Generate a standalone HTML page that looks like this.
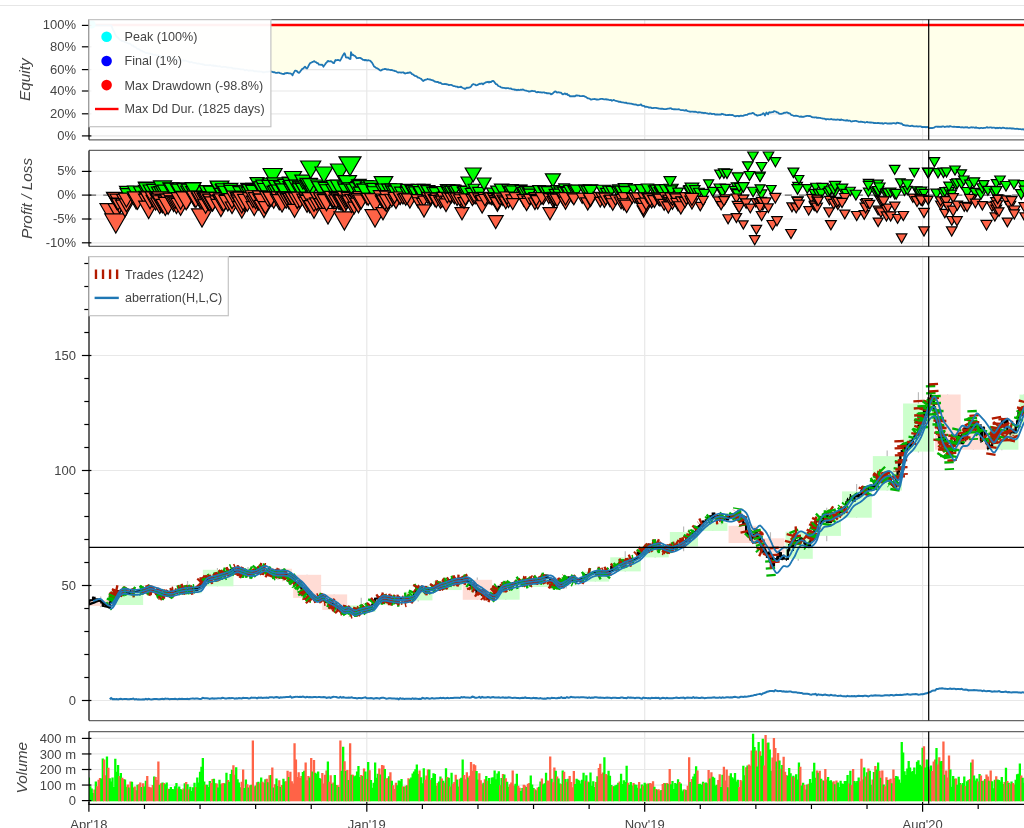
<!DOCTYPE html><html><head><meta charset="utf-8"><title>Backtest</title><style>html,body{margin:0;padding:0;background:#fff;width:1024px;height:828px;overflow:hidden;position:relative}</style></head><body><svg width="1024" height="828" viewBox="0 0 1024 828" style="position:absolute;left:0;top:0"><defs><clipPath id="cEq"><rect x="89.0" y="19.6" width="941.0" height="120.20000000000002"/></clipPath><clipPath id="cPl"><rect x="89.0" y="150.4" width="941.0" height="96.0"/></clipPath><clipPath id="cMn"><rect x="89.0" y="256.6" width="941.0" height="464.0"/></clipPath><clipPath id="cVo"><rect x="89.0" y="731.6" width="941.0" height="72.19999999999993"/></clipPath></defs><rect x="0" y="0" width="1024" height="828" fill="#fff"/><rect x="0" y="5" width="1024" height="1" fill="#e6e6e6"/><g clip-path="url(#cEq)"><line x1="366.8" y1="19.6" x2="366.8" y2="139.8" stroke="#e8e8e8" stroke-width="1.2"/><line x1="644.7" y1="19.6" x2="644.7" y2="139.8" stroke="#e8e8e8" stroke-width="1.2"/><line x1="922.6" y1="19.6" x2="922.6" y2="139.8" stroke="#e8e8e8" stroke-width="1.2"/><line x1="89.0" y1="25.4" x2="1030" y2="25.4" stroke="#e8e8e8" stroke-width="1.2"/><line x1="89.0" y1="46.8" x2="1030" y2="46.8" stroke="#e8e8e8" stroke-width="1.2"/><line x1="89.0" y1="69.6" x2="1030" y2="69.6" stroke="#e8e8e8" stroke-width="1.2"/><line x1="89.0" y1="91" x2="1030" y2="91" stroke="#e8e8e8" stroke-width="1.2"/><line x1="89.0" y1="113.8" x2="1030" y2="113.8" stroke="#e8e8e8" stroke-width="1.2"/><line x1="89.0" y1="135.9" x2="1030" y2="135.9" stroke="#e8e8e8" stroke-width="1.2"/><polygon points="111.4,25.4 89,25.4 90,25.4 91,25.4 92,25.4 93,25.4 94,25.4 95,25.4 96,25.4 97,25.4 98,25.4 99,25.4 100,25.4 101,25.4 102,25.4 103,25.4 104,25.4 105,25.4 106,25.4 107,25.4 108,25.4 109,25.4 110,25.4 111,25.4 111.4,25.4 112,27.12 113,29.95 114,31.37 115,33.87 116,35.99 117,37.03 118,37.62 119,38.88 120,39.76 121,40.2 122,41.07 123,41 124,41.59 125,42.22 126,42.25 127,42.77 128,43.23 129,43.62 130,43.69 131,44.62 132,45.54 133,45.41 134,46.61 135,47.03 136,47.44 137,48.7 138,48.99 139,49.1 140,50.02 141,50.6 142,50.86 143,51.53 144,51.8 145,52.44 146,53.09 146.6,52.83 147,53.14 148,53.2 149,53.57 150,53.46 151,53.84 152,54.16 153,54.66 154,54.94 155,54.55 156,54.91 157,55.49 158,55.05 159,55.66 160,55.98 161,56.51 162,56.57 163,56.52 164,56.71 165,56.94 166,57.58 167,57.29 168,57.52 169,57.89 170,57.97 171,58.15 172,58.12 173,58.6 174,58.69 175,59.29 176,59.36 177,59.39 178,59.77 179,59.72 180,60.26 181,60.2 182,60.55 183,60.28 184,60.89 185,60.58 186,60.69 187,61.32 188,61.38 189,61.84 190,62.56 191,61.99 192,62.23 193,62.63 194,62.9 195,62.92 196,63.11 197,63.53 198,63.68 199,63.48 200,63.91 201,64.14 202,64.06 203,64.58 204,64.49 205,65.14 206,65.05 207,65.13 208,65.07 209,65.29 210,64.93 211,65.25 212,65.73 213,65.21 214,66.06 215,65.51 216,66.24 217,65.95 218,66.46 219,66.4 220,66.09 221,66.89 222,67.05 223,66.77 224,66.83 225,66.96 226,66.91 227,67.57 228,67.31 229,67.59 230,67.55 231,67.74 232,67.73 233,68.51 234,68.31 235,68.74 236,68.65 237,68.63 238,68.87 239,68.96 240,69.25 241,69.31 242,69.48 243,69.36 244,69.65 245,70.41 246,69.95 247,69.97 248,70.44 249,70.82 250,70.22 251,70.65 252,70.66 253,70.5 254,71.24 255,71.16 256,71.31 257,71.22 258,71.63 259,71.5 260,71.72 261,71.6 262,71.69 263,72.44 263.8,72.07 264,72.25 265,72.05 266,71.83 267,71.69 268,71.85 269,71.5 270,71.42 271,71.34 271.3,71.59 272,71.75 273,72.08 274,72.25 275,72.45 276,72.96 277,72.89 278,72.54 279,72.64 280,73.05 281,73.41 282,73.78 283,73.79 284,74 285,73.04 286,73.29 287,72.92 288,73.12 289,73.47 290,73.47 291,73.65 292,74.36 292.5,75.4 293,74.01 294,72.38 295,70.71 296,70.69 297,71.17 297.5,72.06 298,72.34 299,72.94 300,71.84 301,70.45 302,69.12 303,68.63 304,67.59 305,66.59 306,67.88 307,68.48 308,66.93 309,64.92 310,63.34 311,62.7 312,62.18 313,61.9 314,61.1 315,61.79 316,62.18 317,63.01 318,63.15 319,64.72 320,64.64 321,64.83 322,64.64 323,65.88 323.5,66.69 324,65.78 325,64.42 326,62.93 327,62.16 327.5,61.29 328,60.85 329,61.43 330,61.31 331,61.09 332,61.87 333,62.83 334,63.01 335,60.91 335.5,60.06 336,60.48 337,60.04 338,59.81 339,60.24 340,60.71 341,59.1 341.5,58.14 342,57.18 343,55.11 343.5,54.63 344,53.58 344.5,53.27 345,54.18 346,57.47 347,57.66 348,57.5 349,58.43 350,59.03 350.5,58.88 351,52.19 352,55.09 353,54.68 354,55.73 355,55.98 356,57.27 357,58.23 358,58.1 359,57.79 360,57.8 361,58.33 362,59 363,59.88 364,59.86 365,60.4 366,59.88 367,60.56 368,60.24 369,60.48 370,60.67 371,61.53 372,62.55 373,64.44 374,66.45 375,67.01 376,67.88 377,68.14 378,68.82 379,69.52 380,70.34 381,70.5 382,69.83 383,69.32 384,69.18 385,68.96 386,69.18 387,69.62 388,69.5 389,69.74 390,69.94 391,70.23 392,70 393,70.54 394,70.59 395,71.22 396,71.18 397,71.89 398,72.51 399,72.42 400,72.35 401,72.55 402,72.5 403,72.25 404,72.88 405,73.54 406,73.24 407,73.05 408,72.64 409,72.78 410,72.19 411,72.89 412,74.15 413,74.27 414,75.27 415,75.88 416,76.06 417,76.64 418,77.62 419,77.72 420,78.25 421,78.75 422,79.78 423,80.83 423.5,81.04 424,80.34 425,79.91 426,79.55 427,79.3 427.5,78.95 428,79.16 429,79.41 430,79.48 431,79.77 432,80.05 433,80.38 434,80.93 435,81.67 436,81.75 437,82.01 438,81.95 439,82.85 440,82.64 441,83.15 442,83.91 443,84.08 444,84.06 445,83.87 446,84.26 447,84.23 448,84.61 449,85.06 450,84.89 451,84.97 452,85.21 453,85.82 454,86.12 455,86.21 456,86.7 457,86.55 458,87.28 459,87.17 460,87.07 461,86.58 462,87.48 463,87.97 464,88.4 465,88.92 466,88.18 467,87.64 468,87.97 469,87.49 470,87.35 471,86.61 472,84.98 473,84.28 473.5,84.04 474,84.3 475,84.51 476,85.26 477,85.05 478,84.7 479,84.02 480,83.7 481,83.78 482,83.36 483,84.34 484,83.4 485,82.84 486,82.24 487,82.09 488,81.72 489,82.53 490,81.76 491,82.1 492,81.09 493,80.84 494,81.48 495,82.9 496,84.08 497,84.35 498,85.77 499,86.25 500,86.57 501,87.37 502,87.59 503,87.89 504,87.97 505,88.09 506,88.26 507,88.12 508,88.1 509,88.45 510,88.72 511,88.45 512,89.17 513,89.34 514,89.36 515,89.91 516,89.67 517,90.22 518,89.71 519,90.05 520,89.94 521,89.64 522,89.81 523,89.46 524,90.08 525,90.35 526,90.53 527,90.95 528,91.16 529,91.56 530,91.27 531,91.32 532,90.74 533,91.16 534,91.06 535,91.22 536,91.99 537,92.4 538,91.87 539,92.1 540,92.31 541,92.22 542,92.59 543,92.3 544,92.32 545,92.9 546,92.81 547,93.36 548,93.26 549,93.32 550,93.29 551,94.34 552,93.92 553,93.16 554,92.19 555,91.34 556,91.71 557,92.58 558,92.24 559,92.28 560,92.58 561,92.67 562,93.79 563,94.41 563.5,94.26 564,93.82 565,93.41 566,94.35 567,93.8 568,95.13 569,95.23 570,96.26 571,96.23 572,96.43 573,96.12 574,96.26 575,96.25 576,95.51 577,95.45 578,95.58 579,95.58 580,96.2 581,96.19 582,96.08 583,95.98 584,96.05 585,96.65 586,96.99 587,97.82 588,98.47 589,98.47 590,98.91 591,99.68 592,99.38 593,99.18 594,99.19 595,99.01 596,99.5 597,99.4 598,99.56 599,99.33 600,99.07 601,98.89 602,98.94 603,98.99 604,99.31 605,99.37 606,99.16 607,99.69 608,99.51 609,99.87 610,100.13 611,99.98 612,100.82 613,100.3 613.5,99.96 614,100.09 615,100.51 616,100.76 617,101.2 618,101.4 619,101.82 620,101.67 621,102.19 622,102.34 623,102.44 624,102.54 625,102.96 626,102.58 627,103.24 628,103.31 629,103.45 630,103.6 631,103.54 632,103.84 633,104.26 634,104.41 635,104.59 636,104.39 637,105.13 638,105.24 639,105.15 640,104.91 641,104.41 642,105.64 643,105.96 644,105.77 645,106.89 646,106.57 647,106.76 648,107.06 649,107.68 650,107.41 651,107.67 652,108.14 653,108.2 654,107.87 655,107.94 656,107.78 657,108.03 658,108.41 659,108.5 660,108.53 661,108.85 662,108.51 663,108.79 664,109.08 665,109.15 666,109.17 667,108.9 668,108.62 669,108.69 670,108.25 671,108.29 672,109.05 673,109.09 674,109.38 675,109.08 676,109.47 677,109.47 678,109.46 679,109.18 680,109.72 681,110.16 682,110.18 683,110.07 684,110.36 685,110.69 686,109.97 687,110.79 688,111.12 689,111.31 690,111.73 691,111.68 692,111.58 693,111.68 694,111.9 695,111.67 696,111.89 697,112.23 698,112.59 699,112.16 700,112.29 701,112.49 702,112.92 703,112.71 704,113.23 705,112.76 706,113.11 707,113.27 708,113.68 709,113.9 710,113.42 711,113.67 712,114.08 713,113.94 714,113.82 715,114.56 716,114.46 717,114.5 718,114.3 719,114.72 720,114.44 721,114.52 722,113.77 723,114.05 724,114.58 725,114.62 726,115.1 727,115.13 728,114.97 729,115.02 730,114.71 731,115.21 732,115 733,115.23 734,115.82 735,116.26 736,116.26 737,115.84 738,115.93 739,116.32 740,115.97 741,115.66 742,115.83 743,115.81 744,115.39 745,115.09 746,114.79 747,114.97 748,114.11 749,113.76 750,113.69 751,113.62 752,113.22 753,112.92 754,113.58 755,114.71 756,114.78 757,115.55 758,115.49 759,115.17 760,115.11 761,114.64 762,114.38 763,113.33 763.5,113.24 764,113.84 765,115.43 766,113.51 766.5,112.47 767,113.08 768,114.21 769,112.44 770,112.26 771,112.5 772,112.22 773,112.17 774,111.07 774.5,111.28 775,111.46 776,111.64 777,112.42 778,112.49 779,113.56 780,113.75 781,113.81 782,113.77 783,113.41 784,112.73 785,112.89 786,112.46 787,112.42 788,112.85 789,113.41 790,113.42 791,114.8 792,115.06 793,115.53 794,115.99 795,115.76 796,115.55 797,115.98 798,116.1 799,116.47 800,116.82 801,116.37 802,117.02 803,116.62 804,116.77 805,116.37 806,116.02 807,115.78 808,115.87 809,116.05 810,115.98 811,116.57 812,117.22 813,117.44 814,117.45 815,117.48 816,117.27 817,117.94 818,117.71 819,117.84 820,117.93 821,118.22 822,118.29 823,118.58 824,118.53 825,118.91 826,119.61 827,119.06 828,119.06 829,119.29 830,119.38 831,118.98 832,119.27 833,119.61 834,119.51 835,119.53 836,119.95 837,119.45 838,119.7 839,119.61 840,120.17 841,119.41 842,119.83 843,119.97 844,120.37 845,120.45 846,120.75 847,120.11 848,120.79 849,120.63 850,120.63 851,121.43 852,121.57 853,121.03 854,121.21 855,120.78 856,120.84 857,121.29 858,121.48 859,122 860,121.75 861,121.56 862,121.89 863,121.99 864,122.06 865,122.61 866,122.27 867,121.87 868,122.47 869,122.32 870,122.49 871,122.48 872,122.66 873,122.63 874,123.06 875,122.98 876,123.1 877,123.18 878,122.79 879,123.18 880,123.24 881,123.39 882,123.04 883,123.82 884,123.48 885,123.18 886,123.1 887,123.49 888,123.58 889,123.36 890,123.5 891,123.26 892,123.5 893,123.12 894,123.22 895,123.39 896,123.72 897,122.75 898,122.98 899,122.99 900,123.5 901,123.36 902,123.88 903,124.99 904,125.02 905,125.29 906,125.68 907,125.32 908,125.54 909,125.85 910,126.04 911,126.01 912,125.68 913,126.06 914,126.44 915,126.44 916,126.34 917,126.2 918,126.64 919,126.4 920,126.31 921,126.48 922,127.12 923,126.9 924,127.21 925,126.88 926,127.3 927,126.98 928,127.16 929,128.22 930,128.19 931,127.97 932,128.18 933,127.83 934,127.6 935,127.01 936,126.53 937,126.73 938,126.74 939,126.69 940,126.93 941,126.66 942,126.76 943,126.26 944,126.74 945,127.02 946,126.65 947,126.48 948,126.42 949,126.79 950,126.07 951,126.37 952,126.62 953,126.79 954,126.59 955,126.88 956,126.81 957,126.99 958,127.01 959,126.83 960,127.19 961,127.48 962,127.08 963,127.32 964,127.61 965,127.23 966,127.49 967,127.11 968,127.6 969,127.84 970,127.71 971,127.21 972,127.51 973,127.41 974,127.47 975,127.89 976,127.27 977,127.96 978,127.79 979,128.25 980,128.05 981,127.79 982,127.99 983,128.06 984,127.85 985,127.92 986,127.57 987,127.07 988,127.73 989,127.57 990,127.34 991,127.46 992,127.84 993,127.61 994,127.68 995,127.95 996,128.3 997,127.65 998,128.3 999,127.84 1000,127.72 1001,128.32 1002,127.98 1003,127.67 1004,127.91 1005,128.23 1006,128.36 1007,128.01 1008,128.28 1009,128.42 1010,128.14 1011,128.49 1012,128.49 1013,128.47 1014,128.58 1015,128.82 1016,128.85 1017,128.74 1018,128.81 1019,129.24 1020,129.05 1021,129.24 1022,129.33 1023,129.2 1024,129.63 1025,128.88 1026,129.3 1027,129.04 1028,129.6 1029,129.58 1030,128.68 1032,128.96 1030,25.4" fill="#ffffea" stroke="none"/><line x1="89" y1="25" x2="1030" y2="25" stroke="#ff0000" stroke-width="2.4"/><polyline points="89,25.4 90,25.4 91,25.4 92,25.4 93,25.4 94,25.4 95,25.4 96,25.4 97,25.4 98,25.4 99,25.4 100,25.4 101,25.4 102,25.4 103,25.4 104,25.4 105,25.4 106,25.4 107,25.4 108,25.4 109,25.4 110,25.4 111,25.4 111.4,25.4 112,27.12 113,29.95 114,31.37 115,33.87 116,35.99 117,37.03 118,37.62 119,38.88 120,39.76 121,40.2 122,41.07 123,41 124,41.59 125,42.22 126,42.25 127,42.77 128,43.23 129,43.62 130,43.69 131,44.62 132,45.54 133,45.41 134,46.61 135,47.03 136,47.44 137,48.7 138,48.99 139,49.1 140,50.02 141,50.6 142,50.86 143,51.53 144,51.8 145,52.44 146,53.09 146.6,52.83 147,53.14 148,53.2 149,53.57 150,53.46 151,53.84 152,54.16 153,54.66 154,54.94 155,54.55 156,54.91 157,55.49 158,55.05 159,55.66 160,55.98 161,56.51 162,56.57 163,56.52 164,56.71 165,56.94 166,57.58 167,57.29 168,57.52 169,57.89 170,57.97 171,58.15 172,58.12 173,58.6 174,58.69 175,59.29 176,59.36 177,59.39 178,59.77 179,59.72 180,60.26 181,60.2 182,60.55 183,60.28 184,60.89 185,60.58 186,60.69 187,61.32 188,61.38 189,61.84 190,62.56 191,61.99 192,62.23 193,62.63 194,62.9 195,62.92 196,63.11 197,63.53 198,63.68 199,63.48 200,63.91 201,64.14 202,64.06 203,64.58 204,64.49 205,65.14 206,65.05 207,65.13 208,65.07 209,65.29 210,64.93 211,65.25 212,65.73 213,65.21 214,66.06 215,65.51 216,66.24 217,65.95 218,66.46 219,66.4 220,66.09 221,66.89 222,67.05 223,66.77 224,66.83 225,66.96 226,66.91 227,67.57 228,67.31 229,67.59 230,67.55 231,67.74 232,67.73 233,68.51 234,68.31 235,68.74 236,68.65 237,68.63 238,68.87 239,68.96 240,69.25 241,69.31 242,69.48 243,69.36 244,69.65 245,70.41 246,69.95 247,69.97 248,70.44 249,70.82 250,70.22 251,70.65 252,70.66 253,70.5 254,71.24 255,71.16 256,71.31 257,71.22 258,71.63 259,71.5 260,71.72 261,71.6 262,71.69 263,72.44 263.8,72.07 264,72.25 265,72.05 266,71.83 267,71.69 268,71.85 269,71.5 270,71.42 271,71.34 271.3,71.59 272,71.75 273,72.08 274,72.25 275,72.45 276,72.96 277,72.89 278,72.54 279,72.64 280,73.05 281,73.41 282,73.78 283,73.79 284,74 285,73.04 286,73.29 287,72.92 288,73.12 289,73.47 290,73.47 291,73.65 292,74.36 292.5,75.4 293,74.01 294,72.38 295,70.71 296,70.69 297,71.17 297.5,72.06 298,72.34 299,72.94 300,71.84 301,70.45 302,69.12 303,68.63 304,67.59 305,66.59 306,67.88 307,68.48 308,66.93 309,64.92 310,63.34 311,62.7 312,62.18 313,61.9 314,61.1 315,61.79 316,62.18 317,63.01 318,63.15 319,64.72 320,64.64 321,64.83 322,64.64 323,65.88 323.5,66.69 324,65.78 325,64.42 326,62.93 327,62.16 327.5,61.29 328,60.85 329,61.43 330,61.31 331,61.09 332,61.87 333,62.83 334,63.01 335,60.91 335.5,60.06 336,60.48 337,60.04 338,59.81 339,60.24 340,60.71 341,59.1 341.5,58.14 342,57.18 343,55.11 343.5,54.63 344,53.58 344.5,53.27 345,54.18 346,57.47 347,57.66 348,57.5 349,58.43 350,59.03 350.5,58.88 351,52.19 352,55.09 353,54.68 354,55.73 355,55.98 356,57.27 357,58.23 358,58.1 359,57.79 360,57.8 361,58.33 362,59 363,59.88 364,59.86 365,60.4 366,59.88 367,60.56 368,60.24 369,60.48 370,60.67 371,61.53 372,62.55 373,64.44 374,66.45 375,67.01 376,67.88 377,68.14 378,68.82 379,69.52 380,70.34 381,70.5 382,69.83 383,69.32 384,69.18 385,68.96 386,69.18 387,69.62 388,69.5 389,69.74 390,69.94 391,70.23 392,70 393,70.54 394,70.59 395,71.22 396,71.18 397,71.89 398,72.51 399,72.42 400,72.35 401,72.55 402,72.5 403,72.25 404,72.88 405,73.54 406,73.24 407,73.05 408,72.64 409,72.78 410,72.19 411,72.89 412,74.15 413,74.27 414,75.27 415,75.88 416,76.06 417,76.64 418,77.62 419,77.72 420,78.25 421,78.75 422,79.78 423,80.83 423.5,81.04 424,80.34 425,79.91 426,79.55 427,79.3 427.5,78.95 428,79.16 429,79.41 430,79.48 431,79.77 432,80.05 433,80.38 434,80.93 435,81.67 436,81.75 437,82.01 438,81.95 439,82.85 440,82.64 441,83.15 442,83.91 443,84.08 444,84.06 445,83.87 446,84.26 447,84.23 448,84.61 449,85.06 450,84.89 451,84.97 452,85.21 453,85.82 454,86.12 455,86.21 456,86.7 457,86.55 458,87.28 459,87.17 460,87.07 461,86.58 462,87.48 463,87.97 464,88.4 465,88.92 466,88.18 467,87.64 468,87.97 469,87.49 470,87.35 471,86.61 472,84.98 473,84.28 473.5,84.04 474,84.3 475,84.51 476,85.26 477,85.05 478,84.7 479,84.02 480,83.7 481,83.78 482,83.36 483,84.34 484,83.4 485,82.84 486,82.24 487,82.09 488,81.72 489,82.53 490,81.76 491,82.1 492,81.09 493,80.84 494,81.48 495,82.9 496,84.08 497,84.35 498,85.77 499,86.25 500,86.57 501,87.37 502,87.59 503,87.89 504,87.97 505,88.09 506,88.26 507,88.12 508,88.1 509,88.45 510,88.72 511,88.45 512,89.17 513,89.34 514,89.36 515,89.91 516,89.67 517,90.22 518,89.71 519,90.05 520,89.94 521,89.64 522,89.81 523,89.46 524,90.08 525,90.35 526,90.53 527,90.95 528,91.16 529,91.56 530,91.27 531,91.32 532,90.74 533,91.16 534,91.06 535,91.22 536,91.99 537,92.4 538,91.87 539,92.1 540,92.31 541,92.22 542,92.59 543,92.3 544,92.32 545,92.9 546,92.81 547,93.36 548,93.26 549,93.32 550,93.29 551,94.34 552,93.92 553,93.16 554,92.19 555,91.34 556,91.71 557,92.58 558,92.24 559,92.28 560,92.58 561,92.67 562,93.79 563,94.41 563.5,94.26 564,93.82 565,93.41 566,94.35 567,93.8 568,95.13 569,95.23 570,96.26 571,96.23 572,96.43 573,96.12 574,96.26 575,96.25 576,95.51 577,95.45 578,95.58 579,95.58 580,96.2 581,96.19 582,96.08 583,95.98 584,96.05 585,96.65 586,96.99 587,97.82 588,98.47 589,98.47 590,98.91 591,99.68 592,99.38 593,99.18 594,99.19 595,99.01 596,99.5 597,99.4 598,99.56 599,99.33 600,99.07 601,98.89 602,98.94 603,98.99 604,99.31 605,99.37 606,99.16 607,99.69 608,99.51 609,99.87 610,100.13 611,99.98 612,100.82 613,100.3 613.5,99.96 614,100.09 615,100.51 616,100.76 617,101.2 618,101.4 619,101.82 620,101.67 621,102.19 622,102.34 623,102.44 624,102.54 625,102.96 626,102.58 627,103.24 628,103.31 629,103.45 630,103.6 631,103.54 632,103.84 633,104.26 634,104.41 635,104.59 636,104.39 637,105.13 638,105.24 639,105.15 640,104.91 641,104.41 642,105.64 643,105.96 644,105.77 645,106.89 646,106.57 647,106.76 648,107.06 649,107.68 650,107.41 651,107.67 652,108.14 653,108.2 654,107.87 655,107.94 656,107.78 657,108.03 658,108.41 659,108.5 660,108.53 661,108.85 662,108.51 663,108.79 664,109.08 665,109.15 666,109.17 667,108.9 668,108.62 669,108.69 670,108.25 671,108.29 672,109.05 673,109.09 674,109.38 675,109.08 676,109.47 677,109.47 678,109.46 679,109.18 680,109.72 681,110.16 682,110.18 683,110.07 684,110.36 685,110.69 686,109.97 687,110.79 688,111.12 689,111.31 690,111.73 691,111.68 692,111.58 693,111.68 694,111.9 695,111.67 696,111.89 697,112.23 698,112.59 699,112.16 700,112.29 701,112.49 702,112.92 703,112.71 704,113.23 705,112.76 706,113.11 707,113.27 708,113.68 709,113.9 710,113.42 711,113.67 712,114.08 713,113.94 714,113.82 715,114.56 716,114.46 717,114.5 718,114.3 719,114.72 720,114.44 721,114.52 722,113.77 723,114.05 724,114.58 725,114.62 726,115.1 727,115.13 728,114.97 729,115.02 730,114.71 731,115.21 732,115 733,115.23 734,115.82 735,116.26 736,116.26 737,115.84 738,115.93 739,116.32 740,115.97 741,115.66 742,115.83 743,115.81 744,115.39 745,115.09 746,114.79 747,114.97 748,114.11 749,113.76 750,113.69 751,113.62 752,113.22 753,112.92 754,113.58 755,114.71 756,114.78 757,115.55 758,115.49 759,115.17 760,115.11 761,114.64 762,114.38 763,113.33 763.5,113.24 764,113.84 765,115.43 766,113.51 766.5,112.47 767,113.08 768,114.21 769,112.44 770,112.26 771,112.5 772,112.22 773,112.17 774,111.07 774.5,111.28 775,111.46 776,111.64 777,112.42 778,112.49 779,113.56 780,113.75 781,113.81 782,113.77 783,113.41 784,112.73 785,112.89 786,112.46 787,112.42 788,112.85 789,113.41 790,113.42 791,114.8 792,115.06 793,115.53 794,115.99 795,115.76 796,115.55 797,115.98 798,116.1 799,116.47 800,116.82 801,116.37 802,117.02 803,116.62 804,116.77 805,116.37 806,116.02 807,115.78 808,115.87 809,116.05 810,115.98 811,116.57 812,117.22 813,117.44 814,117.45 815,117.48 816,117.27 817,117.94 818,117.71 819,117.84 820,117.93 821,118.22 822,118.29 823,118.58 824,118.53 825,118.91 826,119.61 827,119.06 828,119.06 829,119.29 830,119.38 831,118.98 832,119.27 833,119.61 834,119.51 835,119.53 836,119.95 837,119.45 838,119.7 839,119.61 840,120.17 841,119.41 842,119.83 843,119.97 844,120.37 845,120.45 846,120.75 847,120.11 848,120.79 849,120.63 850,120.63 851,121.43 852,121.57 853,121.03 854,121.21 855,120.78 856,120.84 857,121.29 858,121.48 859,122 860,121.75 861,121.56 862,121.89 863,121.99 864,122.06 865,122.61 866,122.27 867,121.87 868,122.47 869,122.32 870,122.49 871,122.48 872,122.66 873,122.63 874,123.06 875,122.98 876,123.1 877,123.18 878,122.79 879,123.18 880,123.24 881,123.39 882,123.04 883,123.82 884,123.48 885,123.18 886,123.1 887,123.49 888,123.58 889,123.36 890,123.5 891,123.26 892,123.5 893,123.12 894,123.22 895,123.39 896,123.72 897,122.75 898,122.98 899,122.99 900,123.5 901,123.36 902,123.88 903,124.99 904,125.02 905,125.29 906,125.68 907,125.32 908,125.54 909,125.85 910,126.04 911,126.01 912,125.68 913,126.06 914,126.44 915,126.44 916,126.34 917,126.2 918,126.64 919,126.4 920,126.31 921,126.48 922,127.12 923,126.9 924,127.21 925,126.88 926,127.3 927,126.98 928,127.16 929,128.22 930,128.19 931,127.97 932,128.18 933,127.83 934,127.6 935,127.01 936,126.53 937,126.73 938,126.74 939,126.69 940,126.93 941,126.66 942,126.76 943,126.26 944,126.74 945,127.02 946,126.65 947,126.48 948,126.42 949,126.79 950,126.07 951,126.37 952,126.62 953,126.79 954,126.59 955,126.88 956,126.81 957,126.99 958,127.01 959,126.83 960,127.19 961,127.48 962,127.08 963,127.32 964,127.61 965,127.23 966,127.49 967,127.11 968,127.6 969,127.84 970,127.71 971,127.21 972,127.51 973,127.41 974,127.47 975,127.89 976,127.27 977,127.96 978,127.79 979,128.25 980,128.05 981,127.79 982,127.99 983,128.06 984,127.85 985,127.92 986,127.57 987,127.07 988,127.73 989,127.57 990,127.34 991,127.46 992,127.84 993,127.61 994,127.68 995,127.95 996,128.3 997,127.65 998,128.3 999,127.84 1000,127.72 1001,128.32 1002,127.98 1003,127.67 1004,127.91 1005,128.23 1006,128.36 1007,128.01 1008,128.28 1009,128.42 1010,128.14 1011,128.49 1012,128.49 1013,128.47 1014,128.58 1015,128.82 1016,128.85 1017,128.74 1018,128.81 1019,129.24 1020,129.05 1021,129.24 1022,129.33 1023,129.2 1024,129.63 1025,128.88 1026,129.3 1027,129.04 1028,129.6 1029,129.58 1030,128.68 1032,128.96" fill="none" stroke="#1f77b4" stroke-width="1.8" stroke-linejoin="round"/><circle cx="91.6" cy="24.4" r="4" fill="cyan"/></g><path d="M89.0 19.6H1030M89.0 139.8H1030" stroke="#666666" stroke-width="1.2" fill="none"/><line x1="89.0" y1="19.6" x2="89.0" y2="139.8" stroke="#000" stroke-width="1.2"/><line x1="81.9" y1="25.4" x2="91.4" y2="25.4" stroke="#000" stroke-width="1.2"/><text x="76.0" y="29.3" text-anchor="end" font-family="'Liberation Sans', Arial, sans-serif" font-size="13" fill="#444444">100%</text><line x1="81.9" y1="46.8" x2="91.4" y2="46.8" stroke="#000" stroke-width="1.2"/><text x="76.0" y="50.7" text-anchor="end" font-family="'Liberation Sans', Arial, sans-serif" font-size="13" fill="#444444">80%</text><line x1="81.9" y1="69.6" x2="91.4" y2="69.6" stroke="#000" stroke-width="1.2"/><text x="76.0" y="73.5" text-anchor="end" font-family="'Liberation Sans', Arial, sans-serif" font-size="13" fill="#444444">60%</text><line x1="81.9" y1="91" x2="91.4" y2="91" stroke="#000" stroke-width="1.2"/><text x="76.0" y="94.9" text-anchor="end" font-family="'Liberation Sans', Arial, sans-serif" font-size="13" fill="#444444">40%</text><line x1="81.9" y1="113.8" x2="91.4" y2="113.8" stroke="#000" stroke-width="1.2"/><text x="76.0" y="117.7" text-anchor="end" font-family="'Liberation Sans', Arial, sans-serif" font-size="13" fill="#444444">20%</text><line x1="81.9" y1="135.9" x2="91.4" y2="135.9" stroke="#000" stroke-width="1.2"/><text x="76.0" y="139.8" text-anchor="end" font-family="'Liberation Sans', Arial, sans-serif" font-size="13" fill="#444444">0%</text><rect x="89.0" y="19.6" width="181.89999999999998" height="107.1" fill="#fff" fill-opacity="0.95" stroke="#c4c4c4" stroke-width="1.2"/><circle cx="106.6" cy="36.7" r="5.3" fill="cyan"/><text x="124.6" y="41.1" font-family="'Liberation Sans', Arial, sans-serif" font-size="12.6" fill="#444444">Peak (100%)</text><circle cx="106.6" cy="61.0" r="5.3" fill="blue"/><text x="124.6" y="65.4" font-family="'Liberation Sans', Arial, sans-serif" font-size="12.6" fill="#444444">Final (1%)</text><circle cx="106.6" cy="85.1" r="5.3" fill="red"/><text x="124.6" y="89.5" font-family="'Liberation Sans', Arial, sans-serif" font-size="12.6" fill="#444444">Max Drawdown (-98.8%)</text><line x1="95" y1="109.0" x2="118.5" y2="109.0" stroke="red" stroke-width="2.4"/><text x="124.6" y="113.4" font-family="'Liberation Sans', Arial, sans-serif" font-size="12.6" fill="#444444">Max Dd Dur. (1825 days)</text><text x="29.6" y="79.7" transform="rotate(-90 29.6 79.7)" text-anchor="middle" font-family="'Liberation Sans', Arial, sans-serif" font-size="15.4" font-style="italic" fill="#444444">Equity</text><g clip-path="url(#cPl)"><line x1="366.8" y1="150.4" x2="366.8" y2="246.4" stroke="#e8e8e8" stroke-width="1.2"/><line x1="644.7" y1="150.4" x2="644.7" y2="246.4" stroke="#e8e8e8" stroke-width="1.2"/><line x1="922.6" y1="150.4" x2="922.6" y2="246.4" stroke="#e8e8e8" stroke-width="1.2"/><line x1="89.0" y1="171.4" x2="1030" y2="171.4" stroke="#e8e8e8" stroke-width="1.2"/><line x1="89.0" y1="195.1" x2="1030" y2="195.1" stroke="#e8e8e8" stroke-width="1.2"/><line x1="89.0" y1="219" x2="1030" y2="219" stroke="#e8e8e8" stroke-width="1.2"/><line x1="89.0" y1="242.8" x2="1030" y2="242.8" stroke="#e8e8e8" stroke-width="1.2"/><line x1="89.0" y1="195.1" x2="1030" y2="195.1" stroke="#666" stroke-width="1.2" stroke-dasharray="7.1 7.1"/><g stroke="#000" stroke-width="1.2" stroke-linejoin="miter"><path d="M100 203.69H120L110 221.01z" fill="#ff6347"/><path d="M107.42 193.33H123.18L115.3 206.98z" fill="#ff6347"/><path d="M106.51 192.26H124.09L115.3 207.48z" fill="#ff6347"/><path d="M107.97 203.65H125.41L116.69 218.75z" fill="#ff6347"/><path d="M104.8 213.96H126.8L115.8 233.01z" fill="#ff6347"/><path d="M107.06 192.58H126.32L116.69 209.25z" fill="#ff6347"/><path d="M110.02 194.27H126.14L118.08 208.23z" fill="#ff6347"/><path d="M119.51 186.32H133.32L126.42 198.28z" fill="#00ff00"/><path d="M110.83 198.14H128.11L119.47 213.1z" fill="#ff6347"/><path d="M111.51 198.55H124.65L118.08 209.94z" fill="#ff6347"/><path d="M120.15 188.63H132.68L126.42 199.48z" fill="#00ff00"/><path d="M115.81 198.5H131.46L123.64 212.05z" fill="#ff6347"/><path d="M116.66 194.52H133.4L125.03 209.01z" fill="#ff6347"/><path d="M115.47 200.13H134.58L125.03 216.68z" fill="#ff6347"/><path d="M118.92 198.88H133.91L126.42 211.86z" fill="#ff6347"/><path d="M118.47 193.2H134.36L126.42 206.96z" fill="#ff6347"/><path d="M130 187.48H142.28L136.14 198.12z" fill="#00ff00"/><path d="M127.5 185.99H142.01L134.75 198.56z" fill="#00ff00"/><path d="M127.77 194.51H144.52L136.14 209.01z" fill="#ff6347"/><path d="M133.52 186.75H149.88L141.7 200.93z" fill="#00ff00"/><path d="M128.6 192.83H143.68L136.14 205.89z" fill="#ff6347"/><path d="M138.39 185.4H150.57L144.48 195.95z" fill="#00ff00"/><path d="M127.43 191.83H147.63L137.53 209.32z" fill="#ff6347"/><path d="M138.39 182.22H153.35L145.87 195.17z" fill="#00ff00"/><path d="M138.55 182.69H155.97L147.26 197.78z" fill="#00ff00"/><path d="M143.13 185.01H156.94L150.04 196.97z" fill="#00ff00"/><path d="M138.73 191.29H158.57L148.65 208.47z" fill="#ff6347"/><path d="M138.5 194.14H156.02L147.26 209.32z" fill="#ff6347"/><path d="M146.57 184.47H159.07L152.82 195.29z" fill="#00ff00"/><path d="M140.73 192.66H156.57L148.65 206.37z" fill="#ff6347"/><path d="M138.66 201.17H158.63L148.65 218.47z" fill="#ff6347"/><path d="M140.28 191.8H159.79L150.04 208.7z" fill="#ff6347"/><path d="M151.46 186.98H165.29L158.38 198.95z" fill="#00ff00"/><path d="M153.68 186.55H165.85L159.76 197.09z" fill="#00ff00"/><path d="M146.09 195.43H159.54L152.82 207.08z" fill="#ff6347"/><path d="M148.25 194.5H162.94L155.6 207.21z" fill="#ff6347"/><path d="M145.1 191.92H166.09L155.6 210.09z" fill="#ff6347"/><path d="M149.44 192.79H164.53L156.99 205.86z" fill="#ff6347"/><path d="M157.01 184.49H170.86L163.93 196.48z" fill="#00ff00"/><path d="M153.51 180.94H171.57L162.54 196.58z" fill="#00ff00"/><path d="M155.58 185.99H172.29L163.93 200.46z" fill="#00ff00"/><path d="M157.29 185.12H173.36L165.32 199.03z" fill="#00ff00"/><path d="M150.8 194.26H168.73L159.76 209.79z" fill="#ff6347"/><path d="M150.71 197.99H168.82L159.76 213.67z" fill="#ff6347"/><path d="M151.44 192.91H168.09L159.76 207.34z" fill="#ff6347"/><path d="M152.01 191.85H170.3L161.15 207.68z" fill="#ff6347"/><path d="M150.91 194.09H171.39L161.15 211.83z" fill="#ff6347"/><path d="M155.45 194.71H172.42L163.93 209.4z" fill="#ff6347"/><path d="M154.91 197.29H170.17L162.54 210.5z" fill="#ff6347"/><path d="M152.71 195.76H172.38L162.54 212.79z" fill="#ff6347"/><path d="M162.8 182.95H178.96L170.88 196.94z" fill="#00ff00"/><path d="M155.92 199.33H174.72L165.32 215.61z" fill="#ff6347"/><path d="M164.11 183.23H180.43L172.27 197.37z" fill="#00ff00"/><path d="M158.14 195.83H178.07L168.1 213.09z" fill="#ff6347"/><path d="M160.13 194.04H173.29L166.71 205.43z" fill="#ff6347"/><path d="M158.44 197.46H177.76L168.1 214.19z" fill="#ff6347"/><path d="M163.24 193.19H178.52L170.88 206.43z" fill="#ff6347"/><path d="M170.01 183.59H185.65L177.83 197.13z" fill="#00ff00"/><path d="M172.71 182.91H191.28L182 198.99z" fill="#00ff00"/><path d="M172.62 184.82H188.59L180.61 198.65z" fill="#00ff00"/><path d="M164.66 195.85H182.66L173.66 211.44z" fill="#ff6347"/><path d="M172.84 184.86H191.15L182 200.72z" fill="#00ff00"/><path d="M171.13 184.09H190.09L180.61 200.51z" fill="#00ff00"/><path d="M166.42 196.22H186.45L176.44 213.57z" fill="#ff6347"/><path d="M168.48 197.06H181.62L175.05 208.43z" fill="#ff6347"/><path d="M176.77 183.61H190.01L183.39 195.08z" fill="#00ff00"/><path d="M170.89 198.47H190.32L180.61 215.3z" fill="#ff6347"/><path d="M170.98 192.59H190.23L180.61 209.26z" fill="#ff6347"/><path d="M180.67 185.99H194.44L187.55 197.92z" fill="#00ff00"/><path d="M181.43 184.22H196.45L188.94 197.23z" fill="#00ff00"/><path d="M176.77 192.07H192.78L184.78 205.94z" fill="#ff6347"/><path d="M178.76 192.78H196.35L187.55 208.01z" fill="#ff6347"/><path d="M185.52 182.58H200.7L193.11 195.73z" fill="#00ff00"/><path d="M176.84 191.32H195.49L186.17 207.47z" fill="#ff6347"/><path d="M185.56 186.34H203.44L194.5 201.83z" fill="#00ff00"/><path d="M175.87 191.95H196.46L186.17 209.78z" fill="#ff6347"/><path d="M185.3 182.91H200.93L193.11 196.44z" fill="#00ff00"/><path d="M185.84 191.88H203.16L194.5 206.88z" fill="#ff6347"/><path d="M186.48 191.26H205.31L195.89 207.57z" fill="#ff6347"/><path d="M191.38 192.95H208.74L200.06 207.98z" fill="#ff6347"/><path d="M191.24 191.17H211.66L201.45 208.85z" fill="#ff6347"/><path d="M199.1 185.55H214.92L207.01 199.25z" fill="#00ff00"/><path d="M191.5 208.82H212.5L202 227.01z" fill="#ff6347"/><path d="M193.88 191.72H214.57L204.23 209.64z" fill="#ff6347"/><path d="M204.38 186.66H217.98L211.18 198.44z" fill="#00ff00"/><path d="M203.32 186.25H219.03L211.18 199.86z" fill="#00ff00"/><path d="M200.24 193.49H213.78L207.01 205.22z" fill="#ff6347"/><path d="M196.89 193.12H214.35L205.62 208.24z" fill="#ff6347"/><path d="M197.82 199.74H213.41L205.62 213.25z" fill="#ff6347"/><path d="M197.95 192.1H218.85L208.4 210.2z" fill="#ff6347"/><path d="M202.03 194.77H217.55L209.79 208.21z" fill="#ff6347"/><path d="M198.27 193.04H215.74L207.01 208.17z" fill="#ff6347"/><path d="M199.44 192.79H220.13L209.79 210.71z" fill="#ff6347"/><path d="M202.57 194.9H219.78L211.18 209.8z" fill="#ff6347"/><path d="M202.9 194.26H222.23L212.57 210.99z" fill="#ff6347"/><path d="M210.66 182.74H228.36L219.51 198.06z" fill="#00ff00"/><path d="M204.58 196.94H220.55L212.57 210.77z" fill="#ff6347"/><path d="M210.1 181.04H228.92L219.51 197.34z" fill="#00ff00"/><path d="M214.36 188.32H227.44L220.9 199.64z" fill="#00ff00"/><path d="M215.32 184.71H232.04L223.68 199.19z" fill="#00ff00"/><path d="M209.15 192.52H227.09L218.12 208.06z" fill="#ff6347"/><path d="M215.74 183.73H234.4L225.07 199.89z" fill="#00ff00"/><path d="M209.62 195.94H226.63L218.12 210.68z" fill="#ff6347"/><path d="M217.91 186.23H232.23L225.07 198.62z" fill="#00ff00"/><path d="M212.38 194.93H232.21L222.29 212.1z" fill="#ff6347"/><path d="M211.06 199.46H230.75L220.9 216.52z" fill="#ff6347"/><path d="M213.26 195.23H231.32L222.29 210.87z" fill="#ff6347"/><path d="M223.41 183.32H237.85L230.63 195.82z" fill="#00ff00"/><path d="M213.71 193.81H233.66L223.68 211.09z" fill="#ff6347"/><path d="M223.84 186.16H240.2L232.02 200.33z" fill="#00ff00"/><path d="M224.07 185.45H239.97L232.02 199.23z" fill="#00ff00"/><path d="M219.93 194.56H232.99L226.46 205.88z" fill="#ff6347"/><path d="M218.85 195.35H236.85L227.85 210.93z" fill="#ff6347"/><path d="M225.27 201.98H238.77L232.02 213.67z" fill="#ff6347"/><path d="M223.56 193.48H240.47L232.02 208.12z" fill="#ff6347"/><path d="M223.45 193.55H240.59L232.02 208.39z" fill="#ff6347"/><path d="M232.85 186.72H247.86L240.36 199.71z" fill="#00ff00"/><path d="M226.4 191.04H245.98L236.19 207.99z" fill="#ff6347"/><path d="M229.95 192.35H250.76L240.36 210.36z" fill="#ff6347"/><path d="M238.39 185.8H253.44L245.91 198.83z" fill="#00ff00"/><path d="M231.25 193.92H246.68L238.97 207.28z" fill="#ff6347"/><path d="M231.04 195.26H249.67L240.36 211.39z" fill="#ff6347"/><path d="M232.3 201.55H251.3L241.8 218.01z" fill="#ff6347"/><path d="M233.77 191.64H252.49L243.13 207.86z" fill="#ff6347"/><path d="M240.61 183.32H256.77L248.69 197.31z" fill="#00ff00"/><path d="M241.24 187.22H256.14L248.69 200.12z" fill="#00ff00"/><path d="M236.54 197.36H252.51L244.52 211.19z" fill="#ff6347"/><path d="M242.65 184.51H254.74L248.69 194.98z" fill="#00ff00"/><path d="M232.51 197.01H250.98L241.75 213z" fill="#ff6347"/><path d="M236.49 194.01H252.56L244.52 207.93z" fill="#ff6347"/><path d="M232.68 192.2H253.59L243.13 210.31z" fill="#ff6347"/><path d="M242.89 185.26H260.05L251.47 200.12z" fill="#00ff00"/><path d="M241.91 184.37H258.26L250.08 198.53z" fill="#00ff00"/><path d="M245.88 183.46H259.85L252.86 195.56z" fill="#00ff00"/><path d="M246.89 184.41H261.61L254.25 197.16z" fill="#00ff00"/><path d="M246.76 186.3H261.74L254.25 199.27z" fill="#00ff00"/><path d="M237.51 194.35H257.1L247.3 211.31z" fill="#ff6347"/><path d="M245.45 185.31H260.27L252.86 198.14z" fill="#00ff00"/><path d="M242.51 192.71H260.43L251.47 208.23z" fill="#ff6347"/><path d="M250.01 177.65H264.05L257.03 189.81z" fill="#00ff00"/><path d="M246.25 201.7H262.25L254.25 215.56z" fill="#ff6347"/><path d="M246.26 196.03H259.46L252.86 207.46z" fill="#ff6347"/><path d="M254.99 185.77H270.18L262.59 198.92z" fill="#00ff00"/><path d="M245.2 190.74H266.08L255.64 208.81z" fill="#ff6347"/><path d="M255.16 181.92H267.23L261.2 192.37z" fill="#00ff00"/><path d="M253.33 181.84H271.85L262.59 197.88z" fill="#00ff00"/><path d="M249.43 192.71H267.41L258.42 208.28z" fill="#ff6347"/><path d="M248.26 192.54H268.58L258.42 210.14z" fill="#ff6347"/><path d="M255.82 180.22H272.13L263.98 194.34z" fill="#00ff00"/><path d="M257.31 183.49H273.42L265.37 197.43z" fill="#00ff00"/><path d="M252.32 190.9H272.85L262.59 208.68z" fill="#ff6347"/><path d="M252.73 194.18H269.66L261.2 208.84z" fill="#ff6347"/><path d="M262.97 180.62H276.1L269.53 191.99z" fill="#00ff00"/><path d="M262.85 178.25H276.22L269.53 189.83z" fill="#00ff00"/><path d="M254.12 200.46H273.84L263.98 217.54z" fill="#ff6347"/><path d="M253.75 194.17H274.2L263.98 211.88z" fill="#ff6347"/><path d="M261.66 180.37H277.41L269.53 194.01z" fill="#00ff00"/><path d="M263.1 168.5H282.1L272.6 184.95z" fill="#00ff00"/><path d="M258.25 201.6H272.48L265.37 213.92z" fill="#ff6347"/><path d="M259.67 191.7H276.62L268.15 206.38z" fill="#ff6347"/><path d="M266.65 177.87H283.54L275.09 192.49z" fill="#00ff00"/><path d="M267.02 186.42H280.39L273.7 198z" fill="#00ff00"/><path d="M268.47 185.27H284.49L276.48 199.14z" fill="#00ff00"/><path d="M268.33 180.29H284.63L276.48 194.4z" fill="#00ff00"/><path d="M271.29 185.02H284.45L277.87 196.41z" fill="#00ff00"/><path d="M264.16 191.7H283.25L273.7 208.23z" fill="#ff6347"/><path d="M263.15 192.87H278.7L270.92 206.34z" fill="#ff6347"/><path d="M262.8 192.05H279.05L270.92 206.13z" fill="#ff6347"/><path d="M273.83 181.54H290.25L282.04 195.77z" fill="#00ff00"/><path d="M273.88 181.03H290.21L282.04 195.17z" fill="#00ff00"/><path d="M277.85 179.37H291.79L284.82 191.45z" fill="#00ff00"/><path d="M272.71 195.84H285.82L279.26 207.19z" fill="#ff6347"/><path d="M270.31 192.62H285.43L277.87 205.72z" fill="#ff6347"/><path d="M275.93 183.87H293.71L284.82 199.27z" fill="#00ff00"/><path d="M270.21 194.05H288.31L279.26 209.73z" fill="#ff6347"/><path d="M272.39 192.45H288.91L280.65 206.75z" fill="#ff6347"/><path d="M271.76 193.24H289.54L280.65 208.63z" fill="#ff6347"/><path d="M270.82 191.79H290.49L280.65 208.83z" fill="#ff6347"/><path d="M275.41 192.93H288.67L282.04 204.41z" fill="#ff6347"/><path d="M282.38 177.17H298.38L290.38 191.02z" fill="#00ff00"/><path d="M282.85 181.67H295.12L288.99 192.3z" fill="#00ff00"/><path d="M272.06 194.71H292.02L282.04 211.99z" fill="#ff6347"/><path d="M283.62 183.61H299.92L291.77 197.73z" fill="#00ff00"/><path d="M284.92 182.5H301.39L293.16 196.76z" fill="#00ff00"/><path d="M276.85 192.13H295.57L286.21 208.34z" fill="#ff6347"/><path d="M282.19 177.61H298.56L290.38 191.79z" fill="#00ff00"/><path d="M280.2 192.74H295L287.6 205.56z" fill="#ff6347"/><path d="M284.64 180.99H301.67L293.16 195.74z" fill="#00ff00"/><path d="M285.52 182.55H300.79L293.16 195.78z" fill="#00ff00"/><path d="M288.36 179.22H300.73L294.55 189.94z" fill="#00ff00"/><path d="M280.17 193.89H297.81L288.99 209.17z" fill="#ff6347"/><path d="M281.47 192.21H296.51L288.99 205.24z" fill="#ff6347"/><path d="M284.5 171.5H301.5L293 186.22z" fill="#00ff00"/><path d="M283.89 180.33H302.43L293.16 196.39z" fill="#00ff00"/><path d="M288.79 180.11H303.08L295.94 192.48z" fill="#00ff00"/><path d="M292.62 182.81H304.81L298.71 193.37z" fill="#00ff00"/><path d="M282.84 193.41H303.47L293.16 211.28z" fill="#ff6347"/><path d="M292.38 181.16H307.83L300.1 194.54z" fill="#00ff00"/><path d="M284.38 192.09H301.93L293.16 207.29z" fill="#ff6347"/><path d="M284.92 192.65H304.17L294.55 209.31z" fill="#ff6347"/><path d="M292.15 183.73H308.06L300.1 197.51z" fill="#00ff00"/><path d="M287.01 204.29H302.08L294.55 217.35z" fill="#ff6347"/><path d="M294.76 182.2H308.23L301.49 193.87z" fill="#00ff00"/><path d="M295.67 183.49H310.1L302.88 195.99z" fill="#00ff00"/><path d="M294.79 175.16H310.97L302.88 189.17z" fill="#00ff00"/><path d="M289.12 194.32H305.53L297.32 208.53z" fill="#ff6347"/><path d="M288.45 192.94H306.2L297.32 208.31z" fill="#ff6347"/><path d="M299.37 180.1H314.73L307.05 193.39z" fill="#00ff00"/><path d="M300.45 179.24H313.65L307.05 190.67z" fill="#00ff00"/><path d="M291.16 192.19H309.05L300.1 207.69z" fill="#ff6347"/><path d="M300.05 178.35H316.83L308.44 192.88z" fill="#00ff00"/><path d="M304.57 186.01H317.87L311.22 197.53z" fill="#00ff00"/><path d="M296.75 194.07H311.79L304.27 207.09z" fill="#ff6347"/><path d="M302.17 178.69H317.49L309.83 191.96z" fill="#00ff00"/><path d="M298.79 192.79H312.53L305.66 204.68z" fill="#ff6347"/><path d="M300.7 161H320.7L310.7 178.32z" fill="#00ff00"/><path d="M298.2 197.07H315.9L307.05 212.4z" fill="#ff6347"/><path d="M300.16 194.75H313.95L307.05 206.7z" fill="#ff6347"/><path d="M299.81 195.33H319.85L309.83 212.69z" fill="#ff6347"/><path d="M310.68 179.99H322.87L316.78 190.55z" fill="#00ff00"/><path d="M301.84 192.62H320.6L311.22 208.86z" fill="#ff6347"/><path d="M303.87 200.72H324.13L314 218.27z" fill="#ff6347"/><path d="M314.49 182.12H327.4L320.95 193.29z" fill="#00ff00"/><path d="M306.84 198.98H321.15L314 211.37z" fill="#ff6347"/><path d="M311.88 181.76H330.02L320.95 197.47z" fill="#00ff00"/><path d="M309.59 197.9H323.96L316.78 210.35z" fill="#ff6347"/><path d="M314.9 167H332.9L323.9 182.59z" fill="#00ff00"/><path d="M310.64 193.33H328.48L319.56 208.78z" fill="#ff6347"/><path d="M318.07 182.29H332.16L325.12 194.5z" fill="#00ff00"/><path d="M310 192.24H326.34L318.17 206.39z" fill="#ff6347"/><path d="M313.85 198.59H328.05L320.95 210.89z" fill="#ff6347"/><path d="M319.6 184.74H336.19L327.89 199.11z" fill="#00ff00"/><path d="M314.21 194.38H330.46L322.34 208.45z" fill="#ff6347"/><path d="M313.59 192.95H333.86L323.73 210.49z" fill="#ff6347"/><path d="M319 208.42H337L328 224.01z" fill="#ff6347"/><path d="M325.76 184.34H341.14L333.45 197.66z" fill="#00ff00"/><path d="M318.16 193.73H332.07L325.12 205.79z" fill="#ff6347"/><path d="M317.21 194.6H335.8L326.5 210.7z" fill="#ff6347"/><path d="M328.48 180.64H343.99L336.23 194.07z" fill="#00ff00"/><path d="M326.09 180.36H343.59L334.84 195.52z" fill="#00ff00"/><path d="M325.26 195.82H338.86L332.06 207.6z" fill="#ff6347"/><path d="M325.24 194.28H341.67L333.45 208.51z" fill="#ff6347"/><path d="M330.24 180.17H347.78L339.01 195.35z" fill="#00ff00"/><path d="M324.25 191.31H342.66L333.45 207.25z" fill="#ff6347"/><path d="M330.5 164H349.5L340 180.45z" fill="#00ff00"/><path d="M329.2 192.5H348.82L339.01 209.49z" fill="#ff6347"/><path d="M328.72 195.02H343.74L336.23 208.03z" fill="#ff6347"/><path d="M337.35 181.81H354.57L345.96 196.72z" fill="#00ff00"/><path d="M340.56 184.9H354.14L347.35 196.66z" fill="#00ff00"/><path d="M338.21 175.66H356.49L347.35 191.49z" fill="#00ff00"/><path d="M330.8 193.22H350L340.4 209.84z" fill="#ff6347"/><path d="M333.35 195.27H353.01L343.18 212.3z" fill="#ff6347"/><path d="M341.32 183.41H356.15L348.74 196.26z" fill="#00ff00"/><path d="M333.08 194.56H350.49L341.79 209.64z" fill="#ff6347"/><path d="M339 156.8H361L350 175.85z" fill="#00ff00"/><path d="M334.37 195.2H354.77L344.57 212.87z" fill="#ff6347"/><path d="M338.24 184.2H356.46L347.35 199.99z" fill="#00ff00"/><path d="M343.13 182.89H357.12L350.13 195.01z" fill="#00ff00"/><path d="M337.52 195.26H354.4L345.96 209.88z" fill="#ff6347"/><path d="M333.9 211.82H354.9L344.4 230.01z" fill="#ff6347"/><path d="M337.03 191.4H354.88L345.96 206.86z" fill="#ff6347"/><path d="M345.78 184.25H360.03L352.9 196.59z" fill="#00ff00"/><path d="M341.36 192.48H356.11L348.74 205.25z" fill="#ff6347"/><path d="M340.58 194.98H354.11L347.35 206.7z" fill="#ff6347"/><path d="M341.82 195.78H361.21L351.52 212.57z" fill="#ff6347"/><path d="M350.95 181.69H363.2L357.07 192.3z" fill="#00ff00"/><path d="M348.84 182.53H362.53L355.68 194.39z" fill="#00ff00"/><path d="M344.83 194.45H358.2L351.52 206.03z" fill="#ff6347"/><path d="M353.55 179.39H366.16L359.85 190.31z" fill="#00ff00"/><path d="M347.6 202.13H360.99L354.29 213.73z" fill="#ff6347"/><path d="M351.47 179.78H365.46L358.46 191.9z" fill="#00ff00"/><path d="M352.81 180.71H369.68L361.24 195.33z" fill="#00ff00"/><path d="M347.96 195.48H363.41L355.68 208.85z" fill="#ff6347"/><path d="M353.25 187.16H366.46L359.85 198.61z" fill="#00ff00"/><path d="M349.72 194.8H367.2L358.46 209.93z" fill="#ff6347"/><path d="M349.84 193.29H367.08L358.46 208.22z" fill="#ff6347"/><path d="M349.04 192.84H362.33L355.68 204.35z" fill="#ff6347"/><path d="M356.98 184.12H373.84L365.41 198.72z" fill="#00ff00"/><path d="M350.07 198.24H366.85L358.46 212.77z" fill="#ff6347"/><path d="M360.56 180.48H373.04L366.8 191.29z" fill="#00ff00"/><path d="M352.75 191.69H369.74L361.24 206.41z" fill="#ff6347"/><path d="M360.24 182.24H373.36L366.8 193.61z" fill="#00ff00"/><path d="M351.01 193.56H368.69L359.85 208.87z" fill="#ff6347"/><path d="M356.83 184.11H373.99L365.41 198.97z" fill="#00ff00"/><path d="M353.23 194.99H369.25L361.24 208.86z" fill="#ff6347"/><path d="M363.52 180.77H378.42L370.97 193.68z" fill="#00ff00"/><path d="M366.38 183.32H381.12L373.75 196.09z" fill="#00ff00"/><path d="M360.29 193.35H373.31L366.8 204.63z" fill="#ff6347"/><path d="M366.59 186.76H380.9L373.75 199.15z" fill="#00ff00"/><path d="M361.28 193.29H375.1L368.19 205.27z" fill="#ff6347"/><path d="M367.48 194.8H382.8L375.14 208.07z" fill="#ff6347"/><path d="M364.66 193.74H385.62L375.14 211.89z" fill="#ff6347"/><path d="M374.19 176.66H392.76L383.47 192.74z" fill="#00ff00"/><path d="M365 209.69H385L375 227.01z" fill="#ff6347"/><path d="M375.47 184.5H391.48L383.47 198.36z" fill="#00ff00"/><path d="M375.31 195.74H388.85L382.08 207.47z" fill="#ff6347"/><path d="M376.12 194.6H390.83L383.47 207.33z" fill="#ff6347"/><path d="M377.51 184.02H395L386.25 199.16z" fill="#00ff00"/><path d="M381.59 184.16H396.48L389.03 197.05z" fill="#00ff00"/><path d="M376 207.68H390L383 219.8z" fill="#ff6347"/><path d="M376.59 194.44H393.14L384.86 208.78z" fill="#ff6347"/><path d="M384.9 184.21H395.94L390.42 193.77z" fill="#00ff00"/><path d="M373.35 190.68H393.6L383.47 208.22z" fill="#ff6347"/><path d="M376.16 194.01H396.35L386.25 211.49z" fill="#ff6347"/><path d="M376.74 195.74H392.99L384.86 209.82z" fill="#ff6347"/><path d="M385.57 186H398.05L391.81 196.81z" fill="#00ff00"/><path d="M389.09 185.16H400.09L394.59 194.69z" fill="#00ff00"/><path d="M383.9 194.05H396.94L390.42 205.35z" fill="#ff6347"/><path d="M379.58 191.22H398.49L389.03 207.6z" fill="#ff6347"/><path d="M379.1 194.59H396.19L387.64 209.39z" fill="#ff6347"/><path d="M387.57 186.05H401.61L394.59 198.21z" fill="#00ff00"/><path d="M390.05 183.77H401.91L395.98 194.04z" fill="#00ff00"/><path d="M384.58 194.25H399.05L391.81 206.78z" fill="#ff6347"/><path d="M387.76 194.5H401.42L394.59 206.33z" fill="#ff6347"/><path d="M389.12 193.3H400.06L394.59 202.78z" fill="#ff6347"/><path d="M390.29 198.61H401.67L395.98 208.47z" fill="#ff6347"/><path d="M394.47 187.22H405.83L400.15 197.06z" fill="#00ff00"/><path d="M388.34 192.48H400.84L394.59 203.3z" fill="#ff6347"/><path d="M394.66 193.03H405.63L400.15 202.53z" fill="#ff6347"/><path d="M393.76 193.59H406.54L400.15 204.66z" fill="#ff6347"/><path d="M393.13 192.01H407.17L400.15 204.16z" fill="#ff6347"/><path d="M400.14 187.52H414.05L407.1 199.56z" fill="#00ff00"/><path d="M397.22 194.17H408.64L402.93 204.06z" fill="#ff6347"/><path d="M400.56 184.3H413.63L407.1 195.61z" fill="#00ff00"/><path d="M398.77 193.32H412.64L405.71 205.33z" fill="#ff6347"/><path d="M404.79 185.22H417.74L411.26 196.44z" fill="#00ff00"/><path d="M404.53 194.1H415.21L409.87 203.35z" fill="#ff6347"/><path d="M405.79 185.61H419.51L412.65 197.49z" fill="#00ff00"/><path d="M403.24 196.52H416.51L409.87 208.02z" fill="#ff6347"/><path d="M401.19 193.87H413L407.1 204.1z" fill="#ff6347"/><path d="M408.36 186.91H419.73L414.04 196.75z" fill="#00ff00"/><path d="M411.59 184.43H424.83L418.21 195.9z" fill="#00ff00"/><path d="M413.53 188.7H425.67L419.6 199.21z" fill="#00ff00"/><path d="M414.1 187.99H425.1L419.6 197.52z" fill="#00ff00"/><path d="M413.39 186.55H425.81L419.6 197.31z" fill="#00ff00"/><path d="M411.02 194.59H422.62L416.82 204.63z" fill="#ff6347"/><path d="M417.34 184.29H430.2L423.77 195.43z" fill="#00ff00"/><path d="M412.42 197.73H424L418.21 207.75z" fill="#ff6347"/><path d="M420.87 185.58H432.22L426.55 195.41z" fill="#00ff00"/><path d="M421 185.57H434.88L427.94 197.58z" fill="#00ff00"/><path d="M416.58 198.47H428.18L422.38 208.51z" fill="#ff6347"/><path d="M417.79 196.03H429.75L423.77 206.39z" fill="#ff6347"/><path d="M417 204.88H431L424 217z" fill="#ff6347"/><path d="M429.58 186.59H440.19L434.89 195.77z" fill="#00ff00"/><path d="M421.43 192.39H434.44L427.94 203.66z" fill="#ff6347"/><path d="M426.59 187.07H440.41L433.5 199.04z" fill="#00ff00"/><path d="M429.07 187.69H440.7L434.89 197.77z" fill="#00ff00"/><path d="M424.75 195.36H436.68L430.72 205.69z" fill="#ff6347"/><path d="M424.11 192.82H437.32L430.72 204.26z" fill="#ff6347"/><path d="M428.15 194.62H441.62L434.89 206.3z" fill="#ff6347"/><path d="M430.09 193.06H442.46L436.27 203.77z" fill="#ff6347"/><path d="M429.26 195.33H443.29L436.27 207.48z" fill="#ff6347"/><path d="M436.53 186.48H449.92L443.22 198.08z" fill="#00ff00"/><path d="M433.87 196.82H447.02L440.44 208.21z" fill="#ff6347"/><path d="M436.5 193.85H447.16L441.83 203.08z" fill="#ff6347"/><path d="M435.28 195.05H448.39L441.83 206.41z" fill="#ff6347"/><path d="M440.33 184.6H454.45L447.39 196.83z" fill="#00ff00"/><path d="M435.77 196.75H447.89L441.83 207.25z" fill="#ff6347"/><path d="M436.86 192.44H449.59L443.22 203.46z" fill="#ff6347"/><path d="M441.88 187.52H452.9L447.39 197.06z" fill="#00ff00"/><path d="M442.09 185.04H455.47L448.78 196.62z" fill="#00ff00"/><path d="M444.47 186.36H458.65L451.56 198.63z" fill="#00ff00"/><path d="M440.59 196.08H451.42L446 205.46z" fill="#ff6347"/><path d="M438.8 199.01H453.2L446 211.47z" fill="#ff6347"/><path d="M448.74 186.26H459.94L454.34 195.97z" fill="#00ff00"/><path d="M446.23 184.92H459.67L452.95 196.56z" fill="#00ff00"/><path d="M441.62 192.8H453.16L447.39 202.8z" fill="#ff6347"/><path d="M448.48 186.29H460.2L454.34 196.45z" fill="#00ff00"/><path d="M446.02 193.24H457.09L451.56 202.83z" fill="#ff6347"/><path d="M450.33 185.32H461.12L455.73 194.67z" fill="#00ff00"/><path d="M444.81 193.15H455.53L450.17 202.43z" fill="#ff6347"/><path d="M447.67 192.29H461L454.34 203.84z" fill="#ff6347"/><path d="M451.84 193.49H462.39L457.12 202.62z" fill="#ff6347"/><path d="M450.66 192.61H463.58L457.12 203.8z" fill="#ff6347"/><path d="M449.98 193.1H464.25L457.12 205.46z" fill="#ff6347"/><path d="M457.15 187.07H468.21L462.68 196.65z" fill="#00ff00"/><path d="M454.17 192.82H465.63L459.9 202.75z" fill="#ff6347"/><path d="M457.87 186.12H470.26L464.06 196.84z" fill="#00ff00"/><path d="M454.76 196.13H467.81L461.29 207.44z" fill="#ff6347"/><path d="M459.82 186.45H471.09L465.45 196.22z" fill="#00ff00"/><path d="M453.53 194.73H466.26L459.9 205.75z" fill="#ff6347"/><path d="M461 177H475L468 189.12z" fill="#00ff00"/><path d="M455 207.68H469L462 219.8z" fill="#ff6347"/><path d="M461.59 194.36H472.1L466.84 203.47z" fill="#ff6347"/><path d="M457.9 197.54H470.23L464.06 208.21z" fill="#ff6347"/><path d="M465.39 188.5H479.41L472.4 200.64z" fill="#00ff00"/><path d="M468.15 184.23H479.44L473.79 194.01z" fill="#00ff00"/><path d="M465.2 168H481.2L473.2 181.86z" fill="#00ff00"/><path d="M459.09 193.99H471.82L465.45 205.01z" fill="#ff6347"/><path d="M465.87 194.28H478.94L472.4 205.6z" fill="#ff6347"/><path d="M472.62 187.39H486.08L479.35 199.06z" fill="#00ff00"/><path d="M467.55 192.93H480.04L473.79 203.74z" fill="#ff6347"/><path d="M468.72 192.64H481.64L475.18 203.83z" fill="#ff6347"/><path d="M477 178H491L484 190.12z" fill="#00ff00"/><path d="M472.82 193.94H485.87L479.35 205.24z" fill="#ff6347"/><path d="M474.88 196.53H489.38L482.13 209.09z" fill="#ff6347"/><path d="M475.38 195.54H486.09L480.74 204.82z" fill="#ff6347"/><path d="M475.05 200.73H489.2L482.13 212.99z" fill="#ff6347"/><path d="M477.68 192.36H492.14L484.91 204.88z" fill="#ff6347"/><path d="M478.37 194.46H491.45L484.91 205.78z" fill="#ff6347"/><path d="M486.5 188.15H497.21L491.86 197.42z" fill="#00ff00"/><path d="M485.88 192.67H497.83L491.86 203.03z" fill="#ff6347"/><path d="M482.92 193.1H495.23L489.08 203.76z" fill="#ff6347"/><path d="M485.44 193.73H498.27L491.86 204.84z" fill="#ff6347"/><path d="M491.72 187.24H503.1L497.41 197.09z" fill="#00ff00"/><path d="M491.53 186.68H503.3L497.41 196.87z" fill="#00ff00"/><path d="M486.83 193.37H499.66L493.24 204.49z" fill="#ff6347"/><path d="M484.13 192.83H496.8L490.47 203.8z" fill="#ff6347"/><path d="M490.75 186.05H504.08L497.41 197.6z" fill="#00ff00"/><path d="M487.56 193.3H501.7L494.63 205.54z" fill="#ff6347"/><path d="M489.15 195.33H500.12L494.63 204.83z" fill="#ff6347"/><path d="M494.41 184.11H508.75L501.58 196.54z" fill="#00ff00"/><path d="M488.2 215.61H503.2L495.7 228.61z" fill="#ff6347"/><path d="M491.67 194.11H503.15L497.41 204.05z" fill="#ff6347"/><path d="M491.89 201.75H502.94L497.41 211.32z" fill="#ff6347"/><path d="M491.66 197.22H503.17L497.41 207.18z" fill="#ff6347"/><path d="M490.26 197.69H504.56L497.41 210.08z" fill="#ff6347"/><path d="M492.84 193.34H504.77L498.8 203.67z" fill="#ff6347"/><path d="M493.34 193.25H507.04L500.19 205.12z" fill="#ff6347"/><path d="M501.8 184.56H512.48L507.14 193.82z" fill="#00ff00"/><path d="M503.19 186.63H513.87L508.53 195.87z" fill="#00ff00"/><path d="M496.87 195.06H509.07L502.97 205.62z" fill="#ff6347"/><path d="M503.61 186.86H516.22L509.92 197.78z" fill="#00ff00"/><path d="M506.5 188.4H518.89L512.7 199.13z" fill="#00ff00"/><path d="M507.03 184.58H518.36L512.7 194.39z" fill="#00ff00"/><path d="M498.9 196.9H512.6L505.75 208.76z" fill="#ff6347"/><path d="M505.13 186H517.49L511.31 196.71z" fill="#00ff00"/><path d="M501.61 193.25H515.44L508.53 205.23z" fill="#ff6347"/><path d="M501.41 195.22H515.65L508.53 207.56z" fill="#ff6347"/><path d="M500.1 192H514.17L507.14 204.19z" fill="#ff6347"/><path d="M505.96 194.87H516.65L511.31 204.13z" fill="#ff6347"/><path d="M515.41 185.02H526.66L521.03 194.76z" fill="#00ff00"/><path d="M509.12 192.72H521.83L515.48 203.72z" fill="#ff6347"/><path d="M515.09 185.47H526.98L521.03 195.76z" fill="#00ff00"/><path d="M506.33 198.53H519.07L512.7 209.56z" fill="#ff6347"/><path d="M518.27 187.74H529.36L523.81 197.35z" fill="#00ff00"/><path d="M520.82 187.65H532.36L526.59 197.64z" fill="#00ff00"/><path d="M517.25 187.29H530.38L523.81 198.66z" fill="#00ff00"/><path d="M519.38 186.69H531.02L525.2 196.77z" fill="#00ff00"/><path d="M522.57 188.18H533.39L527.98 197.55z" fill="#00ff00"/><path d="M522.81 186.46H535.93L529.37 197.82z" fill="#00ff00"/><path d="M518.45 194.89H529.18L523.81 204.19z" fill="#ff6347"/><path d="M522.38 187.75H536.36L529.37 199.86z" fill="#00ff00"/><path d="M524.41 186.71H537.11L530.76 197.72z" fill="#00ff00"/><path d="M517.12 194.69H530.51L523.81 206.29z" fill="#ff6347"/><path d="M522.94 186.59H535.81L529.37 197.73z" fill="#00ff00"/><path d="M523.55 189.19H535.19L529.37 199.27z" fill="#00ff00"/><path d="M522.28 198.29H533.68L527.98 208.16z" fill="#ff6347"/><path d="M521.79 196.05H534.18L527.98 206.78z" fill="#ff6347"/><path d="M519.6 198.51H533.58L526.59 210.62z" fill="#ff6347"/><path d="M524.95 194.17H536.57L530.76 204.23z" fill="#ff6347"/><path d="M525.26 193.95H536.27L530.76 203.48z" fill="#ff6347"/><path d="M523.55 194.52H535.19L529.37 204.6z" fill="#ff6347"/><path d="M532.78 185.67H545.42L539.1 196.63z" fill="#00ff00"/><path d="M529.51 194.57H540.35L534.93 203.96z" fill="#ff6347"/><path d="M528.78 192.59H541.07L534.93 203.23z" fill="#ff6347"/><path d="M530.33 194.47H542.31L536.32 204.85z" fill="#ff6347"/><path d="M537.6 186.14H548.93L543.27 195.96z" fill="#00ff00"/><path d="M528.28 198.01H541.58L534.93 209.53z" fill="#ff6347"/><path d="M531.75 198.7H543.67L537.71 209.02z" fill="#ff6347"/><path d="M530.48 195.57H542.16L536.32 205.68z" fill="#ff6347"/><path d="M538.28 186.13H551.03L544.66 197.17z" fill="#00ff00"/><path d="M541.15 186.64H553.72L547.43 197.53z" fill="#00ff00"/><path d="M536.66 193.2H549.87L543.27 204.64z" fill="#ff6347"/><path d="M535.3 192.68H548.45L541.88 204.07z" fill="#ff6347"/><path d="M545.4 173.8H560.4L552.9 186.79z" fill="#00ff00"/><path d="M549.09 189.38H559.68L554.38 198.55z" fill="#00ff00"/><path d="M543.13 193.61H554.52L548.82 203.48z" fill="#ff6347"/><path d="M550.74 185.52H563.58L557.16 196.64z" fill="#00ff00"/><path d="M543 207.68H557L550 219.8z" fill="#ff6347"/><path d="M553.85 186.8H566.03L559.94 197.35z" fill="#00ff00"/><path d="M552.58 189.13H564.52L558.55 199.47z" fill="#00ff00"/><path d="M548.8 193.55H559.96L554.38 203.22z" fill="#ff6347"/><path d="M547 196.57H558.99L552.99 206.96z" fill="#ff6347"/><path d="M547.23 194.28H561.53L554.38 206.67z" fill="#ff6347"/><path d="M547.44 192.42H561.32L554.38 204.44z" fill="#ff6347"/><path d="M547.89 193.69H560.88L554.38 204.94z" fill="#ff6347"/><path d="M557.43 187.03H570.79L564.11 198.6z" fill="#00ff00"/><path d="M552.83 193.14H564.27L558.55 203.04z" fill="#ff6347"/><path d="M550.04 194.17H564.28L557.16 206.49z" fill="#ff6347"/><path d="M559.59 185.12H571.41L565.5 195.36z" fill="#00ff00"/><path d="M558.73 183.94H569.48L564.11 193.25z" fill="#00ff00"/><path d="M560.08 186.7H570.91L565.5 196.08z" fill="#00ff00"/><path d="M555.8 192.68H569.64L562.72 204.67z" fill="#ff6347"/><path d="M558.65 193.06H569.56L564.11 202.5z" fill="#ff6347"/><path d="M561.52 187.33H575.04L568.28 199.04z" fill="#00ff00"/><path d="M556.53 192.61H568.91L562.72 203.33z" fill="#ff6347"/><path d="M563.48 185.28H575.85L569.67 196z" fill="#00ff00"/><path d="M558.51 197.13H572.48L565.5 209.23z" fill="#ff6347"/><path d="M558.39 192.7H572.6L565.5 205z" fill="#ff6347"/><path d="M567.92 186.45H579.75L573.84 196.69z" fill="#00ff00"/><path d="M569.04 185.91H581.41L575.23 196.62z" fill="#00ff00"/><path d="M569.96 185.11H583.27L576.61 196.63z" fill="#00ff00"/><path d="M566.59 192.85H578.3L572.45 202.99z" fill="#ff6347"/><path d="M567.47 193.81H580.2L573.84 204.84z" fill="#ff6347"/><path d="M578.46 185.17H591.44L584.95 196.41z" fill="#00ff00"/><path d="M581.13 185.95H594.33L587.73 197.38z" fill="#00ff00"/><path d="M576.28 193.19H588.06L582.17 203.39z" fill="#ff6347"/><path d="M583.46 184.78H597.56L590.51 196.99z" fill="#00ff00"/><path d="M583.42 185.33H597.6L590.51 197.61z" fill="#00ff00"/><path d="M580.66 197.86H594.8L587.73 210.1z" fill="#ff6347"/><path d="M583.89 195.16H597.13L590.51 206.62z" fill="#ff6347"/><path d="M583.43 193.43H597.59L590.51 205.7z" fill="#ff6347"/><path d="M597.41 187.21H608.62L603.01 196.92z" fill="#00ff00"/><path d="M595.84 185.23H610.19L603.01 197.67z" fill="#00ff00"/><path d="M600.49 188.34H613.88L607.18 199.93z" fill="#00ff00"/><path d="M592.99 192.45H607.48L600.24 205z" fill="#ff6347"/><path d="M602.57 186.04H614.58L608.57 196.44z" fill="#00ff00"/><path d="M594.65 197.29H605.82L600.24 206.96z" fill="#ff6347"/><path d="M595.72 192.85H607.53L601.63 203.07z" fill="#ff6347"/><path d="M598.26 196.95H610.55L604.4 207.58z" fill="#ff6347"/><path d="M605.8 186.38H616.91L611.35 196.01z" fill="#00ff00"/><path d="M598.79 193.03H612.8L605.79 205.17z" fill="#ff6347"/><path d="M603.72 195.85H616.2L609.96 206.65z" fill="#ff6347"/><path d="M604.82 195.19H617.88L611.35 206.5z" fill="#ff6347"/><path d="M606.1 198.77H619.38L612.74 210.27z" fill="#ff6347"/><path d="M611.74 187.1H624.86L618.3 198.47z" fill="#00ff00"/><path d="M612.55 184.97H624.05L618.3 194.93z" fill="#00ff00"/><path d="M609.7 195.18H621.35L615.52 205.27z" fill="#ff6347"/><path d="M614.5 186.04H627.65L621.08 197.43z" fill="#00ff00"/><path d="M618.65 186.94H631.84L625.25 198.36z" fill="#00ff00"/><path d="M618.23 183.54H632.26L625.25 195.69z" fill="#00ff00"/><path d="M620.87 186.37H632.4L626.64 196.35z" fill="#00ff00"/><path d="M618.65 186.68H631.84L625.25 198.11z" fill="#00ff00"/><path d="M614.27 196.98H627.89L621.08 208.77z" fill="#ff6347"/><path d="M615.81 194.45H626.35L621.08 203.58z" fill="#ff6347"/><path d="M617.75 192.54H629.96L623.86 203.12z" fill="#ff6347"/><path d="M617.33 198.74H630.39L623.86 210.05z" fill="#ff6347"/><path d="M628.28 184.85H638.88L633.58 194.03z" fill="#00ff00"/><path d="M619.44 200.03H633.83L626.64 212.5z" fill="#ff6347"/><path d="M626.39 193.31H637.99L632.19 203.35z" fill="#ff6347"/><path d="M635.7 185.05H648.14L641.92 195.83z" fill="#00ff00"/><path d="M634.89 184.64H648.96L641.92 196.83z" fill="#00ff00"/><path d="M629.3 193.24H640.64L634.97 203.06z" fill="#ff6347"/><path d="M631.12 192.84H644.38L637.75 204.32z" fill="#ff6347"/><path d="M641.37 183.98H653.59L647.48 194.56z" fill="#00ff00"/><path d="M635.97 198.65H647.87L641.92 208.96z" fill="#ff6347"/><path d="M637.2 205.75H650.2L643.7 217z" fill="#ff6347"/><path d="M636.61 203.47H650.01L643.31 215.08z" fill="#ff6347"/><path d="M637.79 192.78H651.61L644.7 204.75z" fill="#ff6347"/><path d="M639.16 198.11H653.02L646.09 210.11z" fill="#ff6347"/><path d="M641.72 193.36H653.24L647.48 203.34z" fill="#ff6347"/><path d="M650.54 185.74H661.09L655.82 194.88z" fill="#00ff00"/><path d="M646.11 198.45H657.18L651.65 208.04z" fill="#ff6347"/><path d="M643.05 193.89H657.46L650.26 206.36z" fill="#ff6347"/><path d="M648.35 185.95H660.5L654.43 196.47z" fill="#00ff00"/><path d="M650.7 186.68H663.71L657.21 197.95z" fill="#00ff00"/><path d="M651.9 185.75H665.29L658.59 197.35z" fill="#00ff00"/><path d="M650.08 185.11H664.33L657.21 197.44z" fill="#00ff00"/><path d="M654.07 187.51H665.9L659.98 197.74z" fill="#00ff00"/><path d="M647.52 195.65H661.34L654.43 207.62z" fill="#ff6347"/><path d="M653.91 185.07H666.06L659.98 195.59z" fill="#00ff00"/><path d="M654.35 184.78H668.4L661.37 196.94z" fill="#00ff00"/><path d="M651.64 193.07H662.77L657.21 202.71z" fill="#ff6347"/><path d="M652.71 194.88H664.48L658.59 205.06z" fill="#ff6347"/><path d="M659.17 184.55H671.91L665.54 195.58z" fill="#00ff00"/><path d="M652.2 193.16H664.99L658.59 204.23z" fill="#ff6347"/><path d="M653.54 194.67H666.43L659.98 205.83z" fill="#ff6347"/><path d="M653.32 194.17H666.65L659.98 205.71z" fill="#ff6347"/><path d="M664.07 184.24H678.13L671.1 196.42z" fill="#00ff00"/><path d="M664 176.7H676L670 187.09z" fill="#00ff00"/><path d="M665.56 185.91H676.64L671.1 195.51z" fill="#00ff00"/><path d="M657.79 199.29H670.51L664.15 210.3z" fill="#ff6347"/><path d="M659.38 192.58H671.7L665.54 203.25z" fill="#ff6347"/><path d="M662.49 196.04H676.94L669.71 208.55z" fill="#ff6347"/><path d="M663.06 195.18H676.36L669.71 206.7z" fill="#ff6347"/><path d="M661.94 201.92H674.7L668.32 212.98z" fill="#ff6347"/><path d="M665.76 197.55H679.22L672.49 209.21z" fill="#ff6347"/><path d="M667.15 194.95H677.83L672.49 204.2z" fill="#ff6347"/><path d="M665.58 193.32H679.4L672.49 205.29z" fill="#ff6347"/><path d="M672.69 188.11H683.4L678.05 197.38z" fill="#00ff00"/><path d="M664.92 193H677.28L671.1 203.71z" fill="#ff6347"/><path d="M668.93 192.87H681.61L675.27 203.86z" fill="#ff6347"/><path d="M669.87 193.81H683.45L676.66 205.57z" fill="#ff6347"/><path d="M670.88 198.46H685.22L678.05 210.88z" fill="#ff6347"/><path d="M676.1 196.89H688.33L682.22 207.48z" fill="#ff6347"/><path d="M675.71 197.01H688.73L682.22 208.29z" fill="#ff6347"/><path d="M683.33 186.25H695L689.16 196.35z" fill="#00ff00"/><path d="M673.72 201.74H687.94L680.83 214.06z" fill="#ff6347"/><path d="M683.89 185.67H697.21L690.55 197.21z" fill="#00ff00"/><path d="M679.22 197.5H690.77L685 207.51z" fill="#ff6347"/><path d="M679.51 192.59H693.26L686.38 204.5z" fill="#ff6347"/><path d="M685.08 183.16H698.81L691.94 195.05z" fill="#00ff00"/><path d="M684.86 195.99H696.24L690.55 205.85z" fill="#ff6347"/><path d="M689.42 185.55H700.02L694.72 194.72z" fill="#00ff00"/><path d="M693.5 188.27H704.28L698.89 197.6z" fill="#00ff00"/><path d="M686.1 198.83H697.79L691.94 208.96z" fill="#ff6347"/><path d="M685.02 193.42H698.87L691.94 205.41z" fill="#ff6347"/><path d="M698.91 189.47H709.99L704.45 199.08z" fill="#00ff00"/><path d="M695.39 202.35H705.17L700.28 210.82z" fill="#ff6347"/><path d="M697.81 196.45H708.31L703.06 205.55z" fill="#ff6347"/><path d="M703.6 179.86H713.64L708.62 188.55z" fill="#00ff00"/><path d="M707.5 187.37H718.07L712.79 196.52z" fill="#00ff00"/><path d="M714.05 183.99H725.41L719.73 193.83z" fill="#00ff00"/><path d="M714.73 170.11H724.73L719.73 178.77z" fill="#00ff00"/><path d="M717 187.49H728.03L722.51 197.05z" fill="#00ff00"/><path d="M718.38 168.85H729.42L723.9 178.41z" fill="#00ff00"/><path d="M713.28 196.93H723.4L718.34 205.7z" fill="#ff6347"/><path d="M720.2 184.34H730.38L725.29 193.15z" fill="#00ff00"/><path d="M716.37 201.61H725.88L721.12 209.84z" fill="#ff6347"/><path d="M721.75 169.4H732.25L727 178.49z" fill="#00ff00"/><path d="M720.24 194.93H730.34L725.29 203.68z" fill="#ff6347"/><path d="M718.6 196.58H729.21L723.9 205.77z" fill="#ff6347"/><path d="M722.89 214.76H733.25L728.07 223.72z" fill="#ff6347"/><path d="M731.31 186.74H741.51L736.41 195.57z" fill="#00ff00"/><path d="M731.28 182.86H741.54L736.41 191.75z" fill="#00ff00"/><path d="M729.44 186.43H740.6L735.02 196.09z" fill="#00ff00"/><path d="M730.79 188.97H742.02L736.41 198.7z" fill="#00ff00"/><path d="M732.16 172.81H743.44L737.8 182.58z" fill="#00ff00"/><path d="M732.1 189.56H743.49L737.8 199.43z" fill="#00ff00"/><path d="M734.42 183.42H743.96L739.19 191.68z" fill="#00ff00"/><path d="M731.2 213.66H741.61L736.41 222.67z" fill="#ff6347"/><path d="M731.26 194H741.55L736.41 202.91z" fill="#ff6347"/><path d="M737.76 182.62H748.95L743.35 192.3z" fill="#00ff00"/><path d="M732.24 201.28H743.36L737.8 210.91z" fill="#ff6347"/><path d="M733.81 203.52H744.56L739.19 212.83z" fill="#ff6347"/><path d="M742.55 161.8H753.05L747.8 170.89z" fill="#00ff00"/><path d="M744.25 171.5H754.75L749.5 180.59z" fill="#00ff00"/><path d="M738.05 195.15H748.66L743.35 204.34z" fill="#ff6347"/><path d="M738.59 220.91H748.12L743.35 229.16z" fill="#ff6347"/><path d="M747.75 152H758.25L753 161.09z" fill="#00ff00"/><path d="M740.75 198.9H751.52L746.13 208.22z" fill="#ff6347"/><path d="M747.58 187.27H758.59L753.08 196.81z" fill="#00ff00"/><path d="M745.35 204.19H755.26L750.3 212.77z" fill="#ff6347"/><path d="M755.99 189.93H766.85L761.42 199.34z" fill="#00ff00"/><path d="M754.75 172H765.25L760 181.09z" fill="#00ff00"/><path d="M755.15 173.21H764.91L760.03 181.66z" fill="#00ff00"/><path d="M756.35 162.5H766.85L761.6 171.59z" fill="#00ff00"/><path d="M755.06 184.87H765L760.03 193.48z" fill="#00ff00"/><path d="M751.15 225.31H761.65L756.4 234.4z" fill="#ff6347"/><path d="M749.45 235.71H759.95L754.7 244.8z" fill="#ff6347"/><path d="M750.98 198.66H760.74L755.86 207.11z" fill="#ff6347"/><path d="M754.29 199.23H765.76L760.03 209.16z" fill="#ff6347"/><path d="M756.35 211.51H766.85L761.6 220.6z" fill="#ff6347"/><path d="M757.11 200.29H768.51L762.81 210.16z" fill="#ff6347"/><path d="M756.36 197.47H766.48L761.42 206.23z" fill="#ff6347"/><path d="M755.06 203.38H764.99L760.03 211.98z" fill="#ff6347"/><path d="M763.25 152H773.75L768.5 161.09z" fill="#00ff00"/><path d="M766.16 185.48H776.13L771.14 194.11z" fill="#00ff00"/><path d="M760.15 197.91H771.02L765.59 207.32z" fill="#ff6347"/><path d="M763.39 203.92H773.34L768.37 212.54z" fill="#ff6347"/><path d="M770.15 157.7H780.65L775.4 166.79z" fill="#00ff00"/><path d="M767.02 220.48H778.05L772.53 230.03z" fill="#ff6347"/><path d="M769.74 193.38H780.89L775.31 203.04z" fill="#ff6347"/><path d="M771.75 216.71H782.25L777 225.8z" fill="#ff6347"/><path d="M787.92 168.15H798.83L793.38 177.6z" fill="#00ff00"/><path d="M785.75 229.51H796.25L791 238.6z" fill="#ff6347"/><path d="M792.68 182.29H802.41L797.54 190.72z" fill="#00ff00"/><path d="M786.87 202.88H797.1L791.99 211.74z" fill="#ff6347"/><path d="M791.93 184.59H803.16L797.54 194.31z" fill="#00ff00"/><path d="M794.05 175.52H803.82L798.93 183.99z" fill="#00ff00"/><path d="M790.93 203.73H801.38L796.16 212.77z" fill="#ff6347"/><path d="M791.91 196.91H803.18L797.54 206.66z" fill="#ff6347"/><path d="M792.29 197.34H802.8L797.54 206.45z" fill="#ff6347"/><path d="M793.61 200.1H804.26L798.93 209.32z" fill="#ff6347"/><path d="M802.28 184.64H812.26L807.27 193.28z" fill="#00ff00"/><path d="M810.75 183.27H820.46L815.61 191.68z" fill="#00ff00"/><path d="M803.89 206.7H813.43L808.66 214.96z" fill="#ff6347"/><path d="M808.95 189.35H819.49L814.22 198.48z" fill="#00ff00"/><path d="M806.63 194.34H816.25L811.44 202.66z" fill="#ff6347"/><path d="M813.06 189.65H823.72L818.39 198.88z" fill="#00ff00"/><path d="M810.21 201.17H821.01L815.61 210.52z" fill="#ff6347"/><path d="M809.27 202.09H819.17L814.22 210.67z" fill="#ff6347"/><path d="M809.38 201.26H819.05L814.22 209.63z" fill="#ff6347"/><path d="M816.87 183.31H828.24L822.56 193.16z" fill="#00ff00"/><path d="M811.57 203.2H822.42L817 212.6z" fill="#ff6347"/><path d="M811.87 196.74H822.13L817 205.62z" fill="#ff6347"/><path d="M815.75 189.25H826.58L821.17 198.63z" fill="#00ff00"/><path d="M811.99 195.17H822.01L817 203.85z" fill="#ff6347"/><path d="M813.46 197.13H823.32L818.39 205.67z" fill="#ff6347"/><path d="M824.27 187.66H834.74L829.5 196.73z" fill="#00ff00"/><path d="M823.04 188.51H833.19L828.11 197.3z" fill="#00ff00"/><path d="M824.55 186.77H834.46L829.5 195.35z" fill="#00ff00"/><path d="M829.53 187.37H840.59L835.06 196.95z" fill="#00ff00"/><path d="M828.05 184.94H839.29L833.67 194.68z" fill="#00ff00"/><path d="M824.52 196.28H834.48L829.5 204.91z" fill="#ff6347"/><path d="M829.44 181.31H840.69L835.06 191.06z" fill="#00ff00"/><path d="M823.75 207.91H834.25L829 217z" fill="#ff6347"/><path d="M825.5 220.55H836.29L830.89 229.89z" fill="#ff6347"/><path d="M828.24 199.38H839.11L833.67 208.79z" fill="#ff6347"/><path d="M836.27 184.09H847.75L842.01 194.04z" fill="#00ff00"/><path d="M832.88 200.98H842.8L837.84 209.57z" fill="#ff6347"/><path d="M830.92 197.72H841.98L836.45 207.29z" fill="#ff6347"/><path d="M840.95 189.33H851.41L846.18 198.39z" fill="#00ff00"/><path d="M832.56 197.34H843.12L837.84 206.48z" fill="#ff6347"/><path d="M839.45 193.49H850.13L844.79 202.74z" fill="#ff6347"/><path d="M836.75 198.43H847.27L842.01 207.54z" fill="#ff6347"/><path d="M839.71 210.13H849.86L844.79 218.92z" fill="#ff6347"/><path d="M845.36 187.27H855.33L850.35 195.9z" fill="#00ff00"/><path d="M850.27 190.23H861.54L855.9 199.99z" fill="#00ff00"/><path d="M851.45 211.51H861.95L856.7 220.6z" fill="#ff6347"/><path d="M863.42 188.19H873.4L868.41 196.84z" fill="#00ff00"/><path d="M863.33 179.45H873.49L868.41 188.25z" fill="#00ff00"/><path d="M863.25 181.47H873.57L868.41 190.41z" fill="#00ff00"/><path d="M859.16 210.61H869.32L864.24 219.4z" fill="#ff6347"/><path d="M860.44 199.51H870.82L865.63 208.49z" fill="#ff6347"/><path d="M859.96 203.14H871.3L865.63 212.96z" fill="#ff6347"/><path d="M861.66 198.61H872.38L867.02 207.9z" fill="#ff6347"/><path d="M864.86 200.41H874.73L869.8 208.96z" fill="#ff6347"/><path d="M869.99 187.2H880.73L875.36 196.5z" fill="#00ff00"/><path d="M873.2 180.14H883.08L878.14 188.7z" fill="#00ff00"/><path d="M872.48 188.35H883.79L878.14 198.14z" fill="#00ff00"/><path d="M872.64 186.48H883.64L878.14 196z" fill="#00ff00"/><path d="M874.03 183.01H885.02L879.53 192.53z" fill="#00ff00"/><path d="M880.3 189.18H889.87L885.08 197.46z" fill="#00ff00"/><path d="M873.15 206.17H883.12L878.14 214.8z" fill="#ff6347"/><path d="M873.2 218.07H883.07L878.14 226.61z" fill="#ff6347"/><path d="M881.62 188.66H891.32L886.47 197.06z" fill="#00ff00"/><path d="M875.21 196.37H886.62L880.91 206.25z" fill="#ff6347"/><path d="M882.46 189.02H893.26L887.86 198.37z" fill="#00ff00"/><path d="M875.51 207.94H886.32L880.91 217.31z" fill="#ff6347"/><path d="M876.83 196.57H887.78L882.3 206.05z" fill="#ff6347"/><path d="M885.39 188.19H895.89L890.64 197.28z" fill="#00ff00"/><path d="M878.19 196.87H889.2L883.69 206.41z" fill="#ff6347"/><path d="M881.23 211.9H891.72L886.47 220.98z" fill="#ff6347"/><path d="M881.17 205.29H891.78L886.47 214.47z" fill="#ff6347"/><path d="M889.43 189.85H900.19L894.81 199.17z" fill="#00ff00"/><path d="M889.45 165.3H899.95L894.7 174.39z" fill="#00ff00"/><path d="M883.04 204.14H892.68L887.86 212.49z" fill="#ff6347"/><path d="M885.26 211.81H896.02L890.64 221.14z" fill="#ff6347"/><path d="M890.6 189.31H901.8L896.2 199.01z" fill="#00ff00"/><path d="M895.52 178.82H905.21L900.37 187.22z" fill="#00ff00"/><path d="M889.7 202.19H899.92L894.81 211.04z" fill="#ff6347"/><path d="M899.71 187.2H909.36L904.54 195.56z" fill="#00ff00"/><path d="M892.54 214.49H902.64L897.59 223.24z" fill="#ff6347"/><path d="M902.44 186.35H912.19L907.32 194.79z" fill="#00ff00"/><path d="M898.05 211.51H908.55L903.3 220.6z" fill="#ff6347"/><path d="M901.66 179.93H912.97L907.32 189.73z" fill="#00ff00"/><path d="M896.35 233.91H906.85L901.6 243z" fill="#ff6347"/><path d="M909.36 168.47H919.17L914.26 176.97z" fill="#00ff00"/><path d="M912.07 186.78H922.01L917.04 195.39z" fill="#00ff00"/><path d="M914.16 190.14H925.48L919.82 199.94z" fill="#00ff00"/><path d="M914.65 188.97H924.99L919.82 197.93z" fill="#00ff00"/><path d="M908.1 194.09H917.65L912.87 202.36z" fill="#ff6347"/><path d="M915.58 187.1H926.84L921.21 196.84z" fill="#00ff00"/><path d="M911.3 196.61H922.78L917.04 206.55z" fill="#ff6347"/><path d="M918.99 189.37H928.99L923.99 198.04z" fill="#00ff00"/><path d="M914.62 194.64H925.02L919.82 203.65z" fill="#ff6347"/><path d="M915.94 196.04H926.48L921.21 205.17z" fill="#ff6347"/><path d="M916.98 196.13H928.22L922.6 205.87z" fill="#ff6347"/><path d="M922.41 167.98H933.9L928.16 177.93z" fill="#00ff00"/><path d="M918.75 226.91H929.25L924 236z" fill="#ff6347"/><path d="M915.7 195.85H926.72L921.21 205.39z" fill="#ff6347"/><path d="M922.75 168.29H933.57L928.16 177.66z" fill="#00ff00"/><path d="M918.67 208.35H929.3L923.99 217.56z" fill="#ff6347"/><path d="M923.31 196.39H933.01L928.16 204.79z" fill="#ff6347"/><path d="M929.15 157.7H939.65L934.4 166.79z" fill="#00ff00"/><path d="M930.93 189.11H942.06L936.5 198.75z" fill="#00ff00"/><path d="M932.75 168.7H943.25L938 177.79z" fill="#00ff00"/><path d="M937.98 168.15H948.91L943.44 177.61z" fill="#00ff00"/><path d="M938.26 189.19H948.63L943.44 198.17z" fill="#00ff00"/><path d="M939.82 187.65H949.84L944.83 196.33z" fill="#00ff00"/><path d="M935.62 201.09H945.71L940.66 209.82z" fill="#ff6347"/><path d="M943.7 187.33H954.3L949 196.51z" fill="#00ff00"/><path d="M941.25 168H951.75L946.5 177.09z" fill="#00ff00"/><path d="M935.46 196.85H945.86L940.66 205.86z" fill="#ff6347"/><path d="M939.87 197.96H949.8L944.83 206.56z" fill="#ff6347"/><path d="M946.97 190.12H956.59L951.78 198.44z" fill="#00ff00"/><path d="M939.94 209.4H949.73L944.83 217.88z" fill="#ff6347"/><path d="M940.87 196.61H951.57L946.22 205.88z" fill="#ff6347"/><path d="M943.77 182.11H954.23L949 191.16z" fill="#00ff00"/><path d="M942.68 202.28H952.55L947.61 210.83z" fill="#ff6347"/><path d="M949.75 166H960.25L955 175.09z" fill="#00ff00"/><path d="M950.2 179.5H961.7L955.95 189.46z" fill="#00ff00"/><path d="M951.89 178.93H962.78L957.34 188.36z" fill="#00ff00"/><path d="M946.71 216.51H956.85L951.78 225.29z" fill="#ff6347"/><path d="M946.45 226.91H956.95L951.7 236z" fill="#ff6347"/><path d="M947.98 193.63H958.36L953.17 202.61z" fill="#ff6347"/><path d="M947.44 206.08H958.9L953.17 216.01z" fill="#ff6347"/><path d="M955.96 179.03H967.05L961.51 188.63z" fill="#00ff00"/><path d="M952.05 201.11H962.62L957.34 210.27z" fill="#ff6347"/><path d="M956.55 169.84H966.46L961.51 178.43z" fill="#00ff00"/><path d="M951.75 216.71H962.25L957 225.8z" fill="#ff6347"/><path d="M958.55 176H969.05L963.8 185.09z" fill="#00ff00"/><path d="M961.34 187.52H972.79L967.06 197.44z" fill="#00ff00"/><path d="M959.11 202.42H969.46L964.28 211.39z" fill="#ff6347"/><path d="M964.57 180.12H975.11L969.84 189.25z" fill="#00ff00"/><path d="M969.92 188.38H980.88L975.4 197.88z" fill="#00ff00"/><path d="M968.37 177.79H979.65L974.01 187.56z" fill="#00ff00"/><path d="M962.19 203.03H971.94L967.06 211.47z" fill="#ff6347"/><path d="M966.12 195.04H976.34L971.23 203.89z" fill="#ff6347"/><path d="M964.67 194.33H975.02L969.84 203.29z" fill="#ff6347"/><path d="M975.36 189.73H986.56L980.96 199.42z" fill="#00ff00"/><path d="M970.46 199.22H980.34L975.4 207.77z" fill="#ff6347"/><path d="M976.93 183.73H987.77L982.35 193.13z" fill="#00ff00"/><path d="M978.56 180.54H988.91L983.74 189.5z" fill="#00ff00"/><path d="M982.81 186.44H993.01L987.91 195.28z" fill="#00ff00"/><path d="M977.58 201.66H987.12L982.35 209.93z" fill="#ff6347"/><path d="M980.98 220.46H992.05L986.52 230.05z" fill="#ff6347"/><path d="M989.38 189.07H1000.33L994.85 198.55z" fill="#00ff00"/><path d="M991.34 179.54H1001.14L996.24 188.02z" fill="#00ff00"/><path d="M990.52 186.64H1001.97L996.24 196.55z" fill="#00ff00"/><path d="M986.83 202.19H997.32L992.07 211.27z" fill="#ff6347"/><path d="M990.07 212.8H999.63L994.85 221.08z" fill="#ff6347"/><path d="M994.75 176H1005.25L1000 185.09z" fill="#00ff00"/><path d="M990.86 205.06H1001.63L996.24 214.4z" fill="#ff6347"/><path d="M990.72 197.72H1001.77L996.24 207.28z" fill="#ff6347"/><path d="M990.68 201.3H1001.81L996.24 210.94z" fill="#ff6347"/><path d="M992.75 200.75H1002.51L997.63 209.2z" fill="#ff6347"/><path d="M992.55 194.83H1002.71L997.63 203.62z" fill="#ff6347"/><path d="M992.87 195.28H1002.4L997.63 203.53z" fill="#ff6347"/><path d="M994.12 207.82H1003.93L999.02 216.31z" fill="#ff6347"/><path d="M1000.4 181.48H1011.54L1005.97 191.12z" fill="#00ff00"/><path d="M1001.18 195.88H1010.76L1005.97 204.19z" fill="#ff6347"/><path d="M1002.29 218.09H1012.42L1007.36 226.86z" fill="#ff6347"/><path d="M1008.75 180H1019.25L1014 189.09z" fill="#00ff00"/><path d="M1004.58 201.35H1015.69L1010.14 210.97z" fill="#ff6347"/><path d="M1006.11 196.72H1016.95L1011.53 206.1z" fill="#ff6347"/><path d="M1015.54 189.53H1026.96L1021.25 199.42z" fill="#00ff00"/><path d="M1008.64 206.02H1019.98L1014.31 215.84z" fill="#ff6347"/><path d="M1009.07 209.91H1019.54L1014.31 218.97z" fill="#ff6347"/><path d="M1017.83 180.7H1027.46L1022.64 189.04z" fill="#00ff00"/><path d="M1019.19 186.08H1028.88L1024.03 194.47z" fill="#00ff00"/><path d="M1018.96 202.65H1029.11L1024.03 211.44z" fill="#ff6347"/><path d="M1019.9 212.85H1030.95L1025.42 222.43z" fill="#ff6347"/><path d="M1023.26 195.12H1033.14L1028.2 203.68z" fill="#ff6347"/></g></g><path d="M89.0 150.4H1030M89.0 246.4H1030" stroke="#666666" stroke-width="1.2" fill="none"/><line x1="89.0" y1="150.4" x2="89.0" y2="246.4" stroke="#000" stroke-width="1.2"/><line x1="81.9" y1="171.4" x2="91.4" y2="171.4" stroke="#000" stroke-width="1.2"/><text x="76.0" y="175.4" text-anchor="end" font-family="'Liberation Sans', Arial, sans-serif" font-size="13" fill="#444444">5%</text><line x1="81.9" y1="195.1" x2="91.4" y2="195.1" stroke="#000" stroke-width="1.2"/><text x="76.0" y="199.1" text-anchor="end" font-family="'Liberation Sans', Arial, sans-serif" font-size="13" fill="#444444">0%</text><line x1="81.9" y1="219" x2="91.4" y2="219" stroke="#000" stroke-width="1.2"/><text x="76.0" y="223" text-anchor="end" font-family="'Liberation Sans', Arial, sans-serif" font-size="13" fill="#444444">-5%</text><line x1="81.9" y1="242.8" x2="91.4" y2="242.8" stroke="#000" stroke-width="1.2"/><text x="76.0" y="246.8" text-anchor="end" font-family="'Liberation Sans', Arial, sans-serif" font-size="13" fill="#444444">-10%</text><text x="32.5" y="198.4" transform="rotate(-90 32.5 198.4)" text-anchor="middle" font-family="'Liberation Sans', Arial, sans-serif" font-size="15.4" font-style="italic" fill="#444444">Profit / Loss</text><g clip-path="url(#cMn)"><line x1="366.8" y1="256.6" x2="366.8" y2="720.6" stroke="#e8e8e8" stroke-width="1.2"/><line x1="644.7" y1="256.6" x2="644.7" y2="720.6" stroke="#e8e8e8" stroke-width="1.2"/><line x1="922.6" y1="256.6" x2="922.6" y2="720.6" stroke="#e8e8e8" stroke-width="1.2"/><line x1="89.0" y1="700.5" x2="1030" y2="700.5" stroke="#e8e8e8" stroke-width="1.2"/><line x1="89.0" y1="585.5" x2="1030" y2="585.5" stroke="#e8e8e8" stroke-width="1.2"/><line x1="89.0" y1="470.5" x2="1030" y2="470.5" stroke="#e8e8e8" stroke-width="1.2"/><line x1="89.0" y1="355.5" x2="1030" y2="355.5" stroke="#e8e8e8" stroke-width="1.2"/><path d="M100.71 596.46V607.14M127.81 588.54V605M157.68 587.45V595.78M187.55 580.92V593.28M217.43 567.9V586.3M248 567.08V576.03M277.87 568.76V579.78M307.05 574.8V600.8M334.15 594.4V612.37M361.24 597.72V613.71M389.73 595.63V604.63M418.21 586.75V601.57M447.39 577.6V590.05M477.27 577.44V599.94M505.75 580.56V599.7M534.93 574.81V587M566.19 576.39V588.52M595.37 570.92V581.6M625.25 551.2V571.57M655.12 544.05V557.4M683.61 526.47V551.36M712.79 512.85V530.9M741.96 512.93V543M770.45 532.16V567.67M798.24 531.7V560.79M826.72 507.79V541.3M856.6 484.1V517.7M887.17 450.45V490.5M918.43 392.23V452.44M947.61 394.5V454.81M973.32 420.22V449.7M1001.8 418.32V450.22M1024.03 394.6V425" stroke="#bbbbbb" stroke-width="1.2" fill="none"/><rect x="89.45" y="600" width="23.3" height="6" fill="#ffdcd5"/><rect x="113.85" y="593" width="29.3" height="12" fill="#ccffcc"/><rect x="144.25" y="591.07" width="28.2" height="2.47" fill="#ffdcd5"/><rect x="173.55" y="588.32" width="28.2" height="4.94" fill="#ccffcc"/><rect x="202.85" y="569.8" width="30.6" height="16.5" fill="#ccffcc"/><rect x="234.55" y="569.33" width="28.9" height="2" fill="#ccffcc"/><rect x="264.55" y="568.76" width="27.5" height="7.11" fill="#ffdcd5"/><rect x="293.15" y="574.8" width="28" height="23.1" fill="#ffdcd5"/><rect x="322.25" y="594.4" width="24.9" height="15.6" fill="#ffdcd5"/><rect x="348.25" y="605.4" width="27.2" height="6.6" fill="#ccffcc"/><rect x="376.55" y="600" width="26.7" height="4.63" fill="#ccffcc"/><rect x="404.35" y="591.7" width="28.1" height="8.7" fill="#ccffcc"/><rect x="433.55" y="580.86" width="28.1" height="9.19" fill="#ccffcc"/><rect x="462.75" y="579.8" width="29.4" height="20" fill="#ffdcd5"/><rect x="493.25" y="586.9" width="26.4" height="12.8" fill="#ccffcc"/><rect x="520.75" y="578.4" width="29.7" height="8.6" fill="#ccffcc"/><rect x="551.55" y="577.6" width="29.5" height="3.4" fill="#ffdcd5"/><rect x="582.15" y="571.8" width="27" height="9.8" fill="#ccffcc"/><rect x="610.25" y="557.3" width="30.5" height="14.1" fill="#ccffcc"/><rect x="641.85" y="546" width="26.9" height="11.4" fill="#ccffcc"/><rect x="669.85" y="532" width="28.2" height="14.5" fill="#ccffcc"/><rect x="699.15" y="522.7" width="28.3" height="8.2" fill="#ccffcc"/><rect x="728.55" y="525.8" width="27.9" height="17.2" fill="#ffdcd5"/><rect x="757.55" y="538.3" width="26.9" height="14.5" fill="#ffdcd5"/><rect x="785.55" y="531.7" width="27.2" height="27.1" fill="#ccffcc"/><rect x="813.85" y="517.8" width="27.1" height="18.1" fill="#ccffcc"/><rect x="842.05" y="491.4" width="29.7" height="26.3" fill="#ccffcc"/><rect x="872.85" y="456.1" width="29.1" height="34.4" fill="#ccffcc"/><rect x="903.05" y="403.5" width="30.9" height="48.1" fill="#ccffcc"/><rect x="935.05" y="394.5" width="25.6" height="55.2" fill="#ffdcd5"/><rect x="961.75" y="427" width="24.7" height="22.7" fill="#ffdcd5"/><rect x="987.55" y="425.8" width="30.9" height="23.9" fill="#ccffcc"/><rect x="1019.55" y="394.6" width="27.9" height="30.4" fill="#ccffcc"/><path d="M88.9 600.12V603.44M90.29 599.68V601.25M91.68 599.83V600.85M93.07 596.46V600.46M94.46 597.32V599.56M95.85 598.51V599.46M97.24 598.59V599.86M98.63 599.1V600.04M100.02 599.15V601.15M101.41 599.97V602.98M102.8 602.82V606.63M104.18 605.75V606.65M105.57 605.85V607.12M106.96 605.34V607.14M108.35 604.77V606.82M109.74 601.25V606.5M111.13 600.39V603.12M112.52 597.74V601.07M113.91 594.74V598.48M115.3 592.02V595.75M116.69 590.4V593.35M118.08 590.47V591.4M119.47 590.61V591.64M120.86 589.72V591.7M122.25 589.99V591.8M123.64 590.1V593.94M125.03 592.37V594.01M126.42 591.67V593.79M127.81 592.49V593.81M129.2 590.98V594.54M130.59 590.06V594.86M131.97 592.16V594.77M133.36 591.3V593.12M134.75 591.04V592.06M136.14 591.77V592.19M137.53 589.76V592.78M138.92 589.19V591.48M140.31 589.41V590.96M141.7 588.54V591.72M143.09 588.92V592.26M144.48 588.83V592.03M145.87 587.98V589.98M147.26 587.55V588.98M148.65 587.45V590.44M150.04 589.21V590.91M151.43 589.77V591.3M152.82 590.74V592.19M154.21 590.21V592.45M155.6 590.44V591.33M156.99 590.02V591.96M158.38 591.27V593.4M159.76 592.29V594.26M161.15 591.63V595.78M162.54 592.85V594.78M163.93 592.76V594.64M165.32 593.24V594.62M166.71 592.99V594.42M168.1 592.57V594.3M169.49 593.4V594.38M170.88 592.32V593.69M172.27 592.04V593.42M173.66 591.93V593.26M175.05 590.97V592.99M176.44 589.95V591.82M177.83 590.56V592.9M179.22 589.71V593.28M180.61 588.6V590.97M182 588.62V589.48M183.39 588.64V591.18M184.78 590.05V590.69M186.17 589.68V591.16M187.55 588.85V590.9M188.94 588.93V591.93M190.33 590.22V591.7M191.72 588.34V590.61M193.11 588.01V590.62M194.5 587.11V588.93M195.89 587.66V591.16M197.28 586.67V590.6M198.67 586.52V588M200.06 583.78V587.66M201.45 580.92V584.51M202.84 579.7V581.29M204.23 579.22V581.17M205.62 579.56V580.38M207.01 579.46V581.28M208.4 578.66V581.13M209.79 577.05V580.17M211.18 577.96V579.33M212.57 578.41V579.57M213.95 577.56V580.01M215.34 575.95V578.2M216.73 576.08V576.83M218.12 575.05V576.63M219.51 575.43V576.47M220.9 573.5V576.04M222.29 574.21V574.72M223.68 574.03V574.66M225.07 571.2V574.81M226.46 571.11V572.22M227.85 570.56V572.34M229.24 571.33V574.64M230.63 569.38V575.53M232.02 567.9V569.52M233.41 567.76V571.12M234.8 570.55V573.29M236.19 570.43V573.25M237.58 570V571.4M238.97 570.51V576.03M240.36 571.59V574.74M241.75 570.96V573.12M243.13 572.45V574.02M244.52 572.98V574.31M245.91 572.5V573.87M247.3 572.79V573.9M248.69 571.23V574.17M250.08 572.77V574.47M251.47 572.98V575.33M252.86 571.56V574.17M254.25 571.02V573.89M255.64 567.93V573.21M257.03 568.19V570.67M258.42 567.09V570.81M259.81 567.08V568.76M261.2 568.43V569.14M262.59 568.11V569.43M263.98 569.01V571.96M265.37 570.84V571.82M266.76 571.03V572.27M268.15 570.85V571.96M269.53 569.79V574.7M270.92 572.24V574.73M272.31 571.56V573.71M273.7 573.28V574M275.09 573.42V574.08M276.48 572.84V574.05M277.87 572.64V573.85M279.26 572.2V574.37M280.65 572.73V574.17M282.04 572.91V575.04M283.43 572.61V574.25M284.82 572.26V573.53M286.21 572.02V575.62M287.6 574.29V579.61M288.99 576.46V578.62M290.38 575.97V577.36M291.77 576.9V579.78M293.16 578.31V581.5M294.55 580.38V582.26M295.94 581.36V585.08M297.32 584.42V585.1M298.71 583.9V586.98M300.1 586.47V588.22M301.49 586.45V590.39M302.88 588.87V591.51M304.27 589.38V592.37M305.66 589.39V593.65M307.05 592.65V594.8M308.44 593.95V597.72M309.83 596.75V597.88M311.22 596.21V598.38M312.61 597.84V598.71M314 597.2V600.8M315.39 597.78V600.53M316.78 596.35V598.12M318.17 595.44V597.76M319.56 595.99V597.44M320.95 595.83V597.79M322.34 596.26V599.65M323.73 598.73V600.95M325.12 600.67V602.2M326.5 602.11V602.81M327.89 600.41V602.8M329.28 600.44V603.4M330.67 602.4V605.76M332.06 602.84V605.54M333.45 602.64V605.02M334.84 604.61V607.53M336.23 606.43V607.63M337.62 606.99V610.45M339.01 608.85V609.89M340.4 608.87V610.47M341.79 609.21V612.18M343.18 609.41V612.37M344.57 609.26V610.34M345.96 609.64V610.48M347.35 609.55V612.19M348.74 610.42V611.95M350.13 610.14V613.13M351.52 612.28V613.02M352.9 611.37V612.89M354.29 612.63V613.71M355.68 610.41V613.5M357.07 608.98V611.34M358.46 608.13V610.71M359.85 608.01V610.57M361.24 608.5V610.48M362.63 606.22V610.43M364.02 607.45V612.03M365.41 608.81V611.9M366.8 608.27V610.53M368.19 607.69V611.16M369.58 607.98V610.48M370.97 605.91V610.34M372.36 603.91V606.91M373.75 602.54V604.94M375.14 597.72V603.63M376.53 597.75V598.92M377.92 595.63V599.42M379.31 596.5V598.28M380.7 596.51V597.68M382.08 596.25V599.17M383.47 598.67V599.24M384.86 598.55V598.98M386.25 597.58V600M387.64 598.82V601.15M389.03 597.34V599.97M390.42 597.82V603.12M391.81 598.36V603.78M393.2 599.72V601.87M394.59 600.17V601.83M395.98 600.69V602.13M397.37 600.19V601.98M398.76 598.32V600.9M400.15 598.27V599.69M401.54 597.84V599.78M402.93 597.25V601.45M404.32 598.59V601.26M405.71 599.16V601.57M407.1 598.66V601.23M408.49 598.84V600.31M409.87 598.11V600.72M411.26 596.73V598.21M412.65 596.02V597.06M414.04 593.64V596.93M415.43 589.73V593.94M416.82 588.4V590.73M418.21 586.75V589.18M419.6 586.76V589.25M420.99 587.14V590.7M422.38 589.06V591.24M423.77 590.39V591.6M425.16 590.72V592.41M426.55 591.67V592.23M427.94 588.94V592.48M429.33 588.12V590.16M430.72 587.86V589.78M432.11 588.35V589.17M433.5 586.18V589.39M434.89 586.21V587.45M436.27 584.85V586.96M437.66 585.24V585.84M439.05 584.25V586.65M440.44 583.68V586.16M441.83 584V584.94M443.22 582.16V585.31M444.61 581.46V583.06M446 581.71V582.39M447.39 581.57V583.54M448.78 579.17V583.56M450.17 579.7V580.36M451.56 577.6V580.46M452.95 578.35V580.33M454.34 578.74V580.32M455.73 579.53V582.53M457.12 580.06V582.88M458.51 579.28V582.09M459.9 579.54V581.99M461.29 579.16V582.08M462.68 577.44V580.84M464.06 577.89V579.9M465.45 578.91V581.38M466.84 580.26V582.36M468.23 580.17V583.1M469.62 580.34V585.59M471.01 584.79V586.97M472.4 586.54V588.13M473.79 587.5V588.33M475.18 587.29V590.28M476.57 589.82V593.17M477.96 592.51V592.97M479.35 591.8V593.16M480.74 592.92V594.12M482.13 593.24V596.24M483.52 593.96V595.82M484.91 594.44V596.79M486.3 595.38V596.48M487.69 594.98V599.39M489.08 598.24V599.94M490.47 597.02V598.32M491.86 597.14V598.62M493.24 594.39V597.46M494.63 593.19V594.81M496.02 590.48V593.48M497.41 586.93V592.08M498.8 586.27V587.93M500.19 586.11V588.41M501.58 584.71V587.81M502.97 585.21V587.72M504.36 583.58V587.38M505.75 584.85V588.38M507.14 585.53V587M508.53 583.72V585.87M509.92 583.79V585.99M511.31 584.76V586.54M512.7 582.51V586.49M514.09 582.36V585.34M515.48 582.48V584.42M516.87 580.56V583.04M518.26 581.46V583.22M519.64 582.15V583.92M521.03 581.34V583.57M522.42 580.18V581.46M523.81 579.86V581.99M525.2 580.79V583.15M526.59 580.2V583.32M527.98 580.39V581M529.37 579.96V583.33M530.76 580.43V583.11M532.15 580.01V581.29M533.54 579.3V580.98M534.93 579.16V581.24M536.32 578.88V582.38M537.71 579.38V582.29M539.1 580.48V582.45M540.49 577.42V580.79M541.88 577.43V579.81M543.27 575.69V579.43M544.66 576.05V579.55M546.05 574.81V578.54M547.43 574.97V577.67M548.82 577.05V577.98M550.21 577.85V581.98M551.6 580.54V582.81M552.99 581.9V584.5M554.38 583.92V585.78M555.77 582.5V587.14M557.16 584.43V587.89M558.55 583.09V588.52M559.94 583.31V583.99M561.33 583.75V585.34M562.72 580.34V584.07M564.11 581.12V583.21M565.5 578.69V583.42M566.89 578.49V580.63M568.28 576.39V580.5M569.67 576.79V579.95M571.06 579.08V579.62M572.45 579.44V580.98M573.84 580.49V582.02M575.23 581.41V582.87M576.61 580.47V582.04M578 579.24V580.76M579.39 578.79V580.37M580.78 578.11V580.67M582.17 578.27V580.81M583.56 576.89V578.68M584.95 577.04V578.98M586.34 574.35V579.01M587.73 574.25V576.08M589.12 573.95V576.83M590.51 574.08V574.47M591.9 573.08V575.03M593.29 572.77V573.33M594.68 571.44V573.29M596.07 572.09V574.52M597.46 572.68V574.12M598.85 572.25V573.29M600.24 572.21V573.51M601.63 571.76V573.7M603.01 573.58V574.46M604.4 572.23V574.2M605.79 572.21V574.09M607.18 573.12V573.56M608.57 570.92V573.51M609.96 570.05V571.57M611.35 566.22V570.88M612.74 565.94V571.35M614.13 568.29V570.42M615.52 564.91V569.45M616.91 565.07V565.72M618.3 564.74V565.62M619.69 564.56V565.19M621.08 561.94V565.87M622.47 561.8V563.04M623.86 562.87V563.97M625.25 560.89V563.82M626.64 561.32V562.05M628.03 561.11V562.39M629.42 560.55V562.84M630.8 559.49V561.58M632.19 557.5V560.28M633.58 558.2V560.79M634.97 557.96V561.36M636.36 558.18V559.25M637.75 552.38V558.84M639.14 552.54V554.24M640.53 551.2V554.26M641.92 548.32V552.25M643.31 548.38V549.21M644.7 546.28V549.13M646.09 544.81V547.22M647.48 545.95V546.99M648.87 544.05V546.53M650.26 544.21V545.58M651.65 544.64V546.31M653.04 545.59V546.76M654.43 544.97V546.65M655.82 544.4V545.61M657.21 544.15V545.92M658.59 544.58V548.69M659.98 546.09V549.13M661.37 547.43V548.36M662.76 547.45V550.14M664.15 549.11V550.58M665.54 548.79V549.78M666.93 548.47V550.3M668.32 548.51V550.35M669.71 548.15V550.54M671.1 547.62V551.36M672.49 547.76V548.94M673.88 547.2V548.27M675.27 545.98V548.98M676.66 544.61V546.32M678.05 544.13V545.2M679.44 543.89V544.73M680.83 542.06V545.63M682.22 541.26V543.87M683.61 540.56V542.04M685 540.13V541.66M686.38 537.61V541.58M687.77 536.83V538.33M689.16 537.27V538.43M690.55 532.28V537.66M691.94 533.57V535.79M693.33 532.33V535.26M694.72 531.27V532.59M696.11 526.47V531.54M697.5 526.5V528.7M698.89 525.35V529.77M700.28 524.5V526.55M701.67 524.13V524.84M703.06 520.36V524.65M704.45 521.38V522.05M705.84 519.81V522.11M707.23 516.74V520.88M708.62 517.02V518.41M710.01 515.36V518.67M711.4 515.31V518.63M712.79 513.01V518.97M714.17 512.85V517.89M715.56 515.53V518.29M716.95 514.71V517.23M718.34 515.8V519.9M719.73 518.03V520.4M721.12 519.41V520.84M722.51 519.34V520.69M723.9 516.82V520.1M725.29 516.62V519.38M726.68 517.08V520.85M728.07 515.02V520.17M729.46 515.12V518.4M730.85 514.95V518.12M732.24 513.85V515.52M733.63 514.23V515.53M735.02 513.23V515.32M736.41 513.67V514.82M737.8 512.97V514.95M739.19 512.93V516.12M740.58 514.5V515.85M741.96 514.8V521.78M743.35 519.62V525.52M744.74 522.61V525.51M746.13 522.44V533.66M747.52 529.83V537.17M748.91 533.01V537.98M750.3 532.87V541.08M751.69 534.66V540.11M753.08 533.86V539.28M754.47 529.75V537.42M755.86 532V536.13M757.25 532.16V539.04M758.64 535.63V539.41M760.03 536.75V544.23M761.42 542.86V552.03M762.81 547.06V553.44M764.2 548.01V552.74M765.59 548.29V554.33M766.98 551.45V557.89M768.37 551.43V558.56M769.75 550.73V562.96M771.14 557.07V564.83M772.53 556.97V567.67M773.92 557.32V566.62M775.31 557.99V561.04M776.7 556.23V559.99M778.09 552.82V561.97M779.48 550.55V556.78M780.87 551.98V560.09M782.26 555.12V560.22M783.65 554.79V559.56M785.04 558.81V559.19M786.43 558.82V560.79M787.82 549.29V560.12M789.21 544.45V551.38M790.6 541.1V544.74M791.99 542.98V547.85M793.38 538.62V551.01M794.77 537.13V542.54M796.16 540.03V543.58M797.54 539.83V542.67M798.93 539.65V541.45M800.32 536.49V540.36M801.71 537.08V539.58M803.1 538.18V541.67M804.49 539.73V544.74M805.88 543.19V546.06M807.27 543.57V545.47M808.66 543.15V546.44M810.05 540.56V547.74M811.44 539.44V541.02M812.83 535.02V541.3M814.22 527.95V535.14M815.61 520.58V531.91M817 520.38V522.13M818.39 519.09V522.09M819.78 518.85V524.11M821.17 515.74V525.48M822.56 514.85V523.98M823.95 514.25V522.25M825.33 515.13V518M826.72 513.08V523.04M828.11 514.48V523.21M829.5 515.93V522.74M830.89 515.41V523.21M832.28 512.2V517.85M833.67 513.62V517.36M835.06 514.15V516.78M836.45 513.02V517.26M837.84 513.51V517.08M839.23 510.62V516.96M840.62 507.79V513.11M842.01 508.54V510.89M843.4 506.75V509.18M844.79 506.39V508.96M846.18 501.58V507.3M847.57 497.71V502.73M848.96 499.47V500.53M850.35 493.89V501.7M851.74 495.53V498.32M853.12 497.69V501.81M854.51 494.38V501.29M855.9 493.26V497M857.29 494.02V497.07M858.68 493.49V498.71M860.07 494.41V495.16M861.46 488.19V496.5M862.85 489.67V494.02M864.24 486.43V494.01M865.63 486.97V490.11M867.02 488.53V489.58M868.41 486.62V489.98M869.8 488.94V491.27M871.19 484.1V491.37M872.58 484.67V488.57M873.97 481.69V487.46M875.36 482.48V486.84M876.75 479.3V486.32M878.14 477.43V481.09M879.53 475.07V479.72M880.91 478.44V480.12M882.3 472.93V479.34M883.69 472.73V474.65M885.08 473.51V476.1M886.47 474.45V480M887.86 475.22V476.75M889.25 475.24V479.26M890.64 476.83V484.6M892.03 481.78V486.09M893.42 484.6V487.24M894.81 485.22V487.88M896.2 478.46V487.52M897.59 470.83V481.46M898.98 462.39V473.31M900.37 452.07V464.97M901.76 450.45V453.48M903.15 444.56V452.44M904.54 446.61V450.87M905.93 447.59V450.74M907.32 442.33V450.57M908.7 442.34V444.53M910.09 439.78V446.54M911.48 439.75V446.84M912.87 437.59V442.29M914.26 435.6V438.89M915.65 432.98V438.14M917.04 432.27V434.43M918.43 424.74V435.28M919.82 422.91V425.31M921.21 418.81V425.24M922.6 417.47V419.5M923.99 408.58V418.17M925.38 408.81V412.96M926.77 406.4V415.82M928.16 396.9V407.98M929.55 397.68V400.11M930.94 392.23V400.34M932.33 395.09V401.58M933.72 398.72V411.33M935.11 407.27V420.47M936.5 417.4V423.34M937.88 422.73V429.23M939.27 428.33V443.07M940.66 435.94V443.02M942.05 436.92V441.48M943.44 437V442M944.83 438.35V446.83M946.22 441.78V445.6M947.61 443.84V449.25M949 447.93V454.81M950.39 450.14V454.23M951.78 445.22V454.65M953.17 443.36V448.7M954.56 440.08V446.38M955.95 441.13V443.27M957.34 435.92V442.81M958.73 433.74V438.02M960.12 435.28V436.8M961.51 434.03V443.87M962.9 434.56V444.37M964.28 427.87V437.22M965.67 424.49V441.47M967.06 427.15V439.07M968.45 425.65V429.08M969.84 427.65V429.26M971.23 421.63V428.72M972.62 420.41V429.51M974.01 420.22V428.41M975.4 421.02V430.83M976.79 423.1V430.6M978.18 425.1V434.64M979.57 426.3V433.11M980.96 424.11V442.72M982.35 426.96V442.02M983.74 426.41V432.24M985.13 431.26V439.55M986.52 438.31V445.08M987.91 441.9V450.22M989.3 441.83V448.86M990.69 444.84V448.05M992.07 437.09V447.12M993.46 435.72V440.5M994.85 430.82V441.22M996.24 427.54V436.04M997.63 431.54V436.57M999.02 426.51V432.1M1000.41 426.44V427.95M1001.8 418.32V427.28M1003.19 419.51V422.16M1004.58 420.14V428.63M1005.97 420.34V427.96M1007.36 419.38V432.68M1008.75 431.82V432.65M1010.14 430.78V435.52M1011.53 430.66V433.19M1012.92 429.91V432.62M1014.31 429.87V433.31M1015.7 424.56V433.08M1017.09 420.09V427.98M1018.48 409.59V421.65M1019.86 407.19V412.33M1021.25 408.67V416.16M1022.64 410.68V415.84M1024.03 408.85V411.92M1025.42 407.11V410.47M1026.81 407.17V410.11M1028.2 407.15V410.34M1029.59 406.36V414.5" stroke="#000" stroke-width="1.2" fill="none"/><path d="M88.9 600.33V603.3M90.29 599.26V601.53M91.68 599.26V601M93.07 596.8V601M94.46 596.8V599.94M95.85 598.41V599.94M97.24 598.41V599.94M98.63 598.74V600.23M100.02 599.03V601.47M101.41 600.27V603.56M102.8 602.36V606.78M104.18 605.58V607.07M105.57 605.87V607.59M106.96 604.94V607.59M108.35 604.94V607.02M109.74 601.69V607.02M111.13 600.23V602.89M112.52 597.51V601.43M113.91 594.94V598.71M115.3 592.48V596.14M116.69 590.27V593.68M118.08 590.08V591.47M119.47 590.08V591.94M120.86 589.77V591.94M122.25 589.77V591.64M123.64 590.44V594.01M125.03 591.83V594.01M126.42 591.83V594.05M127.81 592.85V594.23M129.2 590.53V594.23M130.59 590.53V595.12M131.97 592.51V595.12M133.36 590.88V593.71M134.75 590.88V592.42M136.14 591.22V592.66M137.53 589.45V592.66M138.92 589.45V591.28M140.31 590.08V591.52M141.7 588.81V591.52M143.09 588.81V592.47M144.48 588.73V592.47M145.87 587.5V589.93M147.26 587.5V589.33M148.65 588.13V590.17M150.04 588.97V591.16M151.43 589.96V591.41M152.82 590.21V592.37M154.21 589.9V592.37M155.6 589.9V591.78M156.99 590.58V592.52M158.38 591.32V593.65M159.76 592.13V593.65M161.15 592.13V595.11M162.54 592.48V595.11M163.93 592.48V595.12M165.32 593.54V595.12M166.71 592.46V594.74M168.1 592.46V594.71M169.49 592.86V594.71M170.88 592.02V594.06M172.27 591.79V593.22M173.66 591.79V593.42M175.05 590.71V593.42M176.44 589.99V591.91M177.83 589.99V592.8M179.22 590.05V592.8M180.61 588.28V591.25M182 588.2V589.48M183.39 588.2V591.21M184.78 589.65V591.21M186.17 589.65V591.28M187.55 588.9V591.28M188.94 588.9V592.22M190.33 589.9V592.22M191.72 589.13V591.1M193.11 587.83V590.33M194.5 587.08V589.03M195.89 587.08V591.11M197.28 587.21V591.11M198.67 586.17V588.41M200.06 583.7V587.37M201.45 580.44V584.9M202.84 580.14V581.64M204.23 579.19V581.34M205.62 579.19V580.54M207.01 579.34V581.51M208.4 578.82V581.51M209.79 577.37V580.02M211.18 577.37V579.21M212.57 578.01V579.47M213.95 577.22V579.47M215.34 575.51V578.42M216.73 575.51V577.14M218.12 575.15V577.14M219.51 575.15V576.44M220.9 573.82V576.44M222.29 573.82V575.03M223.68 573.83V575.1M225.07 571.39V575.1M226.46 570.65V572.59M227.85 570.65V572.7M229.24 571.5V575.04M230.63 568.89V575.04M232.02 567.58V570.09M233.41 567.58V571.61M234.8 570.41V573.34M236.19 569.86V573.34M237.58 569.86V571.87M238.97 570.67V574.97M240.36 571.52V574.97M241.75 571.52V573.16M243.13 571.96V574.59M244.52 573.15V574.59M245.91 572.67V574.35M247.3 572.67V574.16M248.69 572.3V574.16M250.08 572.3V574.44M251.47 572.6V574.44M252.86 571.28V573.8M254.25 571.28V573.79M255.64 567.67V573.79M257.03 567.67V571.14M258.42 566.76V571.14M259.81 566.76V569.29M261.2 567.84V569.29M262.59 567.84V569.67M263.98 568.47V571.97M265.37 570.58V571.97M266.76 570.58V572.5M268.15 570.6V572.5M269.53 570.6V575.03M270.92 571.9V575.03M272.31 571.9V574.1M273.7 572.9V574.15M275.09 572.95V574.19M276.48 572.37V574.19M277.87 572.36V573.57M279.26 572.36V574.61M280.65 572.38V574.61M282.04 572.38V574.75M283.43 572.86V574.75M284.82 572.41V574.06M286.21 572.41V575.77M287.6 574.57V579.12M288.99 576.15V579.12M290.38 576.15V577.67M291.77 576.47V579.47M293.16 578.27V581.07M294.55 579.87V582.23M295.94 581.03V585.24M297.32 584.04V585.51M298.71 584.31V587.42M300.1 586.22V587.69M301.49 586.49V589.56M302.88 588.36V591.99M304.27 589.2V591.99M305.66 589.2V593.81M307.05 592.61V594.58M308.44 593.38V597.85M309.83 596.21V597.85M311.22 596.21V598.73M312.61 597.3V598.73M314 597.3V600.77M315.39 597.39V600.77M316.78 596.46V598.59M318.17 595.59V597.66M319.56 595.59V597.89M320.95 595.84V597.89M322.34 595.84V599.8M323.73 598.6V601.44M325.12 600.24V602.73M326.5 601.53V602.93M327.89 600.67V602.93M329.28 600.67V603.64M330.67 602.44V605.86M332.06 602.71V605.86M333.45 602.71V605.51M334.84 604.31V607.56M336.23 606.36V607.93M337.62 606.73V610.4M339.01 608.59V610.4M340.4 608.59V610.46M341.79 609.26V612.75M343.18 609.46V612.75M344.57 609.46V610.72M345.96 609.04V610.72M347.35 609.04V612.45M348.74 610.34V612.45M350.13 610.34V613M351.52 611.79V613M352.9 611.79V613.4M354.29 612.2V613.64M355.68 610.4V613.64M357.07 609.18V611.6M358.46 608V610.38M359.85 608V610.1M361.24 608.9V610.79M362.63 607.2V610.79M364.02 607.2V612.13M365.41 608.41V612.13M366.8 608.41V610.79M368.19 607.95V610.79M369.58 607.95V610.03M370.97 605.4V610.03M372.36 603.5V606.6M373.75 602.47V604.7M375.14 597.79V603.67M376.53 597.79V599.41M377.92 596.01V599.41M379.31 596.01V598.16M380.7 595.93V598.16M382.08 595.93V599.49M383.47 598.29V599.56M384.86 598.34V599.56M386.25 598.34V600.3M387.64 599.1V600.51M389.03 597.45V600.51M390.42 597.45V602.99M391.81 599.24V602.99M393.2 599.24V601.69M394.59 600.49V601.75M395.98 600.55V602.06M397.37 600.24V602.06M398.76 598.2V601.44M400.15 598.2V600.15M401.54 597.4V600.15M402.93 597.4V601.03M404.32 598.67V601.03M405.71 598.67V601.64M407.1 598.47V601.64M408.49 598.47V600.82M409.87 597.55V600.82M411.26 596.35V598.75M412.65 595.67V597.55M414.04 593.04V596.87M415.43 589.67V594.24M416.82 587.88V590.87M418.21 586.51V589.08M419.6 586.51V588.63M420.99 587.43V590.51M422.38 589.31V591.57M423.77 590.37V592.16M425.16 590.96V592.38M426.55 591.18V592.49M427.94 589.47V592.49M429.33 587.57V590.67M430.72 587.57V589.51M432.11 588.31V589.55M433.5 586.02V589.55M434.89 586.02V587.49M436.27 584.83V587.49M437.66 584.83V586.29M439.05 584.76V586.29M440.44 583.43V585.96M441.83 583.43V585.19M443.22 581.67V585.19M444.61 581.67V582.99M446 581.42V582.99M447.39 581.42V583.52M448.78 579.29V583.52M450.17 579.29V580.56M451.56 578.49V580.56M452.95 578.49V580.23M454.34 579.03V580.32M455.73 579.12V582.64M457.12 580.19V582.64M458.51 579.51V581.39M459.9 579.51V582.51M461.29 579.82V582.51M462.68 577.64V581.02M464.06 577.64V580.08M465.45 578.88V581.57M466.84 580.37V582.41M468.23 579.86V582.41M469.62 579.86V585.66M471.01 584.46V587.26M472.4 586.06V588.35M473.79 586.99V588.35M475.18 586.99V590.58M476.57 589.38V593.14M477.96 591.94V593.41M479.35 592.21V593.58M480.74 592.38V593.99M482.13 592.79V595.81M483.52 594.39V595.81M484.91 594.39V596.74M486.3 594.94V596.74M487.69 594.94V599.85M489.08 597.67V599.85M490.47 596.73V598.87M491.86 596.69V597.93M493.24 593.95V597.89M494.63 592.87V595.15M496.02 590.78V594.07M497.41 586.48V591.98M498.8 585.7V587.68M500.19 585.7V588.17M501.58 585.35V588.17M502.97 585.35V587.03M504.36 584.48V587.03M505.75 584.48V587.51M507.14 585.21V587.51M508.53 583.41V586.41M509.92 583.41V585.96M511.31 584.76V586.6M512.7 582.15V586.6M514.09 582.15V584.63M515.48 581.93V584.63M516.87 581.23V583.13M518.26 581.23V583.34M519.64 582.14V584.06M521.03 580.79V584.06M522.42 580.12V581.99M523.81 580.12V582.12M525.2 580.92V583.31M526.59 579.83V583.31M527.98 579.83V581.35M529.37 580.15V583.38M530.76 580.38V583.38M532.15 580.23V581.58M533.54 579.46V581.43M534.93 579.46V581.84M536.32 578.86V581.84M537.71 578.86V582.74M539.1 579.95V582.74M540.49 576.94V581.15M541.88 576.94V579.58M543.27 575.7V579.58M544.66 575.7V578.95M546.05 574.58V578.95M547.43 574.58V578.17M548.82 576.97V578.49M550.21 577.29V581.21M551.6 580.01V582.81M552.99 581.61V584.76M554.38 583.56V586.35M555.77 583.86V586.35M557.16 583.86V587.45M558.55 583.3V587.45M559.94 583.23V584.5M561.33 583.23V584.51M562.72 580.56V584.51M564.11 580.56V583.18M565.5 578.81V583.18M566.89 578.81V580.96M568.28 576.49V580.96M569.67 576.49V579.69M571.06 578.49V580.16M572.45 578.96V581.23M573.84 580.03V582.2M575.23 580.88V582.2M576.61 580.03V582.08M578 578.7V581.23M579.39 578.46V579.9M580.78 578.46V581.07M582.17 577.9V581.07M583.56 577.05V579.1M584.95 577.05V579.44M586.34 574.08V579.44M587.73 574.08V576.26M589.12 573.68V576.26M590.51 573.61V574.88M591.9 572.59V574.81M593.29 572.27V573.79M594.68 571.85V573.47M596.07 571.85V574.51M597.46 572.23V574.51M598.85 572.23V573.71M600.24 571.86V573.71M601.63 571.86V574.2M603.01 573V574.51M604.4 571.7V574.51M605.79 571.7V573.9M607.18 572.7V573.92M608.57 570.94V573.92M609.96 570.07V572.14M611.35 565.77V571.27M612.74 565.77V570.46M614.13 568.49V570.46M615.52 564.82V569.69M616.91 564.82V566.06M618.3 564.22V566.06M619.69 564.22V565.46M621.08 561.51V565.46M622.47 561.51V563.63M623.86 562.31V563.63M625.25 560.82V563.51M626.64 560.82V562.14M628.03 560.94V562.27M629.42 560.17V562.27M630.8 559.36V561.37M632.19 557.92V560.56M633.58 557.92V561.11M634.97 557.9V561.11M636.36 557.79V559.1M637.75 552.01V558.99M639.14 552.01V554.63M640.53 550.77V554.63M641.92 548.16V551.97M643.31 548.16V549.59M644.7 546.37V549.59M646.09 545.69V547.57M647.48 545.69V546.94M648.87 543.61V546.94M650.26 543.61V545.45M651.65 544.25V546.62M653.04 545.42V546.83M654.43 544.58V546.83M655.82 544.58V545.85M657.21 544.09V545.85M658.59 544.09V547.93M659.98 546.73V548.66M661.37 546.87V548.66M662.76 546.87V550.08M664.15 548.88V550.37M665.54 548.34V550.37M666.93 548.34V550.58M668.32 548.73V550.58M669.71 548.73V551.11M671.1 547.88V551.11M672.49 547.58V549.08M673.88 547.11V548.78M675.27 545.67V548.31M676.66 544.2V546.87M678.05 543.78V545.4M679.44 543.78V545.32M680.83 541.99V545.32M682.22 541.19V543.19M683.61 540.11V542.39M685 540.11V542.15M686.38 537.09V542.15M687.77 537.09V538.91M689.16 536.99V538.91M690.55 533.26V538.19M691.94 533.26V535.27M693.33 531.76V535.27M694.72 530.84V532.96M696.11 526.53V532.04M697.5 526.53V529.12M698.89 525.29V529.12M700.28 523.98V526.49M701.67 523.58V525.18M703.06 520.86V524.78M704.45 520.86V522.38M705.84 519.31V522.38M707.23 516.63V520.51M708.62 516.63V518.85M710.01 515.54V518.85M711.4 515.54V518.7M712.79 512.62V518.7M714.17 512.62V518.42M715.56 516.18V518.42M716.95 515.2V517.38M718.34 515.2V519.32M719.73 518.12V520.56M721.12 519.2V520.56M722.51 518.79V520.4M723.9 516.5V519.99M725.29 516.5V518.76M726.68 517.56V520.52M728.07 515.35V520.52M729.46 515.35V517.79M730.85 514.37V517.79M732.24 513.77V515.57M733.63 513.75V514.97M735.02 513.18V514.95M736.41 513.18V515.26M737.8 513.39V515.26M739.19 513.39V515.78M740.58 514.58V515.93M741.96 514.73V520.74M743.35 519.54V524.7M744.74 522.65V524.7M746.13 522.65V532.36M747.52 531.16V536.14M748.91 534.94V537.29M750.3 536.09V539.35M751.69 536.26V539.35M753.08 533.63V537.46M754.47 533.63V536M755.86 532.62V536M757.25 532.62V539.31M758.64 537.45V539.31M760.03 537.45V543.9M761.42 542.7V551.93M762.81 548.09V551.93M764.2 548.09V550.85M765.59 549.65V553.93M766.98 552.73V557.84M768.37 553.02V557.84M769.75 553.02V562.1M771.14 558.53V562.1M772.53 558.53V566.54M773.92 558V566.54M775.31 558V560.51M776.7 558.87V560.51M778.09 555.73V560.07M779.48 552.2V556.93M780.87 552.2V559.78M782.26 554.79V559.78M783.65 554.79V559.48M785.04 558.28V559.5M786.43 558.3V559.82M787.82 549.59V559.82M789.21 543.88V550.79M790.6 542.88V545.08M791.99 542.88V546.83M793.38 538.29V546.83M794.77 538.29V542.74M796.16 541.4V542.74M797.54 540.55V542.6M798.93 539.62V541.75M800.32 538.03V540.82M801.71 537.88V539.23M803.1 537.88V541.65M804.49 540.45V544.36M805.88 543.16V545.85M807.27 543.25V545.85M808.66 543.25V546.4M810.05 540.39V546.4M811.44 539.22V541.59M812.83 534.44V540.42M814.22 530.26V535.64M815.61 520.6V531.46M817 520.6V522M818.39 519.19V522M819.78 519.19V524.05M821.17 516V524.05M822.56 516V521.75M823.95 515.37V521.75M825.33 514.97V516.57M826.72 514.97V522.8M828.11 515.44V522.8M829.5 515.44V522.93M830.89 515.66V522.93M832.28 513.55V516.86M833.67 513.55V515.7M835.06 513.85V515.7M836.45 513.85V516.55M837.84 513.66V516.55M839.23 512.04V514.86M840.62 508.98V513.24M842.01 508.35V510.18M843.4 507.04V509.55M844.79 505.96V508.24M846.18 501.52V507.16M847.57 499.13V502.72M848.96 499.13V501.04M850.35 496.71V501.04M851.74 496.71V498.35M853.12 497.15V501.77M854.51 495.88V501.77M855.9 493.51V497.08M857.29 493.51V497.43M858.68 494.05V497.43M860.07 494.05V495.49M861.46 490.09V495.49M862.85 490.09V494.09M864.24 486.54V494.09M865.63 486.54V489.87M867.02 488.03V489.87M868.41 488.03V490.41M869.8 489.21V490.71M871.19 485.53V490.71M872.58 485.53V487.7M873.97 482.99V487.7M875.36 482.99V485.78M876.75 480.19V485.78M878.14 476.97V481.39M879.53 476.97V480.1M880.91 478.33V480.1M882.3 473.32V479.53M883.69 473.09V474.52M885.08 473.09V476.23M886.47 475.03V477.07M887.86 474.88V477.07M889.25 474.88V478.77M890.64 477.57V482.81M892.03 481.61V485.52M893.42 484.32V487.37M894.81 486.17V487.84M896.2 479.12V487.84M897.59 471.06V480.32M898.98 462.37V472.26M900.37 452.55V463.57M901.76 450.08V453.75M903.15 446.16V451.28M904.54 446.16V450.44M905.93 447.89V450.44M907.32 442.94V449.09M908.7 441.97V444.14M910.09 441.97V447.08M911.48 440.92V447.08M912.87 437.7V442.12M914.26 435.8V438.9M915.65 432.92V437M917.04 432.85V434.12M918.43 424.66V434.05M919.82 423.42V425.86M921.21 418.55V424.62M922.6 417.46V419.75M923.99 408.78V418.66M925.38 408.78V412.28M926.77 407V412.28M928.16 398.86V408.2M929.55 398.86V400.58M930.94 395.05V400.58M932.33 395.05V399.84M933.72 398.64V409.3M935.11 408.1V418.94M936.5 417.74V423.73M937.88 422.53V429.08M939.27 427.88V439.84M940.66 438.05V439.84M942.05 436.4V439.25M943.44 436.4V439.72M944.83 438.52V444.59M946.22 443.39V445.71M947.61 444.51V449.25M949 448.05V453.23M950.39 451.27V453.23M951.78 445.49V452.47M953.17 445.13V446.69M954.56 440.77V446.33M955.95 440.77V442.69M957.34 435.52V442.69M958.73 435.52V437.27M960.12 435.59V437.27M961.51 435.59V444.28M962.9 436.54V444.28M964.28 427.43V437.74M965.67 427.43V439.12M967.06 428.32V439.12M968.45 427.2V429.52M969.84 427.2V429.11M971.23 421.95V429.11M972.62 421.95V427.07M974.01 422.72V427.07M975.4 422.72V430.13M976.79 427.27V430.13M978.18 427.27V431.57M979.57 426.13V431.57M980.96 426.13V440.65M982.35 426.69V440.65M983.74 426.69V432.1M985.13 430.9V439.13M986.52 437.93V444.23M987.91 443.03V449.04M989.3 444.67V449.04M990.69 444.67V446.87M992.07 437.84V446.87M993.46 437.74V439.04M994.85 431.95V438.94M996.24 431.95V435.54M997.63 431.22V435.54M999.02 427.25V432.42M1000.41 426.24V428.45M1001.8 421.4V427.44M1003.19 420.9V422.6M1004.58 420.9V427.97M1005.97 419.78V427.97M1007.36 419.78V433.06M1008.75 431.52V433.06M1010.14 431.52V433.48M1011.53 430.3V433.48M1012.92 430.3V431.51M1014.31 430.31V433.43M1015.7 425.9V433.43M1017.09 420.48V427.1M1018.48 411.55V421.68M1019.86 408.22V412.75M1021.25 408.22V414.89M1022.64 410.9V414.89M1024.03 408.82V412.1M1025.42 407.59V410.02M1026.81 407.59V410.71M1028.2 408.25V410.71M1029.59 408.25V411.04" stroke="#000" stroke-width="2.3" fill="none"/><g stroke-width="9.4" stroke-dasharray="2.35 4.7"><line x1="108.35" y1="606.41" x2="109.74" y2="605.56" stroke="#00b200"/><line x1="111.13" y1="601.05" x2="112.52" y2="594.42" stroke="#00b200"/><line x1="111.13" y1="601.63" x2="112.52" y2="598.71" stroke="#00b200"/><line x1="112.52" y1="596.4" x2="115.3" y2="592.05" stroke="#b21b00"/><line x1="112.52" y1="598.53" x2="116.69" y2="590.18" stroke="#b21b00"/><line x1="112.52" y1="597.07" x2="113.91" y2="594.21" stroke="#00b200"/><line x1="112.52" y1="600.02" x2="115.3" y2="593.09" stroke="#00b200"/><line x1="113.91" y1="594.06" x2="115.3" y2="593.31" stroke="#b21b00"/><line x1="113.91" y1="593.77" x2="119.47" y2="592.59" stroke="#b21b00"/><line x1="113.91" y1="596.33" x2="115.3" y2="594.12" stroke="#00b200"/><line x1="113.91" y1="595.49" x2="116.69" y2="589.76" stroke="#b21b00"/><line x1="115.3" y1="589.65" x2="118.08" y2="590.22" stroke="#b21b00"/><line x1="120.86" y1="592.07" x2="126.42" y2="593.4" stroke="#b21b00"/><line x1="122.25" y1="590.56" x2="126.42" y2="591.84" stroke="#b21b00"/><line x1="122.25" y1="589.07" x2="123.64" y2="593.1" stroke="#b21b00"/><line x1="123.64" y1="591.4" x2="126.42" y2="592.26" stroke="#00b200"/><line x1="123.64" y1="591.23" x2="125.03" y2="592.77" stroke="#b21b00"/><line x1="123.64" y1="589.25" x2="125.03" y2="593.98" stroke="#b21b00"/><line x1="123.64" y1="591.53" x2="126.42" y2="590.63" stroke="#00b200"/><line x1="131.97" y1="590.5" x2="136.14" y2="592.62" stroke="#00b200"/><line x1="131.97" y1="592.87" x2="136.14" y2="592.32" stroke="#b21b00"/><line x1="133.36" y1="591.77" x2="134.75" y2="591.86" stroke="#00b200"/><line x1="140.31" y1="590.54" x2="145.87" y2="588.92" stroke="#00b200"/><line x1="140.31" y1="590.91" x2="141.7" y2="591.29" stroke="#00b200"/><line x1="143.09" y1="589.39" x2="144.48" y2="587.66" stroke="#00b200"/><line x1="144.48" y1="591.01" x2="147.26" y2="588.64" stroke="#00b200"/><line x1="144.48" y1="588.6" x2="147.26" y2="590.61" stroke="#b21b00"/><line x1="145.87" y1="588.12" x2="148.65" y2="589.65" stroke="#b21b00"/><line x1="145.87" y1="590.17" x2="150.04" y2="589.52" stroke="#b21b00"/><line x1="147.26" y1="587.43" x2="148.65" y2="590.14" stroke="#b21b00"/><line x1="147.26" y1="588.86" x2="152.82" y2="590.92" stroke="#00b200"/><line x1="147.26" y1="590.68" x2="150.04" y2="590.58" stroke="#00b200"/><line x1="147.26" y1="588.8" x2="148.65" y2="589.93" stroke="#b21b00"/><line x1="150.04" y1="590.22" x2="155.6" y2="590.86" stroke="#b21b00"/><line x1="150.04" y1="591.06" x2="152.82" y2="592.28" stroke="#b21b00"/><line x1="154.21" y1="591.46" x2="155.6" y2="590.85" stroke="#b21b00"/><line x1="155.6" y1="591.83" x2="156.99" y2="589.36" stroke="#b21b00"/><line x1="155.6" y1="594.26" x2="158.38" y2="593.31" stroke="#00b200"/><line x1="156.99" y1="592.57" x2="161.15" y2="591.74" stroke="#b21b00"/><line x1="158.38" y1="593.15" x2="161.15" y2="592.39" stroke="#b21b00"/><line x1="158.38" y1="596.92" x2="163.93" y2="593.21" stroke="#b21b00"/><line x1="158.38" y1="594.93" x2="159.76" y2="594.95" stroke="#b21b00"/><line x1="158.38" y1="593.22" x2="159.76" y2="592.57" stroke="#b21b00"/><line x1="158.38" y1="594.5" x2="159.76" y2="593.04" stroke="#00b200"/><line x1="158.38" y1="590.91" x2="159.76" y2="593.4" stroke="#b21b00"/><line x1="159.76" y1="593.5" x2="162.54" y2="591.08" stroke="#b21b00"/><line x1="161.15" y1="592.87" x2="162.54" y2="597.1" stroke="#00b200"/><line x1="162.54" y1="594.1" x2="163.93" y2="594.03" stroke="#00b200"/><line x1="162.54" y1="595.13" x2="163.93" y2="590.39" stroke="#00b200"/><line x1="162.54" y1="595.3" x2="165.32" y2="595.84" stroke="#00b200"/><line x1="163.93" y1="593.39" x2="168.1" y2="595.79" stroke="#b21b00"/><line x1="163.93" y1="593.95" x2="165.32" y2="594" stroke="#b21b00"/><line x1="166.71" y1="595.28" x2="168.1" y2="593.7" stroke="#b21b00"/><line x1="168.1" y1="595.89" x2="170.88" y2="593.08" stroke="#00b200"/><line x1="169.49" y1="594.65" x2="170.88" y2="593.11" stroke="#b21b00"/><line x1="170.88" y1="593.97" x2="172.27" y2="593.56" stroke="#00b200"/><line x1="170.88" y1="592.61" x2="176.44" y2="590.6" stroke="#b21b00"/><line x1="172.27" y1="591.46" x2="173.66" y2="591.28" stroke="#b21b00"/><line x1="173.66" y1="592.45" x2="175.05" y2="592.99" stroke="#b21b00"/><line x1="176.44" y1="590.94" x2="177.83" y2="592.4" stroke="#00b200"/><line x1="177.83" y1="590.28" x2="180.61" y2="589.36" stroke="#00b200"/><line x1="177.83" y1="589.31" x2="180.61" y2="590.82" stroke="#b21b00"/><line x1="179.22" y1="590.54" x2="180.61" y2="590.84" stroke="#00b200"/><line x1="179.22" y1="589.75" x2="180.61" y2="589.17" stroke="#b21b00"/><line x1="180.61" y1="588.91" x2="182" y2="591.82" stroke="#00b200"/><line x1="180.61" y1="589.34" x2="182" y2="588.85" stroke="#00b200"/><line x1="182" y1="589.98" x2="183.39" y2="590.09" stroke="#00b200"/><line x1="182" y1="588.67" x2="184.78" y2="587.64" stroke="#b21b00"/><line x1="183.39" y1="588.24" x2="186.17" y2="590.48" stroke="#b21b00"/><line x1="183.39" y1="589.94" x2="187.55" y2="590.45" stroke="#b21b00"/><line x1="183.39" y1="591.09" x2="186.17" y2="588.14" stroke="#b21b00"/><line x1="184.78" y1="589.89" x2="187.55" y2="589.59" stroke="#00b200"/><line x1="188.94" y1="589.55" x2="193.11" y2="591.46" stroke="#00b200"/><line x1="188.94" y1="590.18" x2="194.5" y2="586.44" stroke="#b21b00"/><line x1="188.94" y1="589.71" x2="193.11" y2="588.78" stroke="#00b200"/><line x1="190.33" y1="590.41" x2="195.89" y2="589.4" stroke="#b21b00"/><line x1="193.11" y1="588.86" x2="194.5" y2="588.72" stroke="#00b200"/><line x1="198.67" y1="583.57" x2="200.06" y2="585.1" stroke="#b21b00"/><line x1="200.06" y1="582.52" x2="201.45" y2="580.96" stroke="#b21b00"/><line x1="200.06" y1="582.11" x2="204.23" y2="581.36" stroke="#b21b00"/><line x1="201.45" y1="578.96" x2="207.01" y2="581.82" stroke="#b21b00"/><line x1="202.84" y1="582" x2="205.62" y2="583.19" stroke="#b21b00"/><line x1="202.84" y1="582.06" x2="208.4" y2="578.92" stroke="#b21b00"/><line x1="204.23" y1="579.14" x2="205.62" y2="579.65" stroke="#b21b00"/><line x1="205.62" y1="576.99" x2="207.01" y2="579.77" stroke="#00b200"/><line x1="208.4" y1="578.73" x2="211.18" y2="577.72" stroke="#00b200"/><line x1="208.4" y1="579.05" x2="209.79" y2="576.08" stroke="#b21b00"/><line x1="209.79" y1="579.35" x2="211.18" y2="580.3" stroke="#00b200"/><line x1="209.79" y1="579.72" x2="212.57" y2="578.98" stroke="#b21b00"/><line x1="211.18" y1="578.64" x2="212.57" y2="576.21" stroke="#b21b00"/><line x1="213.95" y1="577.32" x2="219.51" y2="576.06" stroke="#00b200"/><line x1="215.34" y1="577.28" x2="218.12" y2="576.51" stroke="#b21b00"/><line x1="216.73" y1="572.58" x2="218.12" y2="576.42" stroke="#b21b00"/><line x1="216.73" y1="576.93" x2="222.29" y2="574.51" stroke="#b21b00"/><line x1="218.12" y1="578.56" x2="219.51" y2="574.24" stroke="#00b200"/><line x1="218.12" y1="573.93" x2="220.9" y2="575.57" stroke="#b21b00"/><line x1="219.51" y1="575.74" x2="220.9" y2="575.04" stroke="#00b200"/><line x1="220.9" y1="574.31" x2="223.68" y2="571.92" stroke="#b21b00"/><line x1="222.29" y1="574.51" x2="223.68" y2="573.82" stroke="#00b200"/><line x1="222.29" y1="571.8" x2="225.07" y2="572.71" stroke="#00b200"/><line x1="222.29" y1="574.75" x2="227.85" y2="571.76" stroke="#b21b00"/><line x1="223.68" y1="576.06" x2="225.07" y2="575.39" stroke="#00b200"/><line x1="225.07" y1="574.37" x2="226.46" y2="570.41" stroke="#b21b00"/><line x1="226.46" y1="572.15" x2="232.02" y2="571.04" stroke="#b21b00"/><line x1="227.85" y1="571.93" x2="232.02" y2="569.39" stroke="#b21b00"/><line x1="229.24" y1="574.15" x2="230.63" y2="571.26" stroke="#00b200"/><line x1="230.63" y1="568.87" x2="232.02" y2="568.31" stroke="#00b200"/><line x1="230.63" y1="573.62" x2="232.02" y2="568.43" stroke="#00b200"/><line x1="234.8" y1="568.66" x2="236.19" y2="568.09" stroke="#b21b00"/><line x1="236.19" y1="569.94" x2="240.36" y2="572.14" stroke="#b21b00"/><line x1="236.19" y1="569.67" x2="238.97" y2="570.02" stroke="#b21b00"/><line x1="237.58" y1="571.32" x2="243.13" y2="572.83" stroke="#b21b00"/><line x1="238.97" y1="570.44" x2="240.36" y2="571.12" stroke="#b21b00"/><line x1="238.97" y1="570.81" x2="241.75" y2="572.91" stroke="#b21b00"/><line x1="240.36" y1="573.17" x2="243.13" y2="574.22" stroke="#b21b00"/><line x1="240.36" y1="571.1" x2="244.52" y2="572.49" stroke="#b21b00"/><line x1="240.36" y1="573.65" x2="245.91" y2="572.32" stroke="#00b200"/><line x1="243.13" y1="572.38" x2="247.3" y2="576.62" stroke="#b21b00"/><line x1="243.13" y1="572.76" x2="248.69" y2="574.41" stroke="#00b200"/><line x1="244.52" y1="573.48" x2="248.69" y2="572.81" stroke="#00b200"/><line x1="248.69" y1="570.09" x2="252.86" y2="572.42" stroke="#00b200"/><line x1="248.69" y1="574.41" x2="250.08" y2="574.18" stroke="#00b200"/><line x1="248.69" y1="575.04" x2="252.86" y2="572.75" stroke="#00b200"/><line x1="250.08" y1="570.67" x2="252.86" y2="574.76" stroke="#b21b00"/><line x1="250.08" y1="572.67" x2="251.47" y2="575.02" stroke="#b21b00"/><line x1="251.47" y1="574.38" x2="254.25" y2="571.55" stroke="#00b200"/><line x1="252.86" y1="571.61" x2="254.25" y2="574.18" stroke="#b21b00"/><line x1="255.64" y1="569.45" x2="257.03" y2="567.63" stroke="#00b200"/><line x1="258.42" y1="566.7" x2="263.98" y2="569.25" stroke="#b21b00"/><line x1="258.42" y1="571.01" x2="261.2" y2="569.97" stroke="#b21b00"/><line x1="258.42" y1="569.13" x2="263.98" y2="571.54" stroke="#b21b00"/><line x1="261.2" y1="567.2" x2="265.37" y2="569.45" stroke="#00b200"/><line x1="261.2" y1="569.02" x2="262.59" y2="567.89" stroke="#b21b00"/><line x1="261.2" y1="567.7" x2="263.98" y2="570.31" stroke="#00b200"/><line x1="261.2" y1="569.6" x2="262.59" y2="568.52" stroke="#00b200"/><line x1="262.59" y1="570.26" x2="268.15" y2="571.26" stroke="#b21b00"/><line x1="263.98" y1="567.52" x2="265.37" y2="567.75" stroke="#b21b00"/><line x1="266.76" y1="569.76" x2="269.53" y2="571.8" stroke="#00b200"/><line x1="266.76" y1="572.55" x2="270.92" y2="574.92" stroke="#b21b00"/><line x1="268.15" y1="573.61" x2="269.53" y2="572.59" stroke="#00b200"/><line x1="269.53" y1="571.49" x2="270.92" y2="572.93" stroke="#b21b00"/><line x1="270.92" y1="574.85" x2="276.48" y2="573.21" stroke="#00b200"/><line x1="272.31" y1="577.46" x2="273.7" y2="572.25" stroke="#b21b00"/><line x1="272.31" y1="573.87" x2="275.09" y2="572.83" stroke="#00b200"/><line x1="272.31" y1="576.26" x2="273.7" y2="575.63" stroke="#00b200"/><line x1="275.09" y1="573.58" x2="279.26" y2="573.35" stroke="#b21b00"/><line x1="275.09" y1="574.63" x2="277.87" y2="572.51" stroke="#00b200"/><line x1="276.48" y1="572.41" x2="277.87" y2="572.4" stroke="#b21b00"/><line x1="276.48" y1="572.67" x2="279.26" y2="573.32" stroke="#b21b00"/><line x1="277.87" y1="574.52" x2="282.04" y2="573.96" stroke="#b21b00"/><line x1="279.26" y1="574.64" x2="280.65" y2="573.9" stroke="#b21b00"/><line x1="279.26" y1="572.97" x2="280.65" y2="574.41" stroke="#b21b00"/><line x1="280.65" y1="570.04" x2="282.04" y2="573.32" stroke="#00b200"/><line x1="280.65" y1="578.64" x2="282.04" y2="573.71" stroke="#00b200"/><line x1="282.04" y1="574.6" x2="284.82" y2="574.46" stroke="#00b200"/><line x1="282.04" y1="572.79" x2="284.82" y2="573.65" stroke="#00b200"/><line x1="282.04" y1="572.63" x2="286.21" y2="578.68" stroke="#b21b00"/><line x1="283.43" y1="574.2" x2="288.99" y2="576.12" stroke="#b21b00"/><line x1="286.21" y1="574.53" x2="287.6" y2="577.58" stroke="#b21b00"/><line x1="287.6" y1="575.11" x2="288.99" y2="576.35" stroke="#00b200"/><line x1="287.6" y1="576.23" x2="288.99" y2="579.08" stroke="#b21b00"/><line x1="288.99" y1="577.28" x2="293.16" y2="581.1" stroke="#00b200"/><line x1="288.99" y1="578.91" x2="290.38" y2="575.58" stroke="#00b200"/><line x1="288.99" y1="579.14" x2="291.77" y2="579.07" stroke="#00b200"/><line x1="288.99" y1="579.66" x2="290.38" y2="579.04" stroke="#00b200"/><line x1="290.38" y1="575.29" x2="293.16" y2="581.5" stroke="#00b200"/><line x1="290.38" y1="579.08" x2="293.16" y2="580.31" stroke="#b21b00"/><line x1="291.77" y1="578.95" x2="294.55" y2="580.73" stroke="#b21b00"/><line x1="291.77" y1="580.23" x2="294.55" y2="582.81" stroke="#00b200"/><line x1="291.77" y1="578.02" x2="294.55" y2="581.94" stroke="#b21b00"/><line x1="291.77" y1="580.36" x2="293.16" y2="581.59" stroke="#00b200"/><line x1="291.77" y1="578.07" x2="293.16" y2="579.15" stroke="#00b200"/><line x1="291.77" y1="578.59" x2="293.16" y2="582.35" stroke="#b21b00"/><line x1="291.77" y1="579.11" x2="295.94" y2="585.7" stroke="#00b200"/><line x1="293.16" y1="581.04" x2="297.32" y2="581.21" stroke="#b21b00"/><line x1="293.16" y1="579.61" x2="297.32" y2="583.52" stroke="#b21b00"/><line x1="293.16" y1="579.48" x2="298.71" y2="586.36" stroke="#00b200"/><line x1="295.94" y1="582.92" x2="300.1" y2="587.77" stroke="#00b200"/><line x1="297.32" y1="583.92" x2="300.1" y2="585.02" stroke="#b21b00"/><line x1="298.71" y1="585.73" x2="302.88" y2="594.11" stroke="#00b200"/><line x1="298.71" y1="585.89" x2="300.1" y2="586.7" stroke="#00b200"/><line x1="301.49" y1="589.22" x2="304.27" y2="591.95" stroke="#b21b00"/><line x1="301.49" y1="589.6" x2="302.88" y2="592.94" stroke="#00b200"/><line x1="302.88" y1="589.35" x2="307.05" y2="596.65" stroke="#00b200"/><line x1="302.88" y1="590.69" x2="305.66" y2="596.17" stroke="#b21b00"/><line x1="304.27" y1="592.16" x2="307.05" y2="597.59" stroke="#00b200"/><line x1="304.27" y1="590.58" x2="307.05" y2="598.7" stroke="#b21b00"/><line x1="305.66" y1="592.14" x2="307.05" y2="595.2" stroke="#b21b00"/><line x1="305.66" y1="592.85" x2="308.44" y2="595.84" stroke="#00b200"/><line x1="307.05" y1="595.76" x2="309.83" y2="598.25" stroke="#b21b00"/><line x1="308.44" y1="595.29" x2="314" y2="597.14" stroke="#b21b00"/><line x1="308.44" y1="599.11" x2="311.22" y2="601.97" stroke="#b21b00"/><line x1="308.44" y1="597.24" x2="309.83" y2="598.67" stroke="#00b200"/><line x1="309.83" y1="598.16" x2="311.22" y2="598.28" stroke="#00b200"/><line x1="311.22" y1="597.73" x2="314" y2="600.85" stroke="#b21b00"/><line x1="312.61" y1="598.98" x2="318.17" y2="596.83" stroke="#b21b00"/><line x1="314" y1="599.2" x2="316.78" y2="596.52" stroke="#00b200"/><line x1="315.39" y1="599.56" x2="316.78" y2="597.24" stroke="#b21b00"/><line x1="318.17" y1="597.98" x2="319.56" y2="597.31" stroke="#b21b00"/><line x1="318.17" y1="596.28" x2="320.95" y2="601.52" stroke="#b21b00"/><line x1="318.17" y1="596.89" x2="320.95" y2="597.95" stroke="#00b200"/><line x1="318.17" y1="595.89" x2="320.95" y2="599.59" stroke="#00b200"/><line x1="319.56" y1="597.02" x2="323.73" y2="599.12" stroke="#b21b00"/><line x1="320.95" y1="598.7" x2="322.34" y2="599.4" stroke="#b21b00"/><line x1="322.34" y1="598.05" x2="326.5" y2="601.68" stroke="#b21b00"/><line x1="323.73" y1="601.33" x2="325.12" y2="601.18" stroke="#b21b00"/><line x1="323.73" y1="600.29" x2="325.12" y2="599.04" stroke="#00b200"/><line x1="327.89" y1="604.15" x2="332.06" y2="602.9" stroke="#b21b00"/><line x1="327.89" y1="602.25" x2="333.45" y2="604.28" stroke="#00b200"/><line x1="329.28" y1="604.09" x2="334.84" y2="605.84" stroke="#00b200"/><line x1="330.67" y1="601.5" x2="333.45" y2="603.8" stroke="#b21b00"/><line x1="332.06" y1="604.78" x2="333.45" y2="607.19" stroke="#b21b00"/><line x1="333.45" y1="606.66" x2="339.01" y2="609.04" stroke="#b21b00"/><line x1="334.84" y1="606.24" x2="336.23" y2="610.95" stroke="#b21b00"/><line x1="334.84" y1="607.94" x2="336.23" y2="608.29" stroke="#00b200"/><line x1="337.62" y1="609.03" x2="340.4" y2="611.97" stroke="#b21b00"/><line x1="340.4" y1="610.76" x2="341.79" y2="610.71" stroke="#b21b00"/><line x1="341.79" y1="608.03" x2="345.96" y2="613.9" stroke="#b21b00"/><line x1="341.79" y1="608.82" x2="344.57" y2="609.8" stroke="#b21b00"/><line x1="341.79" y1="609.45" x2="345.96" y2="611.12" stroke="#b21b00"/><line x1="341.79" y1="609.69" x2="343.18" y2="607.53" stroke="#b21b00"/><line x1="343.18" y1="609.49" x2="347.35" y2="610.65" stroke="#b21b00"/><line x1="343.18" y1="609.82" x2="347.35" y2="612.31" stroke="#00b200"/><line x1="344.57" y1="607.16" x2="345.96" y2="612.81" stroke="#00b200"/><line x1="345.96" y1="609.36" x2="348.74" y2="610.77" stroke="#b21b00"/><line x1="345.96" y1="609.02" x2="351.52" y2="613.81" stroke="#b21b00"/><line x1="345.96" y1="611.52" x2="347.35" y2="613.1" stroke="#00b200"/><line x1="347.35" y1="611.63" x2="348.74" y2="615.99" stroke="#00b200"/><line x1="348.74" y1="612.09" x2="350.13" y2="611.79" stroke="#00b200"/><line x1="350.13" y1="614.05" x2="351.52" y2="613.74" stroke="#b21b00"/><line x1="351.52" y1="611.12" x2="352.9" y2="614.77" stroke="#00b200"/><line x1="352.9" y1="612.14" x2="355.68" y2="608.33" stroke="#b21b00"/><line x1="352.9" y1="613.49" x2="354.29" y2="611.65" stroke="#b21b00"/><line x1="354.29" y1="613.86" x2="355.68" y2="609.97" stroke="#00b200"/><line x1="354.29" y1="613.21" x2="355.68" y2="612.27" stroke="#b21b00"/><line x1="354.29" y1="612.23" x2="357.07" y2="612.38" stroke="#00b200"/><line x1="355.68" y1="611.62" x2="361.24" y2="612.78" stroke="#00b200"/><line x1="355.68" y1="614.11" x2="358.46" y2="610.16" stroke="#b21b00"/><line x1="355.68" y1="612.28" x2="358.46" y2="609.4" stroke="#00b200"/><line x1="357.07" y1="610.56" x2="358.46" y2="607.22" stroke="#b21b00"/><line x1="358.46" y1="610.87" x2="359.85" y2="611.48" stroke="#00b200"/><line x1="358.46" y1="610.63" x2="359.85" y2="610.06" stroke="#b21b00"/><line x1="358.46" y1="611.43" x2="359.85" y2="613.56" stroke="#00b200"/><line x1="359.85" y1="609.6" x2="361.24" y2="609.93" stroke="#b21b00"/><line x1="361.24" y1="609.35" x2="366.8" y2="606.39" stroke="#00b200"/><line x1="361.24" y1="611.79" x2="366.8" y2="606.85" stroke="#00b200"/><line x1="362.63" y1="609.23" x2="368.19" y2="606.73" stroke="#b21b00"/><line x1="364.02" y1="608.7" x2="365.41" y2="606.94" stroke="#00b200"/><line x1="364.02" y1="609.75" x2="365.41" y2="608.85" stroke="#00b200"/><line x1="365.41" y1="609.95" x2="366.8" y2="608.24" stroke="#b21b00"/><line x1="366.8" y1="607.53" x2="370.97" y2="605.2" stroke="#00b200"/><line x1="369.58" y1="606.96" x2="375.14" y2="600.65" stroke="#b21b00"/><line x1="369.58" y1="608.78" x2="373.75" y2="597.94" stroke="#00b200"/><line x1="372.36" y1="602.48" x2="375.14" y2="600.96" stroke="#b21b00"/><line x1="372.36" y1="603.75" x2="373.75" y2="602.42" stroke="#00b200"/><line x1="377.92" y1="598.89" x2="382.08" y2="596.23" stroke="#b21b00"/><line x1="380.7" y1="596.86" x2="383.47" y2="597.44" stroke="#b21b00"/><line x1="380.7" y1="597.26" x2="383.47" y2="600.21" stroke="#00b200"/><line x1="380.7" y1="600.12" x2="386.25" y2="600.03" stroke="#00b200"/><line x1="382.08" y1="595.17" x2="383.47" y2="599" stroke="#b21b00"/><line x1="383.47" y1="599.21" x2="386.25" y2="597.5" stroke="#b21b00"/><line x1="383.47" y1="599.16" x2="389.03" y2="600.01" stroke="#00b200"/><line x1="383.47" y1="601.36" x2="384.86" y2="599.26" stroke="#b21b00"/><line x1="383.47" y1="598.82" x2="384.86" y2="597.54" stroke="#b21b00"/><line x1="383.47" y1="599.05" x2="387.64" y2="601.02" stroke="#b21b00"/><line x1="387.64" y1="596.39" x2="389.03" y2="599.55" stroke="#b21b00"/><line x1="387.64" y1="600.56" x2="390.42" y2="600.44" stroke="#b21b00"/><line x1="389.03" y1="601.97" x2="391.81" y2="600.03" stroke="#00b200"/><line x1="389.03" y1="598.57" x2="394.59" y2="597.49" stroke="#b21b00"/><line x1="389.03" y1="601.52" x2="391.81" y2="600.46" stroke="#b21b00"/><line x1="391.81" y1="598.68" x2="395.98" y2="600.44" stroke="#b21b00"/><line x1="393.2" y1="602.62" x2="394.59" y2="599.75" stroke="#b21b00"/><line x1="393.2" y1="599.75" x2="394.59" y2="599.59" stroke="#00b200"/><line x1="393.2" y1="599.58" x2="394.59" y2="601.96" stroke="#b21b00"/><line x1="393.2" y1="600.82" x2="394.59" y2="601.46" stroke="#00b200"/><line x1="395.98" y1="599.15" x2="400.15" y2="599.7" stroke="#b21b00"/><line x1="397.37" y1="601.97" x2="400.15" y2="602.18" stroke="#00b200"/><line x1="397.37" y1="600.56" x2="400.15" y2="600.75" stroke="#b21b00"/><line x1="401.54" y1="600.09" x2="402.93" y2="600.3" stroke="#b21b00"/><line x1="404.32" y1="602.78" x2="405.71" y2="602.47" stroke="#b21b00"/><line x1="404.32" y1="597.46" x2="407.1" y2="597.18" stroke="#00b200"/><line x1="405.71" y1="597.54" x2="407.1" y2="598.28" stroke="#b21b00"/><line x1="405.71" y1="596.64" x2="407.1" y2="598.5" stroke="#00b200"/><line x1="408.49" y1="601.07" x2="409.87" y2="599.32" stroke="#b21b00"/><line x1="408.49" y1="599.08" x2="409.87" y2="601.01" stroke="#b21b00"/><line x1="409.87" y1="599.26" x2="411.26" y2="597.25" stroke="#00b200"/><line x1="411.26" y1="595.86" x2="412.65" y2="594.52" stroke="#00b200"/><line x1="412.65" y1="593.52" x2="414.04" y2="590.45" stroke="#00b200"/><line x1="415.43" y1="588.13" x2="416.82" y2="589.19" stroke="#b21b00"/><line x1="415.43" y1="588.64" x2="418.21" y2="587.28" stroke="#00b200"/><line x1="416.82" y1="588.22" x2="418.21" y2="585.52" stroke="#b21b00"/><line x1="418.21" y1="588.87" x2="419.6" y2="590.24" stroke="#00b200"/><line x1="420.99" y1="589.24" x2="422.38" y2="591.39" stroke="#b21b00"/><line x1="422.38" y1="590.04" x2="423.77" y2="589.47" stroke="#b21b00"/><line x1="422.38" y1="591.08" x2="423.77" y2="589.93" stroke="#00b200"/><line x1="425.16" y1="590.74" x2="427.94" y2="590.58" stroke="#b21b00"/><line x1="426.55" y1="590.86" x2="430.72" y2="587.46" stroke="#b21b00"/><line x1="426.55" y1="591.54" x2="427.94" y2="590.12" stroke="#00b200"/><line x1="430.72" y1="590.4" x2="433.5" y2="585.03" stroke="#00b200"/><line x1="432.11" y1="588.76" x2="434.89" y2="587.18" stroke="#00b200"/><line x1="433.5" y1="588.38" x2="434.89" y2="588.73" stroke="#00b200"/><line x1="433.5" y1="587.39" x2="434.89" y2="584.91" stroke="#b21b00"/><line x1="434.89" y1="584.99" x2="436.27" y2="585.13" stroke="#b21b00"/><line x1="434.89" y1="584.15" x2="436.27" y2="584.77" stroke="#b21b00"/><line x1="437.66" y1="586.22" x2="440.44" y2="585.71" stroke="#b21b00"/><line x1="437.66" y1="585.91" x2="443.22" y2="585.2" stroke="#00b200"/><line x1="439.05" y1="586.02" x2="441.83" y2="586.19" stroke="#b21b00"/><line x1="439.05" y1="588.09" x2="441.83" y2="584.79" stroke="#b21b00"/><line x1="440.44" y1="585.45" x2="441.83" y2="586.05" stroke="#b21b00"/><line x1="440.44" y1="587.01" x2="443.22" y2="583.5" stroke="#b21b00"/><line x1="441.83" y1="586.42" x2="447.39" y2="581.16" stroke="#00b200"/><line x1="443.22" y1="587.12" x2="446" y2="583.35" stroke="#b21b00"/><line x1="443.22" y1="582.31" x2="447.39" y2="582.51" stroke="#00b200"/><line x1="444.61" y1="583.02" x2="447.39" y2="581.17" stroke="#b21b00"/><line x1="444.61" y1="583.61" x2="446" y2="582.23" stroke="#b21b00"/><line x1="446" y1="583.7" x2="448.78" y2="581.93" stroke="#00b200"/><line x1="447.39" y1="582.58" x2="452.95" y2="580.44" stroke="#00b200"/><line x1="448.78" y1="581.7" x2="450.17" y2="580.91" stroke="#b21b00"/><line x1="450.17" y1="582.25" x2="455.73" y2="583.36" stroke="#00b200"/><line x1="450.17" y1="583.87" x2="451.56" y2="581.69" stroke="#b21b00"/><line x1="451.56" y1="580.55" x2="454.34" y2="579.9" stroke="#00b200"/><line x1="452.95" y1="583.96" x2="454.34" y2="581.54" stroke="#b21b00"/><line x1="452.95" y1="580.13" x2="457.12" y2="579.65" stroke="#b21b00"/><line x1="452.95" y1="580.92" x2="454.34" y2="582.86" stroke="#00b200"/><line x1="455.73" y1="582.02" x2="457.12" y2="580.88" stroke="#b21b00"/><line x1="455.73" y1="579.97" x2="457.12" y2="578.96" stroke="#b21b00"/><line x1="457.12" y1="581.74" x2="461.29" y2="582.39" stroke="#b21b00"/><line x1="457.12" y1="579.26" x2="459.9" y2="583.52" stroke="#b21b00"/><line x1="457.12" y1="579.24" x2="459.9" y2="579.37" stroke="#b21b00"/><line x1="462.68" y1="575.85" x2="464.06" y2="578.41" stroke="#b21b00"/><line x1="462.68" y1="578.79" x2="465.45" y2="579.49" stroke="#00b200"/><line x1="464.06" y1="580.12" x2="466.84" y2="580.41" stroke="#b21b00"/><line x1="464.06" y1="578.89" x2="465.45" y2="582.82" stroke="#b21b00"/><line x1="468.23" y1="582.62" x2="473.79" y2="586.98" stroke="#00b200"/><line x1="471.01" y1="586.42" x2="472.4" y2="589.99" stroke="#b21b00"/><line x1="471.01" y1="585.46" x2="475.18" y2="588.92" stroke="#b21b00"/><line x1="471.01" y1="587.95" x2="472.4" y2="587.69" stroke="#00b200"/><line x1="473.79" y1="587.64" x2="479.35" y2="591.13" stroke="#b21b00"/><line x1="476.57" y1="591.97" x2="482.13" y2="595.62" stroke="#b21b00"/><line x1="477.96" y1="591.39" x2="479.35" y2="590.61" stroke="#00b200"/><line x1="479.35" y1="591.12" x2="480.74" y2="593.35" stroke="#b21b00"/><line x1="479.35" y1="590.71" x2="484.91" y2="597.4" stroke="#b21b00"/><line x1="480.74" y1="591.6" x2="482.13" y2="593.98" stroke="#b21b00"/><line x1="482.13" y1="596.49" x2="484.91" y2="595.38" stroke="#b21b00"/><line x1="484.91" y1="596.1" x2="489.08" y2="595.33" stroke="#b21b00"/><line x1="489.08" y1="597.37" x2="491.86" y2="598.46" stroke="#b21b00"/><line x1="490.47" y1="598.58" x2="493.24" y2="595.03" stroke="#b21b00"/><line x1="490.47" y1="598.87" x2="491.86" y2="597.79" stroke="#00b200"/><line x1="493.24" y1="597" x2="494.63" y2="590.34" stroke="#b21b00"/><line x1="493.24" y1="595.71" x2="497.41" y2="586.76" stroke="#00b200"/><line x1="493.24" y1="595.59" x2="494.63" y2="595.33" stroke="#b21b00"/><line x1="493.24" y1="592.44" x2="497.41" y2="587.71" stroke="#b21b00"/><line x1="496.02" y1="589.16" x2="497.41" y2="586.33" stroke="#b21b00"/><line x1="496.02" y1="591.04" x2="497.41" y2="585.7" stroke="#00b200"/><line x1="496.02" y1="592.4" x2="497.41" y2="587.29" stroke="#b21b00"/><line x1="496.02" y1="589.81" x2="497.41" y2="585.81" stroke="#b21b00"/><line x1="496.02" y1="588.02" x2="497.41" y2="587.18" stroke="#00b200"/><line x1="497.41" y1="590.35" x2="498.8" y2="587.3" stroke="#b21b00"/><line x1="500.19" y1="586.06" x2="501.58" y2="587.19" stroke="#00b200"/><line x1="501.58" y1="588.6" x2="502.97" y2="587.89" stroke="#b21b00"/><line x1="502.97" y1="585.48" x2="508.53" y2="585.78" stroke="#00b200"/><line x1="502.97" y1="586.83" x2="505.75" y2="585.17" stroke="#b21b00"/><line x1="504.36" y1="587.89" x2="508.53" y2="586.82" stroke="#b21b00"/><line x1="504.36" y1="587.89" x2="508.53" y2="587.53" stroke="#b21b00"/><line x1="505.75" y1="586.28" x2="507.14" y2="583.9" stroke="#00b200"/><line x1="507.14" y1="586.8" x2="511.31" y2="584.8" stroke="#00b200"/><line x1="507.14" y1="586.6" x2="511.31" y2="584.19" stroke="#b21b00"/><line x1="508.53" y1="586.76" x2="509.92" y2="585.19" stroke="#00b200"/><line x1="508.53" y1="587.44" x2="512.7" y2="584" stroke="#00b200"/><line x1="509.92" y1="584.46" x2="512.7" y2="580.51" stroke="#00b200"/><line x1="512.7" y1="582.79" x2="515.48" y2="585.32" stroke="#b21b00"/><line x1="515.48" y1="584.55" x2="521.03" y2="583.52" stroke="#00b200"/><line x1="518.26" y1="581.25" x2="521.03" y2="579.34" stroke="#00b200"/><line x1="519.64" y1="582.96" x2="523.81" y2="580.59" stroke="#00b200"/><line x1="521.03" y1="583.11" x2="523.81" y2="580.52" stroke="#b21b00"/><line x1="522.42" y1="580.37" x2="523.81" y2="580.59" stroke="#b21b00"/><line x1="522.42" y1="584.06" x2="523.81" y2="579.88" stroke="#00b200"/><line x1="523.81" y1="581.4" x2="527.98" y2="580.76" stroke="#b21b00"/><line x1="523.81" y1="582.01" x2="526.59" y2="584.22" stroke="#00b200"/><line x1="523.81" y1="583.51" x2="527.98" y2="580.07" stroke="#00b200"/><line x1="525.2" y1="580.84" x2="526.59" y2="580.78" stroke="#b21b00"/><line x1="525.2" y1="584.11" x2="529.37" y2="583.01" stroke="#00b200"/><line x1="526.59" y1="580" x2="529.37" y2="581.92" stroke="#00b200"/><line x1="526.59" y1="582.85" x2="527.98" y2="584.45" stroke="#b21b00"/><line x1="526.59" y1="582.99" x2="529.37" y2="578.76" stroke="#00b200"/><line x1="527.98" y1="582.81" x2="530.76" y2="581.69" stroke="#00b200"/><line x1="527.98" y1="583.24" x2="529.37" y2="579.65" stroke="#b21b00"/><line x1="529.37" y1="580.93" x2="534.93" y2="581.43" stroke="#b21b00"/><line x1="529.37" y1="583.24" x2="530.76" y2="582.69" stroke="#b21b00"/><line x1="529.37" y1="579.09" x2="530.76" y2="579.88" stroke="#b21b00"/><line x1="532.15" y1="579.45" x2="534.93" y2="580.65" stroke="#b21b00"/><line x1="533.54" y1="583.86" x2="534.93" y2="577.97" stroke="#b21b00"/><line x1="534.93" y1="580.77" x2="536.32" y2="580.14" stroke="#b21b00"/><line x1="536.32" y1="580.14" x2="539.1" y2="577.75" stroke="#00b200"/><line x1="539.1" y1="577.46" x2="541.88" y2="579.05" stroke="#b21b00"/><line x1="540.49" y1="579.94" x2="543.27" y2="580.37" stroke="#00b200"/><line x1="540.49" y1="580.97" x2="543.27" y2="578.73" stroke="#b21b00"/><line x1="541.88" y1="577.32" x2="544.66" y2="577.12" stroke="#00b200"/><line x1="541.88" y1="578.31" x2="547.43" y2="580.35" stroke="#00b200"/><line x1="543.27" y1="579.09" x2="548.82" y2="578.52" stroke="#b21b00"/><line x1="550.21" y1="583.77" x2="554.38" y2="586.4" stroke="#b21b00"/><line x1="550.21" y1="580.14" x2="554.38" y2="586.16" stroke="#b21b00"/><line x1="550.21" y1="580.51" x2="552.99" y2="585.41" stroke="#b21b00"/><line x1="551.6" y1="583.21" x2="554.38" y2="584.98" stroke="#b21b00"/><line x1="552.99" y1="587.44" x2="554.38" y2="585.03" stroke="#00b200"/><line x1="552.99" y1="582.76" x2="554.38" y2="586.42" stroke="#b21b00"/><line x1="552.99" y1="585.17" x2="558.55" y2="585.42" stroke="#00b200"/><line x1="554.38" y1="583.53" x2="557.16" y2="585.73" stroke="#b21b00"/><line x1="555.77" y1="589.07" x2="557.16" y2="583.43" stroke="#00b200"/><line x1="557.16" y1="584.04" x2="558.55" y2="583.36" stroke="#b21b00"/><line x1="559.94" y1="582.45" x2="565.5" y2="577.41" stroke="#b21b00"/><line x1="559.94" y1="586.56" x2="562.72" y2="581.05" stroke="#b21b00"/><line x1="561.33" y1="583.55" x2="564.11" y2="579.68" stroke="#00b200"/><line x1="561.33" y1="582.83" x2="565.5" y2="578.26" stroke="#b21b00"/><line x1="561.33" y1="581.97" x2="564.11" y2="578.44" stroke="#b21b00"/><line x1="562.72" y1="582.97" x2="564.11" y2="580.57" stroke="#00b200"/><line x1="562.72" y1="582.03" x2="565.5" y2="581.26" stroke="#00b200"/><line x1="564.11" y1="580.23" x2="569.67" y2="578.41" stroke="#00b200"/><line x1="564.11" y1="582.27" x2="565.5" y2="578.49" stroke="#00b200"/><line x1="566.89" y1="579.18" x2="568.28" y2="577.54" stroke="#00b200"/><line x1="569.67" y1="578.7" x2="575.23" y2="580.48" stroke="#00b200"/><line x1="571.06" y1="577.65" x2="573.84" y2="580.17" stroke="#b21b00"/><line x1="572.45" y1="581.7" x2="573.84" y2="582.31" stroke="#00b200"/><line x1="573.84" y1="580.17" x2="576.61" y2="579.44" stroke="#00b200"/><line x1="579.39" y1="582.07" x2="582.17" y2="577.51" stroke="#b21b00"/><line x1="582.17" y1="577.46" x2="584.95" y2="577.68" stroke="#00b200"/><line x1="583.56" y1="576.42" x2="587.73" y2="573.58" stroke="#00b200"/><line x1="587.73" y1="572.36" x2="590.51" y2="573.13" stroke="#00b200"/><line x1="587.73" y1="572.54" x2="590.51" y2="573.04" stroke="#b21b00"/><line x1="589.12" y1="573.48" x2="590.51" y2="575.98" stroke="#00b200"/><line x1="597.46" y1="571.41" x2="600.24" y2="571.46" stroke="#b21b00"/><line x1="597.46" y1="575.68" x2="603.01" y2="572.92" stroke="#00b200"/><line x1="598.85" y1="572.41" x2="600.24" y2="572.59" stroke="#b21b00"/><line x1="598.85" y1="572.59" x2="603.01" y2="571.01" stroke="#00b200"/><line x1="603.01" y1="572.27" x2="604.4" y2="571.61" stroke="#b21b00"/><line x1="604.4" y1="574.71" x2="605.79" y2="572.33" stroke="#b21b00"/><line x1="604.4" y1="570.76" x2="607.18" y2="573" stroke="#00b200"/><line x1="605.79" y1="571.43" x2="611.35" y2="568.05" stroke="#b21b00"/><line x1="605.79" y1="575.96" x2="608.57" y2="572.94" stroke="#00b200"/><line x1="607.18" y1="573.39" x2="609.96" y2="569.73" stroke="#b21b00"/><line x1="612.74" y1="567.88" x2="615.52" y2="565.73" stroke="#b21b00"/><line x1="615.52" y1="565.64" x2="618.3" y2="567.89" stroke="#00b200"/><line x1="615.52" y1="567.45" x2="621.08" y2="563.53" stroke="#00b200"/><line x1="616.91" y1="563.46" x2="618.3" y2="567.18" stroke="#00b200"/><line x1="619.69" y1="564.19" x2="625.25" y2="562.1" stroke="#00b200"/><line x1="621.08" y1="563.18" x2="623.86" y2="561.18" stroke="#b21b00"/><line x1="622.47" y1="563.93" x2="626.64" y2="563.24" stroke="#00b200"/><line x1="622.47" y1="563.93" x2="625.25" y2="562.25" stroke="#00b200"/><line x1="622.47" y1="560.11" x2="623.86" y2="564.19" stroke="#b21b00"/><line x1="623.86" y1="564.09" x2="625.25" y2="563.12" stroke="#00b200"/><line x1="623.86" y1="562.32" x2="626.64" y2="563.05" stroke="#b21b00"/><line x1="628.03" y1="562.8" x2="632.19" y2="560.96" stroke="#b21b00"/><line x1="629.42" y1="559.4" x2="634.97" y2="557.22" stroke="#b21b00"/><line x1="632.19" y1="559.68" x2="633.58" y2="559.47" stroke="#00b200"/><line x1="636.36" y1="555.66" x2="637.75" y2="554.44" stroke="#b21b00"/><line x1="640.53" y1="552.91" x2="641.92" y2="548.89" stroke="#b21b00"/><line x1="640.53" y1="553.15" x2="641.92" y2="550.53" stroke="#00b200"/><line x1="640.53" y1="551.87" x2="641.92" y2="551.97" stroke="#00b200"/><line x1="640.53" y1="551.52" x2="643.31" y2="549.6" stroke="#b21b00"/><line x1="643.31" y1="546.39" x2="646.09" y2="548.52" stroke="#b21b00"/><line x1="644.7" y1="548.87" x2="647.48" y2="549.23" stroke="#00b200"/><line x1="646.09" y1="549.33" x2="650.26" y2="546.8" stroke="#b21b00"/><line x1="646.09" y1="546.48" x2="647.48" y2="548.09" stroke="#b21b00"/><line x1="648.87" y1="548.36" x2="654.43" y2="545.13" stroke="#b21b00"/><line x1="651.65" y1="544.75" x2="654.43" y2="546.1" stroke="#00b200"/><line x1="651.65" y1="543.65" x2="657.21" y2="544.64" stroke="#b21b00"/><line x1="653.04" y1="545.59" x2="658.59" y2="548.35" stroke="#00b200"/><line x1="654.43" y1="544.26" x2="655.82" y2="543.27" stroke="#00b200"/><line x1="654.43" y1="544.02" x2="657.21" y2="543.5" stroke="#00b200"/><line x1="655.82" y1="543.03" x2="658.59" y2="544.4" stroke="#b21b00"/><line x1="655.82" y1="547.31" x2="657.21" y2="545.97" stroke="#00b200"/><line x1="657.21" y1="545.9" x2="658.59" y2="546.15" stroke="#b21b00"/><line x1="657.21" y1="544.94" x2="659.98" y2="547.31" stroke="#b21b00"/><line x1="657.21" y1="548.6" x2="659.98" y2="548.28" stroke="#00b200"/><line x1="658.59" y1="546.43" x2="659.98" y2="546.5" stroke="#b21b00"/><line x1="659.98" y1="548.11" x2="661.37" y2="549.48" stroke="#00b200"/><line x1="662.76" y1="550.47" x2="664.15" y2="550.75" stroke="#b21b00"/><line x1="664.15" y1="550.63" x2="665.54" y2="549.51" stroke="#00b200"/><line x1="664.15" y1="547.71" x2="665.54" y2="548.71" stroke="#b21b00"/><line x1="665.54" y1="549.26" x2="669.71" y2="552.73" stroke="#b21b00"/><line x1="665.54" y1="551.59" x2="668.32" y2="547.33" stroke="#b21b00"/><line x1="666.93" y1="548.86" x2="671.1" y2="549.07" stroke="#b21b00"/><line x1="668.32" y1="550.61" x2="669.71" y2="548.35" stroke="#b21b00"/><line x1="669.71" y1="546.94" x2="671.1" y2="547.55" stroke="#00b200"/><line x1="669.71" y1="548.66" x2="671.1" y2="548.4" stroke="#00b200"/><line x1="671.1" y1="545.91" x2="672.49" y2="549.05" stroke="#b21b00"/><line x1="671.1" y1="548.13" x2="672.49" y2="547.44" stroke="#b21b00"/><line x1="671.1" y1="547.16" x2="672.49" y2="547.08" stroke="#b21b00"/><line x1="673.88" y1="546.71" x2="678.05" y2="543.49" stroke="#00b200"/><line x1="673.88" y1="546.44" x2="675.27" y2="546.11" stroke="#b21b00"/><line x1="675.27" y1="543.35" x2="678.05" y2="545.03" stroke="#b21b00"/><line x1="679.44" y1="542.64" x2="682.22" y2="542.46" stroke="#b21b00"/><line x1="679.44" y1="542.2" x2="680.83" y2="542.94" stroke="#b21b00"/><line x1="680.83" y1="544.79" x2="682.22" y2="543.67" stroke="#b21b00"/><line x1="682.22" y1="542" x2="685" y2="541.55" stroke="#b21b00"/><line x1="682.22" y1="543.37" x2="686.38" y2="540.72" stroke="#b21b00"/><line x1="686.38" y1="539.66" x2="691.94" y2="533.21" stroke="#b21b00"/><line x1="687.77" y1="537.7" x2="689.16" y2="533.88" stroke="#00b200"/><line x1="689.16" y1="534.38" x2="690.55" y2="534.08" stroke="#00b200"/><line x1="690.55" y1="536.64" x2="691.94" y2="531.76" stroke="#b21b00"/><line x1="690.55" y1="533.38" x2="691.94" y2="534.09" stroke="#00b200"/><line x1="693.33" y1="533.45" x2="694.72" y2="531.64" stroke="#00b200"/><line x1="694.72" y1="529.78" x2="700.28" y2="524.77" stroke="#b21b00"/><line x1="697.5" y1="529.38" x2="698.89" y2="526.81" stroke="#00b200"/><line x1="700.28" y1="523.2" x2="703.06" y2="521.87" stroke="#b21b00"/><line x1="707.23" y1="520.69" x2="708.62" y2="519.68" stroke="#00b200"/><line x1="708.62" y1="519" x2="712.79" y2="515.76" stroke="#00b200"/><line x1="715.56" y1="519.86" x2="721.12" y2="519.33" stroke="#b21b00"/><line x1="716.95" y1="518.33" x2="718.34" y2="517.33" stroke="#b21b00"/><line x1="718.34" y1="516.03" x2="719.73" y2="516.61" stroke="#00b200"/><line x1="718.34" y1="516.84" x2="723.9" y2="521.44" stroke="#b21b00"/><line x1="718.34" y1="515.97" x2="719.73" y2="519.48" stroke="#00b200"/><line x1="721.12" y1="518.6" x2="723.9" y2="518.82" stroke="#00b200"/><line x1="723.9" y1="516.67" x2="725.29" y2="519.61" stroke="#b21b00"/><line x1="723.9" y1="516.71" x2="725.29" y2="517.93" stroke="#00b200"/><line x1="732.24" y1="517.91" x2="736.41" y2="512.11" stroke="#b21b00"/><line x1="732.24" y1="516.52" x2="736.41" y2="511.14" stroke="#00b200"/><line x1="735.02" y1="517.54" x2="736.41" y2="511.46" stroke="#00b200"/><line x1="735.02" y1="515.69" x2="739.19" y2="519.9" stroke="#00b200"/><line x1="735.02" y1="517.51" x2="736.41" y2="511.47" stroke="#b21b00"/><line x1="736.41" y1="516.15" x2="737.8" y2="508.03" stroke="#00b200"/><line x1="736.41" y1="512.75" x2="737.8" y2="518.96" stroke="#b21b00"/><line x1="736.41" y1="513.94" x2="739.19" y2="514.63" stroke="#b21b00"/><line x1="736.41" y1="511.77" x2="737.8" y2="515.22" stroke="#00b200"/><line x1="740.58" y1="517.47" x2="743.35" y2="522.53" stroke="#b21b00"/><line x1="741.96" y1="516.61" x2="746.13" y2="536.18" stroke="#b21b00"/><line x1="741.96" y1="518.17" x2="743.35" y2="525.86" stroke="#00b200"/><line x1="741.96" y1="519.24" x2="743.35" y2="521.87" stroke="#b21b00"/><line x1="747.52" y1="537.32" x2="753.08" y2="531.22" stroke="#00b200"/><line x1="748.91" y1="535.28" x2="750.3" y2="535.09" stroke="#b21b00"/><line x1="750.3" y1="540.23" x2="755.86" y2="537.18" stroke="#b21b00"/><line x1="754.47" y1="538.17" x2="760.03" y2="527.52" stroke="#b21b00"/><line x1="755.86" y1="529.92" x2="761.42" y2="547.74" stroke="#00b200"/><line x1="758.64" y1="540.62" x2="760.03" y2="546.56" stroke="#00b200"/><line x1="758.64" y1="533.14" x2="761.42" y2="549" stroke="#b21b00"/><line x1="758.64" y1="548.37" x2="760.03" y2="549.84" stroke="#00b200"/><line x1="758.64" y1="533.47" x2="760.03" y2="544.85" stroke="#b21b00"/><line x1="760.03" y1="551.52" x2="765.59" y2="553.99" stroke="#b21b00"/><line x1="761.42" y1="545.56" x2="762.81" y2="547.11" stroke="#b21b00"/><line x1="766.98" y1="556.46" x2="768.37" y2="553.04" stroke="#b21b00"/><line x1="769.75" y1="560.03" x2="771.14" y2="576.33" stroke="#00b200"/><line x1="769.75" y1="564.03" x2="772.53" y2="564.04" stroke="#b21b00"/><line x1="773.92" y1="546.77" x2="775.31" y2="567.51" stroke="#b21b00"/><line x1="789.21" y1="543.17" x2="791.99" y2="532.13" stroke="#b21b00"/><line x1="791.99" y1="536.99" x2="797.54" y2="538.95" stroke="#b21b00"/><line x1="791.99" y1="542.84" x2="793.38" y2="545.1" stroke="#00b200"/><line x1="793.38" y1="542.06" x2="796.16" y2="539.02" stroke="#b21b00"/><line x1="793.38" y1="530.3" x2="797.54" y2="540.57" stroke="#00b200"/><line x1="794.77" y1="531.2" x2="798.93" y2="530.94" stroke="#b21b00"/><line x1="796.16" y1="544.68" x2="797.54" y2="536.98" stroke="#00b200"/><line x1="796.16" y1="534.93" x2="797.54" y2="546.62" stroke="#b21b00"/><line x1="797.54" y1="541.07" x2="798.93" y2="546.07" stroke="#00b200"/><line x1="803.1" y1="538.02" x2="808.66" y2="543.3" stroke="#b21b00"/><line x1="805.88" y1="545.23" x2="807.27" y2="546.05" stroke="#00b200"/><line x1="808.66" y1="539.28" x2="814.22" y2="528.95" stroke="#b21b00"/><line x1="810.05" y1="533" x2="815.61" y2="524.31" stroke="#b21b00"/><line x1="810.05" y1="537.91" x2="811.44" y2="535.36" stroke="#b21b00"/><line x1="810.05" y1="535.92" x2="814.22" y2="530.55" stroke="#b21b00"/><line x1="811.44" y1="537.26" x2="814.22" y2="528.9" stroke="#00b200"/><line x1="812.83" y1="527.31" x2="818.39" y2="515.57" stroke="#b21b00"/><line x1="812.83" y1="536.07" x2="815.61" y2="523.2" stroke="#00b200"/><line x1="814.22" y1="525.09" x2="817" y2="518.51" stroke="#b21b00"/><line x1="814.22" y1="520.81" x2="817" y2="521.41" stroke="#b21b00"/><line x1="814.22" y1="526.79" x2="818.39" y2="522.91" stroke="#00b200"/><line x1="815.61" y1="529.27" x2="817" y2="521.78" stroke="#b21b00"/><line x1="818.39" y1="517.78" x2="822.56" y2="513.68" stroke="#00b200"/><line x1="819.78" y1="516.95" x2="821.17" y2="518.9" stroke="#00b200"/><line x1="823.95" y1="515.01" x2="829.5" y2="514.6" stroke="#00b200"/><line x1="825.33" y1="511.58" x2="829.5" y2="518.24" stroke="#00b200"/><line x1="826.72" y1="525.62" x2="828.11" y2="517.39" stroke="#00b200"/><line x1="828.11" y1="521.03" x2="829.5" y2="514.13" stroke="#b21b00"/><line x1="829.5" y1="509.59" x2="833.67" y2="512.55" stroke="#b21b00"/><line x1="829.5" y1="516.79" x2="830.89" y2="517.04" stroke="#b21b00"/><line x1="830.89" y1="520.36" x2="835.06" y2="514.15" stroke="#00b200"/><line x1="830.89" y1="509.65" x2="833.67" y2="518.85" stroke="#00b200"/><line x1="830.89" y1="516.07" x2="835.06" y2="514.38" stroke="#00b200"/><line x1="833.67" y1="516.22" x2="836.45" y2="518.07" stroke="#b21b00"/><line x1="833.67" y1="517.06" x2="837.84" y2="513.14" stroke="#b21b00"/><line x1="836.45" y1="516.85" x2="837.84" y2="511.31" stroke="#b21b00"/><line x1="836.45" y1="513.94" x2="842.01" y2="507.49" stroke="#00b200"/><line x1="839.23" y1="510.13" x2="842.01" y2="515.4" stroke="#b21b00"/><line x1="840.62" y1="511.58" x2="846.18" y2="504.69" stroke="#00b200"/><line x1="843.4" y1="510.37" x2="844.79" y2="508.86" stroke="#b21b00"/><line x1="843.4" y1="511.37" x2="844.79" y2="512.55" stroke="#b21b00"/><line x1="848.96" y1="500.07" x2="850.35" y2="502.26" stroke="#00b200"/><line x1="853.12" y1="494.76" x2="855.9" y2="498.37" stroke="#00b200"/><line x1="862.85" y1="490.44" x2="865.63" y2="489.19" stroke="#b21b00"/><line x1="862.85" y1="491.22" x2="865.63" y2="489.81" stroke="#b21b00"/><line x1="862.85" y1="490.11" x2="864.24" y2="485.36" stroke="#b21b00"/><line x1="864.24" y1="490.92" x2="869.8" y2="486.49" stroke="#b21b00"/><line x1="864.24" y1="494.44" x2="867.02" y2="489.46" stroke="#b21b00"/><line x1="867.02" y1="494" x2="868.41" y2="491.47" stroke="#00b200"/><line x1="867.02" y1="491.67" x2="868.41" y2="491.32" stroke="#00b200"/><line x1="867.02" y1="485.51" x2="868.41" y2="489.32" stroke="#00b200"/><line x1="872.58" y1="489.42" x2="875.36" y2="477.89" stroke="#00b200"/><line x1="872.58" y1="482.27" x2="878.14" y2="477.72" stroke="#00b200"/><line x1="875.36" y1="485.35" x2="878.14" y2="482.59" stroke="#00b200"/><line x1="876.75" y1="476.61" x2="878.14" y2="474.7" stroke="#b21b00"/><line x1="876.75" y1="479.17" x2="878.14" y2="475.97" stroke="#00b200"/><line x1="876.75" y1="475.26" x2="880.91" y2="475.77" stroke="#b21b00"/><line x1="876.75" y1="477.04" x2="878.14" y2="473.25" stroke="#b21b00"/><line x1="878.14" y1="482.65" x2="879.53" y2="476.93" stroke="#00b200"/><line x1="878.14" y1="473.56" x2="883.69" y2="475.13" stroke="#b21b00"/><line x1="879.53" y1="481.86" x2="882.3" y2="477.07" stroke="#b21b00"/><line x1="879.53" y1="477.7" x2="885.08" y2="474.59" stroke="#00b200"/><line x1="879.53" y1="479.25" x2="880.91" y2="475.87" stroke="#b21b00"/><line x1="880.91" y1="469.16" x2="886.47" y2="474.92" stroke="#00b200"/><line x1="885.08" y1="473.78" x2="887.86" y2="478.63" stroke="#b21b00"/><line x1="885.08" y1="476.42" x2="886.47" y2="474.38" stroke="#b21b00"/><line x1="885.08" y1="471.53" x2="886.47" y2="478.44" stroke="#b21b00"/><line x1="885.08" y1="472.55" x2="890.64" y2="484.86" stroke="#b21b00"/><line x1="885.08" y1="478.8" x2="890.64" y2="483.96" stroke="#00b200"/><line x1="886.47" y1="476.58" x2="887.86" y2="478.33" stroke="#00b200"/><line x1="890.64" y1="484.41" x2="896.2" y2="479.93" stroke="#00b200"/><line x1="892.03" y1="486" x2="894.81" y2="483.42" stroke="#b21b00"/><line x1="892.03" y1="481.28" x2="894.81" y2="487.97" stroke="#00b200"/><line x1="894.81" y1="490.9" x2="900.37" y2="455.68" stroke="#00b200"/><line x1="894.81" y1="485.95" x2="897.59" y2="471.52" stroke="#b21b00"/><line x1="901.76" y1="448.88" x2="904.54" y2="447.49" stroke="#00b200"/><line x1="905.93" y1="441.76" x2="907.32" y2="445.79" stroke="#00b200"/><line x1="905.93" y1="446.85" x2="907.32" y2="444.94" stroke="#00b200"/><line x1="911.48" y1="443.97" x2="912.87" y2="438.68" stroke="#b21b00"/><line x1="912.87" y1="438.77" x2="914.26" y2="431.97" stroke="#00b200"/><line x1="914.26" y1="433.01" x2="917.04" y2="430.85" stroke="#00b200"/><line x1="915.65" y1="435.2" x2="917.04" y2="428.21" stroke="#b21b00"/><line x1="917.04" y1="423.3" x2="921.21" y2="418.63" stroke="#b21b00"/><line x1="917.04" y1="430.97" x2="919.82" y2="418.87" stroke="#00b200"/><line x1="918.43" y1="419.65" x2="919.82" y2="419.05" stroke="#b21b00"/><line x1="918.43" y1="428.34" x2="921.21" y2="418.85" stroke="#b21b00"/><line x1="918.43" y1="421.9" x2="921.21" y2="414.43" stroke="#00b200"/><line x1="918.43" y1="427.02" x2="919.82" y2="427.81" stroke="#00b200"/><line x1="919.82" y1="424.4" x2="923.99" y2="409.6" stroke="#b21b00"/><line x1="921.21" y1="419.4" x2="923.99" y2="412.89" stroke="#00b200"/><line x1="921.21" y1="422.19" x2="922.6" y2="419.74" stroke="#b21b00"/><line x1="925.38" y1="409.95" x2="928.16" y2="400.49" stroke="#b21b00"/><line x1="925.38" y1="404.67" x2="928.16" y2="400.9" stroke="#00b200"/><line x1="926.77" y1="409.83" x2="928.16" y2="402.63" stroke="#00b200"/><line x1="935.11" y1="413.62" x2="936.5" y2="414.95" stroke="#00b200"/><line x1="936.5" y1="411.8" x2="940.66" y2="434.19" stroke="#b21b00"/><line x1="937.88" y1="441.32" x2="940.66" y2="419.14" stroke="#b21b00"/><line x1="940.66" y1="449.69" x2="946.22" y2="444.3" stroke="#b21b00"/><line x1="940.66" y1="456.51" x2="943.44" y2="452.21" stroke="#00b200"/><line x1="940.66" y1="430.62" x2="943.44" y2="445.17" stroke="#00b200"/><line x1="943.44" y1="434.01" x2="944.83" y2="456.98" stroke="#00b200"/><line x1="943.44" y1="445.97" x2="944.83" y2="439.84" stroke="#b21b00"/><line x1="943.44" y1="444.3" x2="944.83" y2="445.73" stroke="#b21b00"/><line x1="944.83" y1="448.85" x2="947.61" y2="444.49" stroke="#b21b00"/><line x1="946.22" y1="451.49" x2="951.78" y2="448.02" stroke="#00b200"/><line x1="947.61" y1="449.34" x2="949" y2="460.16" stroke="#00b200"/><line x1="947.61" y1="449.64" x2="949" y2="450.42" stroke="#00b200"/><line x1="949" y1="450.61" x2="951.78" y2="454.07" stroke="#b21b00"/><line x1="950.39" y1="442.31" x2="953.17" y2="442.14" stroke="#b21b00"/><line x1="951.78" y1="444.27" x2="953.17" y2="433.73" stroke="#b21b00"/><line x1="951.78" y1="451.21" x2="957.34" y2="427.25" stroke="#00b200"/><line x1="953.17" y1="457.53" x2="955.95" y2="441.55" stroke="#00b200"/><line x1="954.56" y1="440.43" x2="957.34" y2="435.15" stroke="#b21b00"/><line x1="957.34" y1="439.44" x2="961.51" y2="443.66" stroke="#00b200"/><line x1="960.12" y1="441.75" x2="961.51" y2="438.9" stroke="#00b200"/><line x1="961.51" y1="431.8" x2="964.28" y2="445.21" stroke="#b21b00"/><line x1="965.67" y1="438.3" x2="967.06" y2="427.82" stroke="#b21b00"/><line x1="965.67" y1="432.02" x2="967.06" y2="434.79" stroke="#00b200"/><line x1="968.45" y1="422.4" x2="969.84" y2="425.09" stroke="#b21b00"/><line x1="968.45" y1="428.8" x2="971.23" y2="420.04" stroke="#b21b00"/><line x1="968.45" y1="417.8" x2="969.84" y2="423.81" stroke="#00b200"/><line x1="972.62" y1="421.04" x2="974.01" y2="434.92" stroke="#00b200"/><line x1="972.62" y1="420.84" x2="975.4" y2="430.47" stroke="#00b200"/><line x1="974.01" y1="414.3" x2="975.4" y2="433.34" stroke="#b21b00"/><line x1="976.79" y1="426.11" x2="982.35" y2="425.8" stroke="#b21b00"/><line x1="976.79" y1="428.56" x2="982.35" y2="428.28" stroke="#00b200"/><line x1="978.18" y1="431.68" x2="980.96" y2="434.63" stroke="#00b200"/><line x1="982.35" y1="431.59" x2="983.74" y2="425.38" stroke="#00b200"/><line x1="983.74" y1="436.21" x2="986.52" y2="439.32" stroke="#b21b00"/><line x1="986.52" y1="437.81" x2="987.91" y2="443.39" stroke="#00b200"/><line x1="987.91" y1="440.95" x2="992.07" y2="442.56" stroke="#b21b00"/><line x1="990.69" y1="455.24" x2="994.85" y2="430.05" stroke="#b21b00"/><line x1="990.69" y1="442.88" x2="994.85" y2="426.96" stroke="#00b200"/><line x1="993.46" y1="443.05" x2="996.24" y2="424.31" stroke="#b21b00"/><line x1="994.85" y1="438.68" x2="996.24" y2="426.56" stroke="#00b200"/><line x1="994.85" y1="438.99" x2="996.24" y2="435.05" stroke="#00b200"/><line x1="994.85" y1="432.72" x2="996.24" y2="435.87" stroke="#b21b00"/><line x1="994.85" y1="434.63" x2="996.24" y2="444.57" stroke="#b21b00"/><line x1="996.24" y1="432.29" x2="999.02" y2="432.79" stroke="#b21b00"/><line x1="996.24" y1="416.59" x2="997.63" y2="424.18" stroke="#b21b00"/><line x1="996.24" y1="425.68" x2="997.63" y2="424.11" stroke="#b21b00"/><line x1="996.24" y1="438.87" x2="997.63" y2="417.52" stroke="#b21b00"/><line x1="1001.8" y1="435.96" x2="1005.97" y2="431.75" stroke="#b21b00"/><line x1="1003.19" y1="438.61" x2="1005.97" y2="424.32" stroke="#00b200"/><line x1="1004.58" y1="423.48" x2="1010.14" y2="437.31" stroke="#b21b00"/><line x1="1005.97" y1="434.41" x2="1007.36" y2="435.35" stroke="#b21b00"/><line x1="1010.14" y1="441.47" x2="1011.53" y2="434.43" stroke="#b21b00"/><line x1="1010.14" y1="430.27" x2="1014.31" y2="438.84" stroke="#b21b00"/><line x1="1010.14" y1="425.19" x2="1014.31" y2="426.06" stroke="#b21b00"/><line x1="1015.7" y1="426.59" x2="1021.25" y2="411.49" stroke="#00b200"/><line x1="1018.48" y1="413.08" x2="1022.64" y2="416" stroke="#00b200"/><line x1="1019.86" y1="411.89" x2="1025.42" y2="408" stroke="#b21b00"/><line x1="1021.25" y1="409.63" x2="1024.03" y2="398.79" stroke="#b21b00"/><line x1="1022.64" y1="409.96" x2="1024.03" y2="412.53" stroke="#00b200"/><line x1="1025.42" y1="405.25" x2="1028.2" y2="416.12" stroke="#b21b00"/><line x1="930.5" y1="385" x2="931.9" y2="418" stroke="#00b200"/><line x1="933.3" y1="383" x2="934.7" y2="405" stroke="#b21b00"/><line x1="936" y1="395" x2="937.4" y2="430" stroke="#00b200"/><line x1="938.8" y1="410" x2="940.2" y2="440" stroke="#00b200"/><line x1="941.6" y1="420" x2="943" y2="455" stroke="#b21b00"/><line x1="899" y1="440" x2="900.4" y2="480" stroke="#b21b00"/><line x1="901.8" y1="445" x2="903.2" y2="475" stroke="#b21b00"/><line x1="918" y1="400" x2="919.4" y2="425" stroke="#b21b00"/><line x1="922" y1="405" x2="923.4" y2="430" stroke="#00b200"/><line x1="948" y1="440" x2="949.4" y2="470" stroke="#00b200"/><line x1="951" y1="445" x2="952.4" y2="465" stroke="#b21b00"/><line x1="972" y1="410" x2="973.4" y2="440" stroke="#00b200"/><line x1="1003" y1="418" x2="1004.4" y2="445" stroke="#b21b00"/></g><polyline points="88.9,604.3 90.29,603.85 91.68,603.3 93.07,602.8 94.46,602.28 95.85,601.74 97.24,601.17 98.63,600.59 100.02,600.41 101.41,601.11 102.8,602.39 104.18,603.72 105.57,604.98 106.96,606.14 108.35,607.03 109.74,607.54 111.13,607.65" fill="none" stroke="#000" stroke-width="2.4" stroke-linejoin="round"/><polyline points="109.74,603.44 111.13,603.55 112.52,602.84 113.91,601.1 115.3,598.76 116.69,596.13 118.08,593.59 119.47,591.44 120.86,589.87 122.25,589.09 123.64,588.78 125.03,588.64 126.42,588.78 127.81,589.06 129.2,589.32 130.59,589.54 131.97,589.7 133.36,589.84 134.75,589.92 136.14,589.87 137.53,589.75 138.92,589.59 140.31,589.35 141.7,588.99 143.09,588.57 144.48,588.13 145.87,587.64 147.26,587.1 148.65,586.55 150.04,586.23 151.43,586.36 152.82,586.71 154.21,587.09 155.6,587.53 156.99,588 158.38,588.46 159.76,588.94 161.15,589.47 162.54,590.02 163.93,590.55 165.32,590.95 166.71,591.17 168.1,591.31 169.49,591.38 170.88,591.29 172.27,591.05 173.66,590.77 175.05,590.45 176.44,590.07 177.83,589.65 179.22,589.25 180.61,588.9 182,588.6 183.39,588.32 184.78,588.07 186.17,587.89 187.55,587.76 188.94,587.67 190.33,587.61 191.72,587.55 193.11,587.47 194.5,587.35 195.89,587.21 197.28,587.05 198.67,586.81 200.06,586.49 201.45,585.82 202.84,584.33 204.23,582.1 205.62,579.94 207.01,578.43 208.4,577.51 209.79,576.98 211.18,576.73 212.57,576.51 213.95,576.19 215.34,575.8 216.73,575.38 218.12,574.96 219.51,574.55 220.9,574.13 222.29,573.71 223.68,573.3 225.07,572.88 226.46,572.46 227.85,571.98 229.24,571.37 230.63,570.68 232.02,569.87 233.41,568.83 234.8,567.87 236.19,567.34 237.58,567.2 238.97,567.42 240.36,567.88 241.75,568.4 243.13,568.93 244.52,569.45 245.91,569.93 247.3,570.32 248.69,570.67 250.08,570.92 251.47,571 252.86,570.98 254.25,570.8 255.64,570.38 257.03,569.84 258.42,569.18 259.81,568.37 261.2,567.54 262.59,566.83 263.98,566.26 265.37,565.94 266.76,566.2 268.15,566.98 269.53,567.9 270.92,568.77 272.31,569.47 273.7,569.93 275.09,570.24 276.48,570.44 277.87,570.5 279.26,570.5 280.65,570.5 282.04,570.5 283.43,570.52 284.82,570.57 286.21,570.67 287.6,570.92 288.99,571.53 290.38,572.4 291.77,573.36 293.16,574.37 294.55,575.41 295.94,576.49 297.32,577.66 298.71,578.87 300.1,580.07 301.49,581.24 302.88,582.51 304.27,583.99 305.66,585.61 307.05,587.23 308.44,588.85 309.83,590.47 311.22,592.06 312.61,593.58 314,594.95 315.39,596.07 316.78,596.83 318.17,596.95 319.56,596.2 320.95,595.21 322.34,594.56 323.73,594.42 325.12,595.01 326.5,596.05 327.89,597.08 329.28,597.99 330.67,598.81 332.06,599.53 333.45,600.25 334.84,601.04 336.23,601.89 337.62,602.83 339.01,603.91 340.4,605.1 341.79,606.27 343.18,607.36 344.57,608.11 345.96,608.17 347.35,607.7 348.74,607.42 350.13,607.82 351.52,608.68 352.9,609.6 354.29,610.33 355.68,610.45 357.07,609.99 358.46,609.44 359.85,609.04 361.24,608.69 362.63,608.34 364.02,607.99 365.41,607.65 366.8,607.3 368.19,606.95 369.58,606.61 370.97,606.26 372.36,605.91 373.75,605.26 375.14,603.92 376.53,602.13 377.92,600.28 379.31,598.54 380.7,597.15 382.08,596.2 383.47,595.74 384.86,595.73 386.25,595.92 387.64,596.14 389.03,596.41 390.42,596.68 391.81,596.94 393.2,597.15 394.59,597.32 395.98,597.45 397.37,597.5 398.76,597.5 400.15,597.5 401.54,597.5 402.93,597.5 404.32,597.48 405.71,597.41 407.1,597.29 408.49,597.15 409.87,596.97 411.26,596.68 412.65,596.32 414.04,595.58 415.43,594.09 416.82,592.19 418.21,590.18 419.6,588.26 420.99,586.74 422.38,585.99 423.77,586.59 425.16,587.76 426.55,588.18 427.94,588.09 429.33,588.02 430.72,588 432.11,587.92 433.5,587.55 434.89,586.82 436.27,585.97 437.66,585.19 439.05,584.47 440.44,583.83 441.83,583.33 443.22,582.94 444.61,582.57 446,582.11 447.39,581.6 448.78,581.08 450.17,580.56 451.56,580.04 452.95,579.56 454.34,579.17 455.73,578.83 457.12,578.58 458.51,578.5 459.9,578.48 461.29,578.36 462.68,578.08 464.06,577.74 465.45,577.44 466.84,577.24 468.23,577.4 469.62,578.08 471.01,579.07 472.4,580.17 473.79,581.42 475.18,582.9 476.57,584.34 477.96,585.41 479.35,586.17 480.74,586.94 482.13,587.86 483.52,588.89 484.91,589.93 486.3,590.97 487.69,592.01 489.08,593.01 490.47,593.92 491.86,594.74 493.24,595.23 494.63,595.22 496.02,594.57 497.41,593.12 498.8,591.16 500.19,589 501.58,587.02 502.97,585.82 504.36,585.23 505.75,584.83 507.14,584.47 508.53,584.12 509.92,583.77 511.31,583.42 512.7,583.08 514.09,582.73 515.48,582.38 516.87,582.03 518.26,581.69 519.64,581.34 521.03,580.99 522.42,580.64 523.81,580.3 525.2,580.01 526.59,579.8 527.98,579.63 529.37,579.45 530.76,579.28 532.15,579.11 533.54,578.93 534.93,578.76 536.32,578.59 537.71,578.41 539.1,578.24 540.49,578.01 541.88,577.64 543.27,577.15 544.66,576.66 546.05,576.25 547.43,575.89 548.82,575.62 550.21,575.51 551.6,575.71 552.99,576.41 554.38,577.61 555.77,579.26 557.16,581.08 558.55,582.44 559.94,583.08 561.33,583.11 562.72,582.64 564.11,581.89 565.5,581.06 566.89,580.18 568.28,579.19 569.67,578.04 571.06,576.94 572.45,576.32 573.84,576.34 575.23,576.88 576.61,577.84 578,578.54 579.39,578.3 580.78,577.68 582.17,577.22 583.56,576.86 584.95,576.39 586.34,575.66 587.73,574.79 589.12,573.92 590.51,573.06 591.9,572.22 593.29,571.53 594.68,571.08 596.07,570.76 597.46,570.56 598.85,570.5 600.24,570.52 601.63,570.6 603.01,570.75 604.4,570.88 605.79,570.86 607.18,570.73 608.57,570.49 609.96,570.11 611.35,569.62 612.74,569.03 614.13,568.28 615.52,567.42 616.91,566.56 618.3,565.69 619.69,564.82 621.08,564 622.47,563.27 623.86,562.58 625.25,561.94 626.64,561.39 628.03,560.87 629.42,560.34 630.8,559.82 632.19,559.28 633.58,558.68 634.97,558.01 636.36,557.29 637.75,556.51 639.14,555.66 640.53,554.68 641.92,553.41 643.31,551.9 644.7,550.37 646.09,548.92 647.48,547.52 648.87,546.33 650.26,545.55 651.65,545.01 653.04,544.53 654.43,544.14 655.82,543.8 657.21,543.51 658.59,543.3 659.98,543.19 661.37,543.35 662.76,543.88 664.15,544.56 665.54,545.18 666.93,545.72 668.32,546.2 669.71,546.55 671.1,546.76 672.49,546.83 673.88,546.61 675.27,546.15 676.66,545.6 678.05,544.97 679.44,544.28 680.83,543.55 682.22,542.73 683.61,541.87 685,540.96 686.38,539.96 687.77,538.91 689.16,537.82 690.55,536.64 691.94,535.42 693.33,534.21 694.72,532.99 696.11,531.75 697.5,530.38 698.89,528.87 700.28,527.32 701.67,525.81 703.06,524.37 704.45,522.97 705.84,521.65 707.23,520.38 708.62,519.2 710.01,518.16 711.4,517.24 712.79,516.37 714.17,515.59 715.56,514.85 716.95,514.25 718.34,513.91 719.73,513.71 721.12,513.66 722.51,513.85 723.9,514.17 725.29,514.48 726.68,514.8 728.07,515.07 729.46,515.17 730.85,514.97 732.24,514.55 733.63,513.88 735.02,512.94 736.41,511.95 737.8,511.1 739.19,510.38 740.58,509.36 741.96,509.6 743.35,510.35 744.74,511.38 746.13,512.78 747.52,515.15 748.91,519.1 750.3,523.64 751.69,526.9 753.08,528.93 754.47,529.45 755.86,528.71 757.25,527.77 758.64,526.14 760.03,525.43 761.42,526.65 762.81,528.28 764.2,529.9 765.59,531.44 766.98,533.59 768.37,536.07 769.75,538.87 771.14,541.96 772.53,545.03 773.92,547.92 775.31,550.46 776.7,552.04 778.09,551.94 779.48,550.9 780.87,549.63 782.26,548.37 783.65,547.51 785.04,547.48 786.43,547.78 787.82,547.58 789.21,546.41 790.6,544.44 791.99,541.95 793.38,539.8 794.77,537.83 796.16,535.48 797.54,533.36 798.93,532.01 800.32,531.4 801.71,531.43 803.1,531.98 804.49,532.79 805.88,533.77 807.27,534.69 808.66,535.39 810.05,535.61 811.44,535.21 812.83,534.41 814.22,533.38 815.61,531.98 817,529.59 818.39,525.59 819.78,521.44 821.17,518.24 822.56,516.27 823.95,514.88 825.33,514.42 826.72,514.46 828.11,514.42 829.5,514.21 830.89,513.9 832.28,513.43 833.67,512.73 835.06,511.95 836.45,511.29 837.84,510.77 839.23,510.27 840.62,509.65 842.01,508.89 843.4,508.03 844.79,507.04 846.18,505.92 847.57,504.58 848.96,502.77 850.35,500.65 851.74,498.57 853.12,496.77 854.51,495.43 855.9,494.55 857.29,493.83 858.68,493.05 860.07,492.2 861.46,491.26 862.85,490.1 864.24,488.76 865.63,487.5 867.02,486.54 868.41,485.8 869.8,485.29 871.19,485.18 872.58,485.32 873.97,484.99 875.36,483.62 876.75,481.72 878.14,479.81 879.53,477.9 880.91,476.06 882.3,474.49 883.69,473.31 885.08,472.36 886.47,471.64 887.86,471.21 889.25,471.09 890.64,471.61 892.03,472.86 893.42,474.65 894.81,476.8 896.2,478.77 897.59,480.21 898.98,479.91 900.37,476.25 901.76,469.97 903.15,462.46 904.54,455.04 905.93,449.68 907.32,446.69 908.7,444.97 910.09,443.54 911.48,442.12 912.87,440.63 914.26,438.86 915.65,436.75 917.04,434.49 918.43,432.24 919.82,429.87 921.21,427.01 922.6,423.51 923.99,419.78 925.38,415.99 926.77,411.88 928.16,407.93 929.55,404.36 930.94,401.31 932.33,398.48 933.72,396.93 935.11,396.98 936.5,399.43 937.88,402.56 939.27,406.59 940.66,411.87 942.05,417.21 943.44,420.85 944.83,423.02 946.22,424.78 947.61,426.59 949,428.53 950.39,430.54 951.78,432.58 953.17,434.61 954.56,435.67 955.95,434.88 957.34,432.77 958.73,430.45 960.12,428.14 961.51,426.2 962.9,425.66 964.28,426.14 965.67,426.84 967.06,427.4 968.45,426.92 969.84,424.73 971.23,422.27 972.62,419.81 974.01,417.34 975.4,414.88 976.79,413.27 978.18,413.89 979.57,415.39 980.96,416.88 982.35,418.38 983.74,419.89 985.13,421.54 986.52,423.45 987.91,425.48 989.3,427.5 990.69,429.53 992.07,431.55 993.46,432.98 994.85,432.79 996.24,431.05 997.63,428.81 999.02,426.57 1000.41,424.48 1001.8,422.84 1003.19,421.59 1004.58,420.46 1005.97,419.33 1007.36,418.7 1008.75,419.21 1010.14,420.43 1011.53,421.76 1012.92,423.09 1014.31,424.42 1015.7,425.67 1017.09,425.59 1018.48,422.75 1019.86,418.75 1021.25,414.76 1022.64,410.77 1024.03,407.51 1025.42,405.63 1026.81,404.44 1028.2,403.25 1029.59,402.32" fill="none" stroke="#1f77b4" stroke-width="1.8" stroke-linejoin="round"/><polyline points="109.74,608.44 111.13,608.55 112.52,607.84 113.91,606.1 115.3,603.76 116.69,601.13 118.08,598.59 119.47,596.44 120.86,594.87 122.25,594.09 123.64,593.78 125.03,593.64 126.42,593.78 127.81,594.06 129.2,594.32 130.59,594.54 131.97,594.7 133.36,594.84 134.75,594.92 136.14,594.87 137.53,594.75 138.92,594.59 140.31,594.35 141.7,593.99 143.09,593.57 144.48,593.13 145.87,592.64 147.26,592.1 148.65,591.55 150.04,591.23 151.43,591.36 152.82,591.71 154.21,592.09 155.6,592.53 156.99,593 158.38,593.46 159.76,593.94 161.15,594.47 162.54,595.02 163.93,595.55 165.32,595.95 166.71,596.17 168.1,596.31 169.49,596.38 170.88,596.29 172.27,596.05 173.66,595.77 175.05,595.45 176.44,595.07 177.83,594.65 179.22,594.25 180.61,593.9 182,593.6 183.39,593.32 184.78,593.07 186.17,592.89 187.55,592.76 188.94,592.67 190.33,592.61 191.72,592.55 193.11,592.47 194.5,592.35 195.89,592.21 197.28,592.05 198.67,591.81 200.06,591.49 201.45,590.82 202.84,589.33 204.23,587.1 205.62,584.94 207.01,583.43 208.4,582.51 209.79,581.98 211.18,581.73 212.57,581.51 213.95,581.19 215.34,580.8 216.73,580.38 218.12,579.96 219.51,579.55 220.9,579.13 222.29,578.71 223.68,578.3 225.07,577.88 226.46,577.46 227.85,576.98 229.24,576.37 230.63,575.68 232.02,574.87 233.41,573.83 234.8,572.87 236.19,572.34 237.58,572.2 238.97,572.42 240.36,572.88 241.75,573.4 243.13,573.93 244.52,574.45 245.91,574.93 247.3,575.32 248.69,575.67 250.08,575.92 251.47,576 252.86,575.98 254.25,575.8 255.64,575.38 257.03,574.84 258.42,574.18 259.81,573.37 261.2,572.54 262.59,571.83 263.98,571.26 265.37,570.94 266.76,571.2 268.15,571.98 269.53,572.9 270.92,573.77 272.31,574.47 273.7,574.93 275.09,575.24 276.48,575.44 277.87,575.5 279.26,575.5 280.65,575.5 282.04,575.5 283.43,575.52 284.82,575.57 286.21,575.67 287.6,575.92 288.99,576.53 290.38,577.4 291.77,578.36 293.16,579.37 294.55,580.41 295.94,581.49 297.32,582.66 298.71,583.87 300.1,585.07 301.49,586.24 302.88,587.51 304.27,588.99 305.66,590.61 307.05,592.23 308.44,593.85 309.83,595.47 311.22,597.06 312.61,598.58 314,599.95 315.39,601.07 316.78,601.83 318.17,601.95 319.56,601.2 320.95,600.21 322.34,599.56 323.73,599.42 325.12,600.01 326.5,601.05 327.89,602.08 329.28,602.99 330.67,603.81 332.06,604.53 333.45,605.25 334.84,606.04 336.23,606.89 337.62,607.83 339.01,608.91 340.4,610.1 341.79,611.27 343.18,612.36 344.57,613.11 345.96,613.17 347.35,612.7 348.74,612.42 350.13,612.82 351.52,613.68 352.9,614.6 354.29,615.33 355.68,615.45 357.07,614.99 358.46,614.44 359.85,614.04 361.24,613.69 362.63,613.34 364.02,612.99 365.41,612.65 366.8,612.3 368.19,611.95 369.58,611.61 370.97,611.26 372.36,610.91 373.75,610.26 375.14,608.92 376.53,607.13 377.92,605.28 379.31,603.54 380.7,602.15 382.08,601.2 383.47,600.74 384.86,600.73 386.25,600.92 387.64,601.14 389.03,601.41 390.42,601.68 391.81,601.94 393.2,602.15 394.59,602.32 395.98,602.45 397.37,602.5 398.76,602.5 400.15,602.5 401.54,602.5 402.93,602.5 404.32,602.48 405.71,602.41 407.1,602.29 408.49,602.15 409.87,601.97 411.26,601.68 412.65,601.32 414.04,600.58 415.43,599.09 416.82,597.19 418.21,595.18 419.6,593.26 420.99,591.74 422.38,590.99 423.77,591.59 425.16,592.76 426.55,593.18 427.94,593.09 429.33,593.02 430.72,593 432.11,592.92 433.5,592.55 434.89,591.82 436.27,590.97 437.66,590.19 439.05,589.47 440.44,588.83 441.83,588.33 443.22,587.94 444.61,587.57 446,587.11 447.39,586.6 448.78,586.08 450.17,585.56 451.56,585.04 452.95,584.56 454.34,584.17 455.73,583.83 457.12,583.58 458.51,583.5 459.9,583.48 461.29,583.36 462.68,583.08 464.06,582.74 465.45,582.44 466.84,582.24 468.23,582.4 469.62,583.08 471.01,584.07 472.4,585.17 473.79,586.42 475.18,587.9 476.57,589.34 477.96,590.41 479.35,591.17 480.74,591.94 482.13,592.86 483.52,593.89 484.91,594.93 486.3,595.97 487.69,597.01 489.08,598.01 490.47,598.92 491.86,599.74 493.24,600.23 494.63,600.22 496.02,599.57 497.41,598.12 498.8,596.16 500.19,594 501.58,592.02 502.97,590.82 504.36,590.23 505.75,589.83 507.14,589.47 508.53,589.12 509.92,588.77 511.31,588.42 512.7,588.08 514.09,587.73 515.48,587.38 516.87,587.03 518.26,586.69 519.64,586.34 521.03,585.99 522.42,585.64 523.81,585.3 525.2,585.01 526.59,584.8 527.98,584.63 529.37,584.45 530.76,584.28 532.15,584.11 533.54,583.93 534.93,583.76 536.32,583.59 537.71,583.41 539.1,583.24 540.49,583.01 541.88,582.64 543.27,582.15 544.66,581.66 546.05,581.25 547.43,580.89 548.82,580.62 550.21,580.51 551.6,580.71 552.99,581.41 554.38,582.61 555.77,584.26 557.16,586.08 558.55,587.44 559.94,588.08 561.33,588.11 562.72,587.64 564.11,586.89 565.5,586.06 566.89,585.18 568.28,584.19 569.67,583.04 571.06,581.94 572.45,581.32 573.84,581.34 575.23,581.88 576.61,582.84 578,583.54 579.39,583.3 580.78,582.68 582.17,582.22 583.56,581.86 584.95,581.39 586.34,580.66 587.73,579.79 589.12,578.92 590.51,578.06 591.9,577.22 593.29,576.53 594.68,576.08 596.07,575.76 597.46,575.56 598.85,575.5 600.24,575.52 601.63,575.6 603.01,575.75 604.4,575.88 605.79,575.86 607.18,575.73 608.57,575.49 609.96,575.11 611.35,574.62 612.74,574.03 614.13,573.28 615.52,572.42 616.91,571.56 618.3,570.69 619.69,569.82 621.08,569 622.47,568.27 623.86,567.58 625.25,566.94 626.64,566.39 628.03,565.87 629.42,565.34 630.8,564.82 632.19,564.28 633.58,563.68 634.97,563.01 636.36,562.29 637.75,561.51 639.14,560.66 640.53,559.68 641.92,558.41 643.31,556.9 644.7,555.37 646.09,553.92 647.48,552.52 648.87,551.33 650.26,550.55 651.65,550.01 653.04,549.53 654.43,549.14 655.82,548.8 657.21,548.51 658.59,548.3 659.98,548.19 661.37,548.35 662.76,548.88 664.15,549.56 665.54,550.18 666.93,550.72 668.32,551.2 669.71,551.55 671.1,551.76 672.49,551.83 673.88,551.61 675.27,551.15 676.66,550.6 678.05,549.97 679.44,549.28 680.83,548.55 682.22,547.73 683.61,546.87 685,545.96 686.38,544.96 687.77,543.91 689.16,542.82 690.55,541.64 691.94,540.42 693.33,539.21 694.72,537.99 696.11,536.75 697.5,535.38 698.89,533.87 700.28,532.34 701.67,530.89 703.06,529.51 704.45,528.18 705.84,526.92 707.23,525.72 708.62,524.6 710.01,523.63 711.4,522.77 712.79,521.97 714.17,521.25 715.56,520.58 716.95,520.04 718.34,519.76 719.73,519.63 721.12,519.64 722.51,519.9 723.9,520.28 725.29,520.66 726.68,521.04 728.07,521.38 729.46,521.54 730.85,521.57 732.24,521.49 733.63,521.15 735.02,520.54 736.41,519.89 737.8,519.37 739.19,518.98 740.58,515.99 741.96,516.54 743.35,517.6 744.74,518.95 746.13,521.68 747.52,525.61 748.91,530.79 750.3,536.36 751.69,540.67 753.08,542.6 754.47,542.71 755.86,541.55 757.25,540.72 758.64,541.65 760.03,543.44 761.42,545.36 762.81,547.68 764.2,550 765.59,552.23 766.98,554.75 768.37,557.46 769.75,560.49 771.14,563.82 772.53,566.93 773.92,569.54 775.31,571.8 776.7,573.1 778.09,572.49 779.48,570.87 780.87,569.02 782.26,567.17 783.65,566.06 785.04,566.15 786.43,566.56 787.82,566.48 789.21,565.39 790.6,563.31 791.99,560.7 793.38,558.44 794.77,556.35 796.16,553.11 797.54,549.95 798.93,547.56 800.32,545.91 801.71,545.23 803.1,545.39 804.49,545.82 805.88,546.42 807.27,546.95 808.66,547.26 810.05,547.1 811.44,546.49 812.83,545.49 814.22,544.25 815.61,542.64 817,540.04 818.39,535.83 819.78,531.47 821.17,530.81 822.56,528.71 823.95,527.19 825.33,526.61 826.72,526.53 828.11,526.36 829.5,526.04 830.89,525.6 832.28,525.01 833.67,524.18 835.06,523.28 836.45,522.49 837.84,521.85 839.23,521.23 840.62,520.48 842.01,519.6 843.4,518.62 844.79,517.5 846.18,516.26 847.57,514.8 848.96,512.87 850.35,510.65 851.74,508.57 853.12,506.77 854.51,505.43 855.9,504.55 857.29,503.83 858.68,503.05 860.07,502.2 861.46,501.26 862.85,500.1 864.24,498.76 865.63,497.5 867.02,496.54 868.41,495.8 869.8,495.29 871.19,495.18 872.58,495.32 873.97,494.99 875.36,493.62 876.75,491.72 878.14,489.81 879.53,487.9 880.91,486.02 882.3,484.39 883.69,483.15 885.08,482.14 886.47,481.36 887.86,480.86 889.25,480.69 890.64,481.14 892.03,482.34 893.42,484.07 894.81,486.15 896.2,488.07 897.59,489.44 898.98,489.09 900.37,485.37 901.76,479.03 903.15,471.47 904.54,464.11 905.93,458.81 907.32,455.89 908.7,454.22 910.09,452.87 911.48,451.51 912.87,450.08 914.26,448.38 915.65,446.32 917.04,444.13 918.43,441.94 919.82,439.64 921.21,436.84 922.6,433.4 923.99,429.73 925.38,426.42 926.77,423.87 928.16,421.48 929.55,419.47 930.94,417.99 932.33,416.73 933.72,416.23 935.11,416.16 936.5,419.57 937.88,423.67 939.27,428.67 940.66,434.58 942.05,440.17 943.44,444.07 944.83,446.49 946.22,448.47 947.61,450.49 949,452.64 950.39,454.87 951.78,457.12 953.17,459.36 954.56,460.63 955.95,459.24 957.34,456.36 958.73,453.27 960.12,450.19 961.51,447.48 962.9,446.21 964.28,446 965.67,446 967.06,445.87 968.45,445 969.84,443.07 971.23,440.86 972.62,438.65 974.01,436.44 975.4,434.23 976.79,432.87 978.18,433.49 979.57,434.97 980.96,436.46 982.35,437.95 983.74,439.45 985.13,441.1 986.52,442.99 987.91,445.01 989.3,447.03 990.69,449.05 992.07,451.06 993.46,452.48 994.85,452.19 996.24,450.27 997.63,447.86 999.02,445.44 1000.41,443.18 1001.8,441.36 1003.19,439.94 1004.58,438.64 1005.97,437.33 1007.36,436.53 1008.75,436.83 1010.14,437.79 1011.53,438.23 1012.92,438.68 1014.31,439.13 1015.7,439.5 1017.09,438.61 1018.48,436.25 1019.86,432.71 1021.25,429.17 1022.64,425.65 1024.03,422.85 1025.42,421.44 1026.81,420.71 1028.2,419.99 1029.59,419.52" fill="none" stroke="#1f77b4" stroke-width="1.8" stroke-linejoin="round"/><polyline points="93.07,601.2 94.46,600.68 95.85,600.14 97.24,599.57 98.63,598.99 100.02,598.81 101.41,599.51 102.8,600.79 104.18,602.12 105.57,603.38 106.96,604.54 108.35,605.43 109.74,605.94 111.13,606.05 112.52,605.34 113.91,603.6 115.3,601.26 116.69,598.63 118.08,596.09 119.47,593.94 120.86,592.37 122.25,591.59 123.64,591.28 125.03,591.14 126.42,591.28 127.81,591.56 129.2,591.82 130.59,592.04 131.97,592.2 133.36,592.34 134.75,592.42 136.14,592.37 137.53,592.25 138.92,592.09 140.31,591.85 141.7,591.49 143.09,591.07 144.48,590.63 145.87,590.14 147.26,589.6 148.65,589.05 150.04,588.73 151.43,588.86 152.82,589.21 154.21,589.59 155.6,590.03 156.99,590.5 158.38,590.96 159.76,591.44 161.15,591.97 162.54,592.52 163.93,593.05 165.32,593.45 166.71,593.67 168.1,593.81 169.49,593.88 170.88,593.79 172.27,593.55 173.66,593.27 175.05,592.95 176.44,592.57 177.83,592.15 179.22,591.75 180.61,591.4 182,591.1 183.39,590.82 184.78,590.57 186.17,590.39 187.55,590.26 188.94,590.17 190.33,590.11 191.72,590.05 193.11,589.97 194.5,589.85 195.89,589.71 197.28,589.55 198.67,589.31 200.06,588.99 201.45,588.32 202.84,586.83 204.23,584.6 205.62,582.44 207.01,580.93 208.4,580.01 209.79,579.48 211.18,579.23 212.57,579.01 213.95,578.69 215.34,578.3 216.73,577.88 218.12,577.46 219.51,577.05 220.9,576.63 222.29,576.21 223.68,575.8 225.07,575.38 226.46,574.96 227.85,574.48 229.24,573.87 230.63,573.18 232.02,572.37 233.41,571.33 234.8,570.37 236.19,569.84 237.58,569.7 238.97,569.92 240.36,570.38 241.75,570.9 243.13,571.43 244.52,571.95 245.91,572.43 247.3,572.82 248.69,573.17 250.08,573.42 251.47,573.5 252.86,573.48 254.25,573.3 255.64,572.88 257.03,572.34 258.42,571.68 259.81,570.87 261.2,570.04 262.59,569.33 263.98,568.76 265.37,568.44 266.76,568.7 268.15,569.48 269.53,570.4 270.92,571.27 272.31,571.97 273.7,572.43 275.09,572.74 276.48,572.94 277.87,573 279.26,573 280.65,573 282.04,573 283.43,573.02 284.82,573.07 286.21,573.17 287.6,573.42 288.99,574.03 290.38,574.9 291.77,575.86 293.16,576.87 294.55,577.91 295.94,578.99 297.32,580.16 298.71,581.37 300.1,582.57 301.49,583.74 302.88,585.01 304.27,586.49 305.66,588.11 307.05,589.73 308.44,591.35 309.83,592.97 311.22,594.56 312.61,596.08 314,597.45 315.39,598.57 316.78,599.33 318.17,599.45 319.56,598.7 320.95,597.71 322.34,597.06 323.73,596.92 325.12,597.51 326.5,598.55 327.89,599.58 329.28,600.49 330.67,601.31 332.06,602.03 333.45,602.75 334.84,603.54 336.23,604.39 337.62,605.33 339.01,606.41 340.4,607.6 341.79,608.77 343.18,609.86 344.57,610.61 345.96,610.67 347.35,610.2 348.74,609.92 350.13,610.32 351.52,611.18 352.9,612.1 354.29,612.83 355.68,612.95 357.07,612.49 358.46,611.94 359.85,611.54 361.24,611.19 362.63,610.84 364.02,610.49 365.41,610.15 366.8,609.8 368.19,609.45 369.58,609.11 370.97,608.76 372.36,608.41 373.75,607.76 375.14,606.42 376.53,604.63 377.92,602.78 379.31,601.04 380.7,599.65 382.08,598.7 383.47,598.24 384.86,598.23 386.25,598.42 387.64,598.64 389.03,598.91 390.42,599.18 391.81,599.44 393.2,599.65 394.59,599.82 395.98,599.95 397.37,600 398.76,600 400.15,600 401.54,600 402.93,600 404.32,599.98 405.71,599.91 407.1,599.79 408.49,599.65 409.87,599.47 411.26,599.18 412.65,598.82 414.04,598.08 415.43,596.59 416.82,594.69 418.21,592.68 419.6,590.76 420.99,589.24 422.38,588.49 423.77,589.09 425.16,590.26 426.55,590.68 427.94,590.59 429.33,590.52 430.72,590.5 432.11,590.42 433.5,590.05 434.89,589.32 436.27,588.47 437.66,587.69 439.05,586.97 440.44,586.33 441.83,585.83 443.22,585.44 444.61,585.07 446,584.61 447.39,584.1 448.78,583.58 450.17,583.06 451.56,582.54 452.95,582.06 454.34,581.67 455.73,581.33 457.12,581.08 458.51,581 459.9,580.98 461.29,580.86 462.68,580.58 464.06,580.24 465.45,579.94 466.84,579.74 468.23,579.9 469.62,580.58 471.01,581.57 472.4,582.67 473.79,583.92 475.18,585.4 476.57,586.84 477.96,587.91 479.35,588.67 480.74,589.44 482.13,590.36 483.52,591.39 484.91,592.43 486.3,593.47 487.69,594.51 489.08,595.51 490.47,596.42 491.86,597.24 493.24,597.73 494.63,597.72 496.02,597.07 497.41,595.62 498.8,593.66 500.19,591.5 501.58,589.52 502.97,588.32 504.36,587.73 505.75,587.33 507.14,586.97 508.53,586.62 509.92,586.27 511.31,585.92 512.7,585.58 514.09,585.23 515.48,584.88 516.87,584.53 518.26,584.19 519.64,583.84 521.03,583.49 522.42,583.14 523.81,582.8 525.2,582.51 526.59,582.3 527.98,582.13 529.37,581.95 530.76,581.78 532.15,581.61 533.54,581.43 534.93,581.26 536.32,581.09 537.71,580.91 539.1,580.74 540.49,580.51 541.88,580.14 543.27,579.65 544.66,579.16 546.05,578.75 547.43,578.39 548.82,578.12 550.21,578.01 551.6,578.21 552.99,578.91 554.38,580.11 555.77,581.76 557.16,583.58 558.55,584.94 559.94,585.58 561.33,585.61 562.72,585.14 564.11,584.39 565.5,583.56 566.89,582.68 568.28,581.69 569.67,580.54 571.06,579.44 572.45,578.82 573.84,578.84 575.23,579.38 576.61,580.34 578,581.04 579.39,580.8 580.78,580.18 582.17,579.72 583.56,579.36 584.95,578.89 586.34,578.16 587.73,577.29 589.12,576.42 590.51,575.56 591.9,574.72 593.29,574.03 594.68,573.58 596.07,573.26 597.46,573.06 598.85,573 600.24,573.02 601.63,573.1 603.01,573.25 604.4,573.38 605.79,573.36 607.18,573.23 608.57,572.99 609.96,572.61 611.35,572.12 612.74,571.53 614.13,570.78 615.52,569.92 616.91,569.06 618.3,568.19 619.69,567.32 621.08,566.5 622.47,565.77 623.86,565.08 625.25,564.44 626.64,563.89 628.03,563.37 629.42,562.84 630.8,562.32 632.19,561.78 633.58,561.18 634.97,560.51 636.36,559.79 637.75,559.01 639.14,558.16 640.53,557.18 641.92,555.91 643.31,554.4 644.7,552.87 646.09,551.42 647.48,550.02 648.87,548.83 650.26,548.05 651.65,547.51 653.04,547.03 654.43,546.64 655.82,546.3 657.21,546.01 658.59,545.8 659.98,545.69 661.37,545.85 662.76,546.38 664.15,547.06 665.54,547.68 666.93,548.22 668.32,548.7 669.71,549.05 671.1,549.26 672.49,549.33 673.88,549.11 675.27,548.65 676.66,548.1 678.05,547.47 679.44,546.78 680.83,546.05 682.22,545.23 683.61,544.37 685,543.46 686.38,542.46 687.77,541.41 689.16,540.32 690.55,539.14 691.94,537.92 693.33,536.71 694.72,535.49 696.11,534.25 697.5,532.88 698.89,531.37 700.28,529.83 701.67,528.35 703.06,526.94 704.45,525.58 705.84,524.28 707.23,523.05 708.62,521.9 710.01,520.89 711.4,520 712.79,519.17 714.17,518.42 715.56,517.72 716.95,517.15 718.34,516.84 719.73,516.67 721.12,516.65 722.51,516.88 723.9,517.23 725.29,517.57 726.68,517.92 728.07,518.22 729.46,518.36 730.85,518.27 732.24,518.02 733.63,517.51 735.02,516.74 736.41,515.92 737.8,515.24 739.19,514.68 740.58,514.43 741.96,514.84 743.35,515.77 744.74,516.97 746.13,518.55 747.52,521.09 748.91,525.33 750.3,530.21 751.69,533.82 753.08,535.71 754.47,535.95 755.86,534.93 757.25,534.1 758.64,534.33 760.03,535.44 761.42,537.36 762.81,539.68 764.2,542 765.59,544.23 766.98,546.27 768.37,548.28 769.75,550.62 771.14,553.24 772.53,555.82 773.92,558.15 775.31,560.13 776.7,561.16 778.09,560.76 779.48,559.49 780.87,557.99 782.26,556.49 783.65,555.72 785.04,556.16 786.43,556.92 787.82,557.18 789.21,556.36 790.6,554.04 791.99,551.2 793.38,548.71 794.77,546.39 796.16,544.07 797.54,542.07 798.93,540.84 800.32,540.34 801.71,540.35 803.1,540.74 804.49,541.4 805.88,542.23 807.27,543 808.66,543.54 810.05,543.6 811.44,542.92 812.83,541.85 814.22,540.54 815.61,538.86 817,536.19 818.39,531.91 819.78,527.49 821.17,524.52 822.56,522.49 823.95,521.03 825.33,520.52 826.72,520.49 828.11,520.39 829.5,520.12 830.89,519.75 832.28,519.22 833.67,518.46 835.06,517.61 836.45,516.89 837.84,516.31 839.23,515.75 840.62,515.06 842.01,514.24 843.4,513.33 844.79,512.27 846.18,511.09 847.57,509.69 848.96,507.82 850.35,505.65 851.74,503.57 853.12,501.77 854.51,500.43 855.9,499.55 857.29,498.83 858.68,498.05 860.07,497.2 861.46,496.26 862.85,495.1 864.24,493.76 865.63,492.5 867.02,491.54 868.41,490.8 869.8,490.29 871.19,490.18 872.58,490.32 873.97,489.99 875.36,488.62 876.75,486.72 878.14,484.81 879.53,482.9 880.91,481.04 882.3,479.44 883.69,478.23 885.08,477.25 886.47,476.5 887.86,476.03 889.25,475.89 890.64,476.38 892.03,477.6 893.42,479.36 894.81,481.48 896.2,483.42 897.59,484.82 898.98,484.5 900.37,480.81 901.76,474.5 903.15,466.96 904.54,459.57 905.93,454.24 907.32,451.29 908.7,449.6 910.09,448.21 911.48,446.82 912.87,445.36 914.26,443.62 915.65,441.54 917.04,439.31 918.43,437.09 919.82,434.75 921.21,431.93 922.6,428.46 923.99,424.75 925.38,421.21 926.77,417.87 928.16,414.71 929.55,411.91 930.94,409.65 932.33,407.61 933.72,406.58 935.11,407.96 936.5,411.12 937.88,414.97 939.27,419.71 940.66,425.37 942.05,430.71 943.44,434.35 944.83,436.52 946.22,438.28 947.61,440.09 949,442.03 950.39,444.04 951.78,446.08 953.17,448.11 954.56,449.17 955.95,448.06 957.34,445.57 958.73,442.86 960.12,440.16 961.51,437.84 962.9,436.49 964.28,435.93 965.67,435.58 967.06,435.1 968.45,434.07 969.84,432.36 971.23,430.37 972.62,428.38 974.01,426.39 975.4,424.4 976.79,423.27 978.18,423.85 979.57,425.3 980.96,426.76 982.35,428.22 983.74,429.69 985.13,431.3 986.52,433.17 987.91,435.15 989.3,437.14 990.69,439.12 992.07,441.11 993.46,442.5 994.85,442.19 996.24,440.27 997.63,437.86 999.02,435.44 1000.41,433.18 1001.8,431.36 1003.19,429.94 1004.58,428.64 1005.97,427.33 1007.36,426.53 1008.75,426.83 1010.14,427.85 1011.53,428.98 1012.92,430.1 1014.31,431.22 1015.7,432.27 1017.09,432 1018.48,429.31 1019.86,425.46 1021.25,421.61 1022.64,417.77 1024.03,414.66 1025.42,412.93 1026.81,411.89 1028.2,410.85 1029.59,410.07" fill="none" stroke="#1f77b4" stroke-width="1.8" stroke-linejoin="round"/><polyline points="109.74,699.36 111.13,698.14 112.52,699.16 113.91,698.95 115.3,699.27 116.69,699.05 118.08,699.42 119.47,698.98 120.86,698.86 122.25,699.14 123.64,699.11 125.03,698.93 126.42,698.96 127.81,699.22 129.2,699.22 130.59,698.93 131.97,698.98 133.36,698.63 134.75,699.51 136.14,699.04 137.53,699.44 138.92,699.22 140.31,699.61 141.7,699.52 143.09,699.23 144.48,699.53 145.87,698.93 147.26,699.49 148.65,698.82 150.04,699.29 151.43,699.45 152.82,699.22 154.21,699.06 155.6,698.93 156.99,699.03 158.38,699.36 159.76,699.31 161.15,699 162.54,698.74 163.93,699.2 165.32,698.65 166.71,698.87 168.1,698.8 169.49,699.15 170.88,699.01 172.27,699.05 173.66,698.98 175.05,698.73 176.44,699.02 177.83,699.22 179.22,698.84 180.61,698.99 182,698.78 183.39,699.06 184.78,698.95 186.17,698.98 187.55,698.84 188.94,699.14 190.33,698.63 191.72,698.62 193.11,698.53 194.5,698.82 195.89,698.49 197.28,698.47 198.67,698.8 200.06,698.89 201.45,698.73 202.84,697.9 204.23,698.31 205.62,698.26 207.01,698.21 208.4,698.4 209.79,698.94 211.18,698.39 212.57,698.27 213.95,698.61 215.34,698.43 216.73,698.43 218.12,698.21 219.51,698.37 220.9,698.46 222.29,697.85 223.68,697.91 225.07,698.57 226.46,698.49 227.85,698.14 229.24,697.99 230.63,698.19 232.02,697.92 233.41,698.11 234.8,698.6 236.19,698.2 237.58,698.44 238.97,698.08 240.36,698.21 241.75,698.45 243.13,697.75 244.52,697.98 245.91,698.01 247.3,698.1 248.69,698.4 250.08,698.17 251.47,697.59 252.86,697.86 254.25,697.68 255.64,697.64 257.03,698.34 258.42,697.54 259.81,697.83 261.2,697.56 262.59,697.92 263.98,697.76 265.37,697.67 266.76,697.59 268.15,697.86 269.53,697.31 270.92,697.33 272.31,697.2 273.7,697.78 275.09,697.34 276.48,697.12 277.87,697.24 279.26,697.94 280.65,697.25 282.04,697.46 283.43,697.33 284.82,697.18 286.21,696.97 287.6,697.03 288.99,696.99 290.38,696.5 291.77,697.66 293.16,697.22 294.55,696.98 295.94,696.87 297.32,696.69 298.71,697.09 300.1,696.77 301.49,696.93 302.88,696.48 304.27,696.95 305.66,697.38 307.05,696.83 308.44,697.12 309.83,696.95 311.22,697.24 312.61,697.26 314,697.03 315.39,696.9 316.78,697.13 318.17,697.09 319.56,696.95 320.95,697.24 322.34,697.26 323.73,696.95 325.12,697.17 326.5,697.95 327.89,697.44 329.28,697.29 330.67,697.91 332.06,697.19 333.45,696.71 334.84,696.88 336.23,697 337.62,697.46 339.01,697.66 340.4,696.9 341.79,697.75 343.18,697.18 344.57,697.58 345.96,697.65 347.35,697.66 348.74,697.58 350.13,697.65 351.52,697.35 352.9,697.74 354.29,697.95 355.68,697.97 357.07,698.42 358.46,698.07 359.85,698.02 361.24,698.29 362.63,697.96 364.02,697.61 365.41,697.41 366.8,698.32 368.19,698.18 369.58,698.28 370.97,698.02 372.36,698.22 373.75,698.64 375.14,698.29 376.53,697.96 377.92,698.16 379.31,698.65 380.7,698.06 382.08,697.72 383.47,697.83 384.86,698.1 386.25,698.67 387.64,698.53 389.03,698.35 390.42,698.25 391.81,698.57 393.2,698.6 394.59,698.53 395.98,698.64 397.37,698.55 398.76,699.22 400.15,698.21 401.54,698.81 402.93,698.5 404.32,698.91 405.71,698.66 407.1,698.79 408.49,698.81 409.87,698.7 411.26,698.88 412.65,698.26 414.04,698.83 415.43,698.51 416.82,698.64 418.21,698.92 419.6,698.79 420.99,698.98 422.38,697.9 423.77,698.2 425.16,698.66 426.55,698.12 427.94,698.34 429.33,698.79 430.72,698.56 432.11,698.08 433.5,698.41 434.89,698.44 436.27,698.27 437.66,698.21 439.05,698.25 440.44,697.81 441.83,698.18 443.22,697.88 444.61,698.18 446,698.15 447.39,697.79 448.78,698.13 450.17,698.03 451.56,697.89 452.95,698.05 454.34,697.75 455.73,697.72 457.12,697.78 458.51,697.71 459.9,697.97 461.29,697.06 462.68,697.54 464.06,697.08 465.45,697.41 466.84,697.57 468.23,697.47 469.62,697.67 471.01,697.47 472.4,696.67 473.79,697.04 475.18,697.68 476.57,697.7 477.96,697.35 479.35,696.95 480.74,697.89 482.13,696.84 483.52,697.46 484.91,697.38 486.3,697.47 487.69,697.13 489.08,697.34 490.47,697.72 491.86,697.35 493.24,697.14 494.63,697.49 496.02,697.54 497.41,697.49 498.8,697.35 500.19,697.69 501.58,697.54 502.97,697.29 504.36,697.66 505.75,697.61 507.14,697.67 508.53,697.22 509.92,697.47 511.31,697.8 512.7,697.93 514.09,697.8 515.48,697.77 516.87,697.93 518.26,698.01 519.64,698.22 521.03,697.93 522.42,697.71 523.81,698.02 525.2,697.45 526.59,697.99 527.98,697.9 529.37,698.05 530.76,698.22 532.15,698.15 533.54,697.81 534.93,698.12 536.32,698.05 537.71,698.29 539.1,698.42 540.49,698.13 541.88,698.59 543.27,698.77 544.66,698.42 546.05,698.64 547.43,698.03 548.82,698.21 550.21,698.53 551.6,697.79 552.99,698.05 554.38,697.9 555.77,698.36 557.16,698.3 558.55,697.8 559.94,697.93 561.33,697.19 562.72,698 564.11,697.82 565.5,698.01 566.89,697.03 568.28,697.65 569.67,697.42 571.06,696.8 572.45,697.23 573.84,697.33 575.23,697.5 576.61,697.37 578,697.2 579.39,697.46 580.78,697.34 582.17,697.22 583.56,697.14 584.95,697.45 586.34,697.46 587.73,697.9 589.12,697.34 590.51,697.87 591.9,697.57 593.29,697.8 594.68,697.29 596.07,697.31 597.46,697.47 598.85,697.79 600.24,697.62 601.63,697.78 603.01,697.69 604.4,697.88 605.79,697.69 607.18,697.53 608.57,697.8 609.96,697.71 611.35,698.14 612.74,697.68 614.13,697.76 615.52,697.67 616.91,698.05 618.3,698 619.69,697.96 621.08,697.5 622.47,697.44 623.86,697.9 625.25,698.02 626.64,698.22 628.03,697.41 629.42,697.83 630.8,697.46 632.19,697.65 633.58,697.85 634.97,698.15 636.36,697.79 637.75,697.75 639.14,697.86 640.53,698.27 641.92,698.57 643.31,697.59 644.7,697.92 646.09,697.89 647.48,698.3 648.87,698.13 650.26,698.41 651.65,697.78 653.04,698.05 654.43,697.94 655.82,697.79 657.21,698.04 658.59,697.79 659.98,698.64 661.37,698.19 662.76,697.82 664.15,697.91 665.54,698.48 666.93,697.91 668.32,698.19 669.71,698.15 671.1,698.27 672.49,698.14 673.88,697.91 675.27,697.81 676.66,697.5 678.05,697.91 679.44,697.95 680.83,697.81 682.22,697.85 683.61,697.57 685,698.4 686.38,697.72 687.77,697.57 689.16,697.67 690.55,697.76 691.94,697.98 693.33,697.17 694.72,697.9 696.11,697.6 697.5,697.69 698.89,697.98 700.28,697.9 701.67,697.53 703.06,697.66 704.45,698.14 705.84,698 707.23,697.86 708.62,697.64 710.01,697.86 711.4,697.71 712.79,697.45 714.17,697.33 715.56,697.69 716.95,697.64 718.34,697.83 719.73,697.39 721.12,697.85 722.51,697.39 723.9,697.78 725.29,697.59 726.68,697.29 728.07,697.19 729.46,697.38 730.85,697.3 732.24,697.54 733.63,697.07 735.02,696.82 736.41,697.12 737.8,697.55 739.19,697.42 740.58,696.79 741.96,696.82 743.35,696.91 744.74,696.6 746.13,696.65 747.52,696.58 748.91,696.27 750.3,696.06 751.69,695.77 753.08,695.64 754.47,694.97 755.86,694.97 757.25,694.38 758.64,694.11 760.03,693.71 761.42,694.56 762.81,693.44 764.2,693.04 765.59,692.47 766.98,691.78 768.37,691.42 769.75,691.05 771.14,691.02 772.53,691.07 773.92,691.32 775.31,690.2 776.7,690.82 778.09,691.14 779.48,690.89 780.87,690.95 782.26,691.4 783.65,691.23 785.04,691.77 786.43,691.46 787.82,691.68 789.21,691.51 790.6,691.42 791.99,691.97 793.38,692.23 794.77,692.28 796.16,692.18 797.54,692.83 798.93,692.83 800.32,692.97 801.71,692.92 803.1,693.67 804.49,693.78 805.88,693.64 807.27,693.68 808.66,693.92 810.05,694.43 811.44,694.79 812.83,694.18 814.22,694.16 815.61,693.91 817,695.15 818.39,694.26 819.78,694.84 821.17,694.84 822.56,695.14 823.95,694.68 825.33,694.57 826.72,695.11 828.11,695.26 829.5,695.53 830.89,694.91 832.28,695.31 833.67,695.45 835.06,695.26 836.45,695.65 837.84,695.98 839.23,695.86 840.62,695.6 842.01,696.13 843.4,696.35 844.79,696.36 846.18,696.49 847.57,695.85 848.96,696.35 850.35,696.36 851.74,696.09 853.12,696.14 854.51,695.93 855.9,696.4 857.29,695.99 858.68,695.8 860.07,696.05 861.46,696.01 862.85,696.12 864.24,695.71 865.63,695.72 867.02,695.96 868.41,696.39 869.8,695.92 871.19,695.42 872.58,695.76 873.97,695.48 875.36,695.17 876.75,695.41 878.14,695.4 879.53,695.6 880.91,695.78 882.3,695.69 883.69,695.57 885.08,695.21 886.47,695.31 887.86,695.22 889.25,695.54 890.64,694.98 892.03,694.96 893.42,695.43 894.81,695.15 896.2,694.85 897.59,694.95 898.98,694.89 900.37,694.85 901.76,694.96 903.15,694.8 904.54,694.61 905.93,694.48 907.32,694.12 908.7,694.4 910.09,694.74 911.48,694.46 912.87,694.19 914.26,694.24 915.65,694.04 917.04,694.28 918.43,694.66 919.82,694.56 921.21,694.35 922.6,694.2 923.99,693.9 925.38,693.59 926.77,693.3 928.16,692.58 929.55,692.29 930.94,691.51 932.33,690.74 933.72,690.48 935.11,690.58 936.5,689.11 937.88,689.1 939.27,688.56 940.66,688.44 942.05,688.32 943.44,688.57 944.83,688.66 946.22,688.85 947.61,688.88 949,688.84 950.39,688.63 951.78,688.93 953.17,688.79 954.56,688.69 955.95,689.23 957.34,688.93 958.73,688.89 960.12,689.3 961.51,688.89 962.9,689.45 964.28,689.67 965.67,689.54 967.06,689.8 968.45,690.37 969.84,690.28 971.23,690.25 972.62,690.26 974.01,690.07 975.4,690.26 976.79,690.32 978.18,690.49 979.57,690.6 980.96,690.46 982.35,691.16 983.74,690.59 985.13,691.03 986.52,691.28 987.91,691.08 989.3,690.98 990.69,691.22 992.07,691.76 993.46,691.5 994.85,691.33 996.24,691.61 997.63,691.48 999.02,691.12 1000.41,691.72 1001.8,691.98 1003.19,692.07 1004.58,691.83 1005.97,691.55 1007.36,692.27 1008.75,692 1010.14,692.28 1011.53,692.44 1012.92,692.31 1014.31,692.27 1015.7,692.19 1017.09,692.3 1018.48,692.48 1019.86,692.42 1021.25,692.69 1022.64,692.18 1024.03,692.47 1025.42,692.78 1026.81,692.68 1028.2,692.78 1029.59,692.69" fill="none" stroke="#1f77b4" stroke-width="2.0"/></g><path d="M89.0 256.6H1030M89.0 720.6H1030" stroke="#666666" stroke-width="1.2" fill="none"/><line x1="89.0" y1="256.6" x2="89.0" y2="720.6" stroke="#000" stroke-width="1.2"/><line x1="81.9" y1="355.5" x2="91.4" y2="355.5" stroke="#000" stroke-width="1.2"/><text x="76.0" y="360.1" text-anchor="end" font-family="'Liberation Sans', Arial, sans-serif" font-size="13" fill="#444444">150</text><line x1="81.9" y1="470.5" x2="91.4" y2="470.5" stroke="#000" stroke-width="1.2"/><text x="76.0" y="475.1" text-anchor="end" font-family="'Liberation Sans', Arial, sans-serif" font-size="13" fill="#444444">100</text><line x1="81.9" y1="585.5" x2="91.4" y2="585.5" stroke="#000" stroke-width="1.2"/><text x="76.0" y="590.1" text-anchor="end" font-family="'Liberation Sans', Arial, sans-serif" font-size="13" fill="#444444">50</text><line x1="81.9" y1="700.5" x2="91.4" y2="700.5" stroke="#000" stroke-width="1.2"/><text x="76.0" y="705.1" text-anchor="end" font-family="'Liberation Sans', Arial, sans-serif" font-size="13" fill="#444444">0</text><line x1="84.3" y1="677.5" x2="89.0" y2="677.5" stroke="#000" stroke-width="1.2"/><line x1="84.3" y1="654.5" x2="89.0" y2="654.5" stroke="#000" stroke-width="1.2"/><line x1="84.3" y1="631.5" x2="89.0" y2="631.5" stroke="#000" stroke-width="1.2"/><line x1="84.3" y1="608.5" x2="89.0" y2="608.5" stroke="#000" stroke-width="1.2"/><line x1="84.3" y1="562.5" x2="89.0" y2="562.5" stroke="#000" stroke-width="1.2"/><line x1="84.3" y1="539.5" x2="89.0" y2="539.5" stroke="#000" stroke-width="1.2"/><line x1="84.3" y1="516.5" x2="89.0" y2="516.5" stroke="#000" stroke-width="1.2"/><line x1="84.3" y1="493.5" x2="89.0" y2="493.5" stroke="#000" stroke-width="1.2"/><line x1="84.3" y1="447.5" x2="89.0" y2="447.5" stroke="#000" stroke-width="1.2"/><line x1="84.3" y1="424.5" x2="89.0" y2="424.5" stroke="#000" stroke-width="1.2"/><line x1="84.3" y1="401.5" x2="89.0" y2="401.5" stroke="#000" stroke-width="1.2"/><line x1="84.3" y1="378.5" x2="89.0" y2="378.5" stroke="#000" stroke-width="1.2"/><line x1="84.3" y1="332.5" x2="89.0" y2="332.5" stroke="#000" stroke-width="1.2"/><line x1="84.3" y1="309.5" x2="89.0" y2="309.5" stroke="#000" stroke-width="1.2"/><line x1="84.3" y1="286.5" x2="89.0" y2="286.5" stroke="#000" stroke-width="1.2"/><line x1="84.3" y1="263.5" x2="89.0" y2="263.5" stroke="#000" stroke-width="1.2"/><rect x="89.0" y="256.6" width="139.3" height="59.099999999999966" fill="#fff" fill-opacity="0.95" stroke="#c4c4c4" stroke-width="1.2"/><line x1="94.6" y1="274.3" x2="119" y2="274.3" stroke="#b21b00" stroke-width="9.4" stroke-dasharray="2.35 4.7" stroke-dashoffset="-0.2"/><text x="125" y="278.7" font-family="'Liberation Sans', Arial, sans-serif" font-size="12.6" fill="#444444">Trades (1242)</text><line x1="94.6" y1="297.9" x2="118.8" y2="297.9" stroke="#1f77b4" stroke-width="2.4"/><text x="125" y="302.3" font-family="'Liberation Sans', Arial, sans-serif" font-size="12.6" fill="#444444">aberration(H,L,C)</text><g clip-path="url(#cVo)"><line x1="366.8" y1="731.6" x2="366.8" y2="803.8" stroke="#e8e8e8" stroke-width="1.2"/><line x1="644.7" y1="731.6" x2="644.7" y2="803.8" stroke="#e8e8e8" stroke-width="1.2"/><line x1="922.6" y1="731.6" x2="922.6" y2="803.8" stroke="#e8e8e8" stroke-width="1.2"/><line x1="89.0" y1="800.6" x2="1030" y2="800.6" stroke="#e8e8e8" stroke-width="1.2"/><line x1="89.0" y1="785.05" x2="1030" y2="785.05" stroke="#e8e8e8" stroke-width="1.2"/><line x1="89.0" y1="769.5" x2="1030" y2="769.5" stroke="#e8e8e8" stroke-width="1.2"/><line x1="89.0" y1="753.95" x2="1030" y2="753.95" stroke="#e8e8e8" stroke-width="1.2"/><line x1="89.0" y1="738.4" x2="1030" y2="738.4" stroke="#e8e8e8" stroke-width="1.2"/><g stroke-width="2.3" fill="none"><path d="M88.9 777.55V801.2M90.29 786.31V801.2M91.68 788.39V801.2M93.07 792.98V801.2" stroke="#00ff00"/><path d="M94.46 789.38V801.2" stroke="#ff6347"/><path d="M95.85 781.58V801.2" stroke="#00ff00"/><path d="M97.24 786.3V801.2M98.63 779.84V801.2M100.02 778.02V801.2" stroke="#ff6347"/><path d="M101.41 778.44V801.2M102.8 758.62V801.2" stroke="#00ff00"/><path d="M104.18 759.4V801.2M105.57 775.37V801.2" stroke="#ff6347"/><path d="M106.96 756.51V801.2" stroke="#00ff00"/><path d="M108.35 767.87V801.2" stroke="#ff6347"/><path d="M109.74 778.33V801.2M111.13 781.42V801.2M112.52 777.52V801.2M113.91 786.99V801.2M115.3 758.7V801.2M116.69 771.67V801.2M118.08 764.9V801.2" stroke="#00ff00"/><path d="M119.47 776.02V801.2" stroke="#ff6347"/><path d="M120.86 773.04V801.2" stroke="#00ff00"/><path d="M122.25 777.8V801.2M123.64 779.11V801.2" stroke="#ff6347"/><path d="M125.03 779.59V801.2M126.42 786.87V801.2" stroke="#00ff00"/><path d="M127.81 784.45V801.2" stroke="#ff6347"/><path d="M129.2 787.61V801.2" stroke="#00ff00"/><path d="M130.59 781.46V801.2" stroke="#ff6347"/><path d="M131.97 781.65V801.2M133.36 787.45V801.2" stroke="#00ff00"/><path d="M134.75 786.57V801.2M136.14 790.34V801.2" stroke="#ff6347"/><path d="M137.53 784.65V801.2" stroke="#00ff00"/><path d="M138.92 784.33V801.2M140.31 782.57V801.2" stroke="#ff6347"/><path d="M141.7 787.06V801.2" stroke="#00ff00"/><path d="M143.09 783.18V801.2" stroke="#ff6347"/><path d="M144.48 786.53V801.2M145.87 780.7V801.2" stroke="#00ff00"/><path d="M147.26 775.88V801.2M148.65 786.83V801.2M150.04 787.33V801.2M151.43 787.55V801.2M152.82 784.94V801.2" stroke="#ff6347"/><path d="M154.21 776.49V801.2" stroke="#00ff00"/><path d="M155.6 776.98V801.2M156.99 780.1V801.2M158.38 761.6V801.2" stroke="#ff6347"/><path d="M159.76 784.7V801.2" stroke="#00ff00"/><path d="M161.15 783.33V801.2" stroke="#ff6347"/><path d="M162.54 782.49V801.2" stroke="#00ff00"/><path d="M163.93 783.05V801.2" stroke="#ff6347"/><path d="M165.32 784.15V801.2M166.71 782.54V801.2" stroke="#00ff00"/><path d="M168.1 788.79V801.2" stroke="#ff6347"/><path d="M169.49 789.02V801.2M170.88 787.06V801.2M172.27 789.08V801.2M173.66 789.15V801.2M175.05 786.22V801.2M176.44 783.07V801.2" stroke="#00ff00"/><path d="M177.83 788.58V801.2" stroke="#ff6347"/><path d="M179.22 786.62V801.2M180.61 788.9V801.2M182 790.1V801.2" stroke="#00ff00"/><path d="M183.39 788.58V801.2" stroke="#ff6347"/><path d="M184.78 783.14V801.2" stroke="#00ff00"/><path d="M186.17 781.91V801.2" stroke="#ff6347"/><path d="M187.55 784.2V801.2" stroke="#00ff00"/><path d="M188.94 789.17V801.2" stroke="#ff6347"/><path d="M190.33 786.67V801.2M191.72 791.02V801.2M193.11 787.27V801.2M194.5 782.63V801.2" stroke="#00ff00"/><path d="M195.89 787.09V801.2" stroke="#ff6347"/><path d="M197.28 777.39V801.2M198.67 782.52V801.2M200.06 771.67V801.2M201.45 766.72V801.2M202.84 758V801.2M204.23 781.46V801.2" stroke="#00ff00"/><path d="M205.62 784.75V801.2" stroke="#ff6347"/><path d="M207.01 784.79V801.2M208.4 786.88V801.2M209.79 781.09V801.2" stroke="#00ff00"/><path d="M211.18 782.91V801.2M212.57 778.88V801.2" stroke="#ff6347"/><path d="M213.95 778.66V801.2M215.34 783.24V801.2" stroke="#00ff00"/><path d="M216.73 783.42V801.2" stroke="#ff6347"/><path d="M218.12 787.62V801.2M219.51 779.82V801.2M220.9 784.21V801.2" stroke="#00ff00"/><path d="M222.29 783.31V801.2M223.68 783.08V801.2" stroke="#ff6347"/><path d="M225.07 783.49V801.2M226.46 772.83V801.2" stroke="#00ff00"/><path d="M227.85 780.04V801.2" stroke="#ff6347"/><path d="M229.24 781.85V801.2M230.63 774.02V801.2M232.02 769.7V801.2" stroke="#00ff00"/><path d="M233.41 765.29V801.2M234.8 774.67V801.2" stroke="#ff6347"/><path d="M236.19 767.18V801.2M237.58 779.33V801.2M238.97 782.4V801.2M240.36 787.27V801.2" stroke="#00ff00"/><path d="M241.75 781.68V801.2M243.13 769.4V801.2" stroke="#ff6347"/><path d="M244.52 787.99V801.2M245.91 779.49V801.2" stroke="#00ff00"/><path d="M247.3 784.33V801.2" stroke="#ff6347"/><path d="M248.69 787.38V801.2" stroke="#00ff00"/><path d="M250.08 785.27V801.2" stroke="#ff6347"/><path d="M251.47 784.64V801.2" stroke="#00ff00"/><path d="M252.86 740.4V801.2M254.25 786.61V801.2" stroke="#ff6347"/><path d="M255.64 785.43V801.2" stroke="#00ff00"/><path d="M257.03 782.32V801.2" stroke="#ff6347"/><path d="M258.42 781.7V801.2" stroke="#00ff00"/><path d="M259.81 783.27V801.2" stroke="#ff6347"/><path d="M261.2 777.61V801.2" stroke="#00ff00"/><path d="M262.59 781.68V801.2M263.98 782.91V801.2" stroke="#ff6347"/><path d="M265.37 779.19V801.2" stroke="#00ff00"/><path d="M266.76 778.68V801.2" stroke="#ff6347"/><path d="M268.15 782.22V801.2" stroke="#00ff00"/><path d="M269.53 775.25V801.2" stroke="#ff6347"/><path d="M270.92 774.94V801.2" stroke="#00ff00"/><path d="M272.31 767.4V801.2" stroke="#ff6347"/><path d="M273.7 787.38V801.2" stroke="#00ff00"/><path d="M275.09 784.18V801.2" stroke="#ff6347"/><path d="M276.48 778.48V801.2M277.87 785.93V801.2" stroke="#00ff00"/><path d="M279.26 780.28V801.2" stroke="#ff6347"/><path d="M280.65 786.78V801.2" stroke="#00ff00"/><path d="M282.04 785.12V801.2" stroke="#ff6347"/><path d="M283.43 778.68V801.2M284.82 781.57V801.2" stroke="#00ff00"/><path d="M286.21 781.27V801.2M287.6 770.86V801.2" stroke="#ff6347"/><path d="M288.99 777.07V801.2" stroke="#00ff00"/><path d="M290.38 771.68V801.2M291.77 781.13V801.2M293.16 783.41V801.2M294.55 743.3V801.2M295.94 759.4V801.2M297.32 777.04V801.2M298.71 772.35V801.2M300.1 778.04V801.2M301.49 775.98V801.2" stroke="#ff6347"/><path d="M302.88 772.01V801.2M304.27 770.79V801.2" stroke="#00ff00"/><path d="M305.66 762.4V801.2M307.05 780.22V801.2M308.44 775.96V801.2" stroke="#ff6347"/><path d="M309.83 777.43V801.2" stroke="#00ff00"/><path d="M311.22 758V801.2" stroke="#ff6347"/><path d="M312.61 771.48V801.2" stroke="#00ff00"/><path d="M314 760.02V801.2" stroke="#ff6347"/><path d="M315.39 772.66V801.2M316.78 773.91V801.2M318.17 771.43V801.2M319.56 777.9V801.2M320.95 778.92V801.2" stroke="#00ff00"/><path d="M322.34 772.91V801.2M323.73 783.59V801.2M325.12 774.76V801.2M326.5 770.62V801.2" stroke="#ff6347"/><path d="M327.89 761.6V801.2" stroke="#00ff00"/><path d="M329.28 781.78V801.2M330.67 775.13V801.2" stroke="#ff6347"/><path d="M332.06 783.85V801.2" stroke="#00ff00"/><path d="M333.45 782.47V801.2" stroke="#ff6347"/><path d="M334.84 774.94V801.2M336.23 785.01V801.2" stroke="#00ff00"/><path d="M337.62 785.17V801.2" stroke="#ff6347"/><path d="M339.01 787.04V801.2" stroke="#00ff00"/><path d="M340.4 740.4V801.2" stroke="#ff6347"/><path d="M341.79 770.74V801.2M343.18 746.73V801.2" stroke="#00ff00"/><path d="M344.57 761.23V801.2" stroke="#ff6347"/><path d="M345.96 771.09V801.2" stroke="#00ff00"/><path d="M347.35 769.94V801.2" stroke="#ff6347"/><path d="M348.74 779.97V801.2" stroke="#00ff00"/><path d="M350.13 743.3V801.2" stroke="#ff6347"/><path d="M351.52 774.79V801.2" stroke="#00ff00"/><path d="M352.9 774.68V801.2" stroke="#ff6347"/><path d="M354.29 776.13V801.2M355.68 775.5V801.2M357.07 771.47V801.2M358.46 766.06V801.2M359.85 777V801.2" stroke="#00ff00"/><path d="M361.24 775.08V801.2" stroke="#ff6347"/><path d="M362.63 776.12V801.2" stroke="#00ff00"/><path d="M364.02 768.57V801.2" stroke="#ff6347"/><path d="M365.41 771.48V801.2" stroke="#00ff00"/><path d="M366.8 779.09V801.2" stroke="#ff6347"/><path d="M368.19 762.08V801.2" stroke="#00ff00"/><path d="M369.58 770.13V801.2" stroke="#ff6347"/><path d="M370.97 780.01V801.2M372.36 787.86V801.2M373.75 782.86V801.2M375.14 762.4V801.2M376.53 777.75V801.2M377.92 773.75V801.2" stroke="#00ff00"/><path d="M379.31 768.41V801.2" stroke="#ff6347"/><path d="M380.7 774.58V801.2" stroke="#00ff00"/><path d="M382.08 764.88V801.2M383.47 765.55V801.2" stroke="#ff6347"/><path d="M384.86 768.94V801.2" stroke="#00ff00"/><path d="M386.25 778.55V801.2M387.64 777.97V801.2" stroke="#ff6347"/><path d="M389.03 776.25V801.2" stroke="#00ff00"/><path d="M390.42 772.25V801.2" stroke="#ff6347"/><path d="M391.81 780.68V801.2" stroke="#00ff00"/><path d="M393.2 785.34V801.2M394.59 789.09V801.2M395.98 782.73V801.2" stroke="#ff6347"/><path d="M397.37 785.3V801.2M398.76 780.56V801.2M400.15 781.2V801.2M401.54 778.88V801.2" stroke="#00ff00"/><path d="M402.93 786.41V801.2" stroke="#ff6347"/><path d="M404.32 786.71V801.2" stroke="#00ff00"/><path d="M405.71 785.72V801.2" stroke="#ff6347"/><path d="M407.1 785.29V801.2" stroke="#00ff00"/><path d="M408.49 778.35V801.2" stroke="#ff6347"/><path d="M409.87 779.32V801.2M411.26 777.62V801.2M412.65 773.53V801.2M414.04 771.54V801.2M415.43 769.15V801.2M416.82 764.43V801.2M418.21 774V801.2" stroke="#00ff00"/><path d="M419.6 770.41V801.2" stroke="#ff6347"/><path d="M420.99 777.21V801.2M422.38 783.37V801.2M423.77 768.2V801.2" stroke="#00ff00"/><path d="M425.16 779.73V801.2M426.55 775.59V801.2M427.94 769.4V801.2" stroke="#ff6347"/><path d="M429.33 769.48V801.2" stroke="#00ff00"/><path d="M430.72 779.65V801.2" stroke="#ff6347"/><path d="M432.11 777.89V801.2M433.5 773.18V801.2M434.89 774.11V801.2M436.27 785.66V801.2" stroke="#00ff00"/><path d="M437.66 782.99V801.2" stroke="#ff6347"/><path d="M439.05 781.58V801.2M440.44 776.5V801.2" stroke="#00ff00"/><path d="M441.83 778.47V801.2" stroke="#ff6347"/><path d="M443.22 780.65V801.2" stroke="#00ff00"/><path d="M444.61 782.78V801.2" stroke="#ff6347"/><path d="M446 768.13V801.2" stroke="#00ff00"/><path d="M447.39 776.99V801.2" stroke="#ff6347"/><path d="M448.78 777.81V801.2" stroke="#00ff00"/><path d="M450.17 786.42V801.2" stroke="#ff6347"/><path d="M451.56 772.78V801.2" stroke="#00ff00"/><path d="M452.95 783.69V801.2M454.34 782.08V801.2M455.73 774.87V801.2" stroke="#ff6347"/><path d="M457.12 779.59V801.2M458.51 786.45V801.2" stroke="#00ff00"/><path d="M459.9 778.64V801.2" stroke="#ff6347"/><path d="M461.29 777.82V801.2M462.68 759.4V801.2" stroke="#00ff00"/><path d="M464.06 774.96V801.2M465.45 779.27V801.2M466.84 772.36V801.2" stroke="#ff6347"/><path d="M468.23 777.56V801.2" stroke="#00ff00"/><path d="M469.62 775.82V801.2M471.01 761.97V801.2M472.4 770.69V801.2M473.79 764.3V801.2M475.18 765.23V801.2" stroke="#ff6347"/><path d="M476.57 770.9V801.2M477.96 779.59V801.2" stroke="#00ff00"/><path d="M479.35 773.15V801.2M480.74 780.23V801.2M482.13 784.34V801.2" stroke="#ff6347"/><path d="M483.52 782.63V801.2" stroke="#00ff00"/><path d="M484.91 779.3V801.2" stroke="#ff6347"/><path d="M486.3 775.93V801.2" stroke="#00ff00"/><path d="M487.69 780.74V801.2" stroke="#ff6347"/><path d="M489.08 778.02V801.2M490.47 784.07V801.2M491.86 777.6V801.2M493.24 777.31V801.2M494.63 770.51V801.2M496.02 779.21V801.2M497.41 773.4V801.2M498.8 771.22V801.2" stroke="#00ff00"/><path d="M500.19 785.37V801.2" stroke="#ff6347"/><path d="M501.58 778.02V801.2" stroke="#00ff00"/><path d="M502.97 773.96V801.2" stroke="#ff6347"/><path d="M504.36 774.45V801.2" stroke="#00ff00"/><path d="M505.75 778.14V801.2" stroke="#ff6347"/><path d="M507.14 781.76V801.2M508.53 786.76V801.2" stroke="#00ff00"/><path d="M509.92 784.18V801.2M511.31 782.56V801.2M512.7 770.4V801.2M514.09 785.38V801.2" stroke="#ff6347"/><path d="M515.48 783.69V801.2M516.87 773.68V801.2" stroke="#00ff00"/><path d="M518.26 785.65V801.2M519.64 787.71V801.2" stroke="#ff6347"/><path d="M521.03 791V801.2M522.42 787.98V801.2" stroke="#00ff00"/><path d="M523.81 784.67V801.2M525.2 785.61V801.2" stroke="#ff6347"/><path d="M526.59 786.96V801.2" stroke="#00ff00"/><path d="M527.98 783.69V801.2M529.37 782.99V801.2" stroke="#ff6347"/><path d="M530.76 775.59V801.2M532.15 784.5V801.2M533.54 788.02V801.2" stroke="#00ff00"/><path d="M534.93 789.13V801.2" stroke="#ff6347"/><path d="M536.32 790.24V801.2" stroke="#00ff00"/><path d="M537.71 787.62V801.2" stroke="#ff6347"/><path d="M539.1 786.77V801.2M540.49 781.47V801.2" stroke="#00ff00"/><path d="M541.88 778.61V801.2" stroke="#ff6347"/><path d="M543.27 784.22V801.2M544.66 783.32V801.2M546.05 772.82V801.2" stroke="#00ff00"/><path d="M547.43 780.54V801.2M548.82 780.67V801.2M550.21 756.5V801.2" stroke="#ff6347"/><path d="M551.6 778.77V801.2" stroke="#00ff00"/><path d="M552.99 782.21V801.2M554.38 767.4V801.2" stroke="#ff6347"/><path d="M555.77 770.87V801.2" stroke="#00ff00"/><path d="M557.16 776.58V801.2" stroke="#ff6347"/><path d="M558.55 778.53V801.2M559.94 783.56V801.2" stroke="#00ff00"/><path d="M561.33 784.09V801.2" stroke="#ff6347"/><path d="M562.72 770.4V801.2" stroke="#00ff00"/><path d="M564.11 771.87V801.2" stroke="#ff6347"/><path d="M565.5 778.89V801.2" stroke="#00ff00"/><path d="M566.89 781.72V801.2" stroke="#ff6347"/><path d="M568.28 778.81V801.2" stroke="#00ff00"/><path d="M569.67 776.03V801.2M571.06 782.12V801.2M572.45 787.13V801.2M573.84 771.1V801.2" stroke="#ff6347"/><path d="M575.23 784.06V801.2M576.61 778.7V801.2M578 779.68V801.2M579.39 780.48V801.2M580.78 783.59V801.2M582.17 779.65V801.2M583.56 772.75V801.2" stroke="#00ff00"/><path d="M584.95 780.81V801.2" stroke="#ff6347"/><path d="M586.34 775.17V801.2" stroke="#00ff00"/><path d="M587.73 781.54V801.2" stroke="#ff6347"/><path d="M589.12 782.31V801.2M590.51 772.4V801.2M591.9 785.77V801.2M593.29 781.26V801.2M594.68 786.88V801.2" stroke="#00ff00"/><path d="M596.07 782.01V801.2" stroke="#ff6347"/><path d="M597.46 776.27V801.2" stroke="#00ff00"/><path d="M598.85 768V801.2M600.24 763.8V801.2M601.63 773.93V801.2M603.01 772.57V801.2" stroke="#ff6347"/><path d="M604.4 757.15V801.2" stroke="#00ff00"/><path d="M605.79 774.04V801.2M607.18 775.35V801.2" stroke="#ff6347"/><path d="M608.57 770.82V801.2M609.96 775.72V801.2M611.35 785.07V801.2" stroke="#00ff00"/><path d="M612.74 786.24V801.2" stroke="#ff6347"/><path d="M614.13 786.31V801.2M615.52 785.27V801.2M616.91 784.73V801.2M618.3 782.8V801.2" stroke="#00ff00"/><path d="M619.69 781.47V801.2" stroke="#ff6347"/><path d="M621.08 773.8V801.2M622.47 783.91V801.2M623.86 780.26V801.2M625.25 781.88V801.2M626.64 765.75V801.2" stroke="#00ff00"/><path d="M628.03 782.67V801.2" stroke="#ff6347"/><path d="M629.42 784.79V801.2M630.8 782.03V801.2M632.19 785.44V801.2" stroke="#00ff00"/><path d="M633.58 783.01V801.2" stroke="#ff6347"/><path d="M634.97 784.4V801.2M636.36 784.71V801.2M637.75 787.73V801.2" stroke="#00ff00"/><path d="M639.14 781.9V801.2" stroke="#ff6347"/><path d="M640.53 788.41V801.2M641.92 784.5V801.2" stroke="#00ff00"/><path d="M643.31 785.38V801.2" stroke="#ff6347"/><path d="M644.7 782.65V801.2M646.09 784.36V801.2" stroke="#00ff00"/><path d="M647.48 783.38V801.2" stroke="#ff6347"/><path d="M648.87 783.45V801.2" stroke="#00ff00"/><path d="M650.26 783.05V801.2M651.65 783.68V801.2M653.04 781.22V801.2" stroke="#ff6347"/><path d="M654.43 786.81V801.2" stroke="#00ff00"/><path d="M655.82 789.07V801.2" stroke="#ff6347"/><path d="M657.21 789.83V801.2" stroke="#00ff00"/><path d="M658.59 789.3V801.2M659.98 790.75V801.2" stroke="#ff6347"/><path d="M661.37 790.11V801.2" stroke="#00ff00"/><path d="M662.76 784.09V801.2M664.15 782.96V801.2" stroke="#ff6347"/><path d="M665.54 783.31V801.2" stroke="#00ff00"/><path d="M666.93 782.97V801.2" stroke="#ff6347"/><path d="M668.32 783.73V801.2" stroke="#00ff00"/><path d="M669.71 769.1V801.2" stroke="#ff6347"/><path d="M671.1 784.13V801.2M672.49 780.99V801.2M673.88 789.09V801.2M675.27 782.96V801.2M676.66 783.91V801.2M678.05 779.31V801.2" stroke="#00ff00"/><path d="M679.44 781.93V801.2" stroke="#ff6347"/><path d="M680.83 783.53V801.2M682.22 791.34V801.2M683.61 789.6V801.2" stroke="#00ff00"/><path d="M685 789.49V801.2" stroke="#ff6347"/><path d="M686.38 790.03V801.2" stroke="#00ff00"/><path d="M687.77 785.71V801.2M689.16 757.2V801.2" stroke="#ff6347"/><path d="M690.55 782.11V801.2" stroke="#00ff00"/><path d="M691.94 778.89V801.2" stroke="#ff6347"/><path d="M693.33 776.59V801.2M694.72 773.87V801.2M696.11 766.18V801.2" stroke="#00ff00"/><path d="M697.5 770.52V801.2" stroke="#ff6347"/><path d="M698.89 784.1V801.2M700.28 783.83V801.2M701.67 785.08V801.2M703.06 781.86V801.2" stroke="#00ff00"/><path d="M704.45 783.06V801.2" stroke="#ff6347"/><path d="M705.84 782.39V801.2M707.23 783.16V801.2" stroke="#00ff00"/><path d="M708.62 769.88V801.2" stroke="#ff6347"/><path d="M710.01 778.54V801.2" stroke="#00ff00"/><path d="M711.4 772.31V801.2" stroke="#ff6347"/><path d="M712.79 776.84V801.2M714.17 777.63V801.2M715.56 785.59V801.2M716.95 784.74V801.2" stroke="#00ff00"/><path d="M718.34 780V801.2M719.73 774.34V801.2" stroke="#ff6347"/><path d="M721.12 786.94V801.2M722.51 774.78V801.2" stroke="#00ff00"/><path d="M723.9 766.8V801.2M725.29 780.44V801.2M726.68 769.4V801.2" stroke="#ff6347"/><path d="M728.07 787.21V801.2" stroke="#00ff00"/><path d="M729.46 775.69V801.2" stroke="#ff6347"/><path d="M730.85 773.21V801.2M732.24 777.32V801.2M733.63 778.57V801.2M735.02 772.96V801.2M736.41 781.5V801.2M737.8 779.79V801.2" stroke="#00ff00"/><path d="M739.19 786.97V801.2M740.58 780.05V801.2M741.96 781.36V801.2" stroke="#ff6347"/><path d="M743.35 765.74V801.2M744.74 775.35V801.2" stroke="#00ff00"/><path d="M746.13 767.32V801.2" stroke="#ff6347"/><path d="M747.52 765.4V801.2" stroke="#00ff00"/><path d="M748.91 764.4V801.2M750.3 765.63V801.2M751.69 750.6V801.2" stroke="#ff6347"/><path d="M753.08 733.8V801.2M754.47 747V801.2" stroke="#00ff00"/><path d="M755.86 750.4V801.2" stroke="#ff6347"/><path d="M757.25 766.4V801.2M758.64 742.07V801.2" stroke="#00ff00"/><path d="M760.03 751.34V801.2" stroke="#ff6347"/><path d="M761.42 755.8V801.2M762.81 738.69V801.2" stroke="#00ff00"/><path d="M764.2 765.44V801.2M765.59 735V801.2M766.98 743.12V801.2" stroke="#ff6347"/><path d="M768.37 742.6V801.2M769.75 749.4V801.2M771.14 770.83V801.2" stroke="#00ff00"/><path d="M772.53 757.4V801.2M773.92 737.9V801.2M775.31 747.9V801.2" stroke="#ff6347"/><path d="M776.7 761.59V801.2" stroke="#00ff00"/><path d="M778.09 753.1V801.2" stroke="#ff6347"/><path d="M779.48 760.4V801.2" stroke="#00ff00"/><path d="M780.87 768.85V801.2" stroke="#ff6347"/><path d="M782.26 764.98V801.2" stroke="#00ff00"/><path d="M783.65 756.74V801.2M785.04 771.77V801.2M786.43 774.95V801.2" stroke="#ff6347"/><path d="M787.82 775.65V801.2M789.21 767.95V801.2M790.6 773.13V801.2" stroke="#00ff00"/><path d="M791.99 776.73V801.2" stroke="#ff6347"/><path d="M793.38 775.79V801.2" stroke="#00ff00"/><path d="M794.77 777.28V801.2" stroke="#ff6347"/><path d="M796.16 774.31V801.2M797.54 779.52V801.2M798.93 762.43V801.2" stroke="#00ff00"/><path d="M800.32 766.8V801.2" stroke="#ff6347"/><path d="M801.71 785.6V801.2M803.1 782.73V801.2" stroke="#00ff00"/><path d="M804.49 784.68V801.2M805.88 789.58V801.2" stroke="#ff6347"/><path d="M807.27 784.6V801.2" stroke="#00ff00"/><path d="M808.66 783.79V801.2" stroke="#ff6347"/><path d="M810.05 778.97V801.2M811.44 782.69V801.2M812.83 771.52V801.2M814.22 762.8V801.2M815.61 777.79V801.2" stroke="#00ff00"/><path d="M817 770.61V801.2" stroke="#ff6347"/><path d="M818.39 772.68V801.2" stroke="#00ff00"/><path d="M819.78 770.77V801.2" stroke="#ff6347"/><path d="M821.17 778.83V801.2" stroke="#00ff00"/><path d="M822.56 780.17V801.2" stroke="#ff6347"/><path d="M823.95 780.84V801.2" stroke="#00ff00"/><path d="M825.33 768.9V801.2M826.72 779.4V801.2" stroke="#ff6347"/><path d="M828.11 776.9V801.2M829.5 781.04V801.2M830.89 780.35V801.2M832.28 782.28V801.2" stroke="#00ff00"/><path d="M833.67 781.23V801.2" stroke="#ff6347"/><path d="M835.06 784.14V801.2" stroke="#00ff00"/><path d="M836.45 780.51V801.2" stroke="#ff6347"/><path d="M837.84 782.46V801.2M839.23 787.1V801.2M840.62 780.79V801.2M842.01 783.38V801.2M843.4 783.96V801.2M844.79 781.06V801.2M846.18 781.04V801.2M847.57 775.04V801.2" stroke="#00ff00"/><path d="M848.96 783.47V801.2" stroke="#ff6347"/><path d="M850.35 770.63V801.2" stroke="#00ff00"/><path d="M851.74 784.94V801.2M853.12 768.9V801.2" stroke="#ff6347"/><path d="M854.51 781.02V801.2M855.9 782.61V801.2M857.29 780.91V801.2M858.68 777.56V801.2" stroke="#00ff00"/><path d="M860.07 781.3V801.2M861.46 758.7V801.2M862.85 779.39V801.2" stroke="#ff6347"/><path d="M864.24 767.4V801.2" stroke="#00ff00"/><path d="M865.63 776.39V801.2" stroke="#ff6347"/><path d="M867.02 772.32V801.2" stroke="#00ff00"/><path d="M868.41 768.4V801.2" stroke="#ff6347"/><path d="M869.8 770.79V801.2M871.19 784.82V801.2" stroke="#00ff00"/><path d="M872.58 779.61V801.2" stroke="#ff6347"/><path d="M873.97 772.01V801.2" stroke="#00ff00"/><path d="M875.36 766.08V801.2" stroke="#ff6347"/><path d="M876.75 769.57V801.2M878.14 762.62V801.2" stroke="#00ff00"/><path d="M879.53 770.66V801.2" stroke="#ff6347"/><path d="M880.91 777.71V801.2" stroke="#00ff00"/><path d="M882.3 770.4V801.2" stroke="#ff6347"/><path d="M883.69 784.61V801.2" stroke="#00ff00"/><path d="M885.08 786.17V801.2M886.47 777.28V801.2" stroke="#ff6347"/><path d="M887.86 779.94V801.2" stroke="#00ff00"/><path d="M889.25 779.64V801.2M890.64 778.69V801.2" stroke="#ff6347"/><path d="M892.03 783.35V801.2" stroke="#00ff00"/><path d="M893.42 769.4V801.2M894.81 778.1V801.2" stroke="#ff6347"/><path d="M896.2 775.96V801.2M897.59 776.54V801.2M898.98 779.39V801.2M900.37 782.76V801.2M901.76 741.9V801.2M903.15 752.4V801.2M904.54 771.2V801.2M905.93 775.12V801.2M907.32 768.4V801.2M908.7 760.88V801.2M910.09 767.4V801.2M911.48 771.71V801.2M912.87 771.03V801.2M914.26 767.4V801.2M915.65 774.16V801.2M917.04 761.63V801.2M918.43 760.25V801.2M919.82 764.68V801.2M921.21 766.17V801.2M922.6 747.7V801.2" stroke="#00ff00"/><path d="M923.99 746.2V801.2" stroke="#ff6347"/><path d="M925.38 767.4V801.2M926.77 759.58V801.2M928.16 766.75V801.2" stroke="#00ff00"/><path d="M929.55 769.6V801.2" stroke="#ff6347"/><path d="M930.94 765.4V801.2" stroke="#00ff00"/><path d="M932.33 771.08V801.2M933.72 761.58V801.2M935.11 759.4V801.2" stroke="#ff6347"/><path d="M936.5 748.1V801.2" stroke="#00ff00"/><path d="M937.88 764.4V801.2M939.27 757.33V801.2" stroke="#ff6347"/><path d="M940.66 761.21V801.2M942.05 761.1V801.2" stroke="#00ff00"/><path d="M943.44 741.43V801.2" stroke="#ff6347"/><path d="M944.83 774.76V801.2" stroke="#00ff00"/><path d="M946.22 770.4V801.2M947.61 777.45V801.2M949 755.5V801.2" stroke="#ff6347"/><path d="M950.39 769.4V801.2M951.78 786.65V801.2M953.17 776.01V801.2M954.56 778.8V801.2" stroke="#00ff00"/><path d="M955.95 778.39V801.2" stroke="#ff6347"/><path d="M957.34 784.65V801.2M958.73 776.63V801.2M960.12 783.01V801.2" stroke="#00ff00"/><path d="M961.51 784.44V801.2" stroke="#ff6347"/><path d="M962.9 782.95V801.2M964.28 776.44V801.2" stroke="#00ff00"/><path d="M965.67 786.01V801.2" stroke="#ff6347"/><path d="M967.06 781.37V801.2M968.45 779.92V801.2" stroke="#00ff00"/><path d="M969.84 778.9V801.2" stroke="#ff6347"/><path d="M971.23 762.4V801.2" stroke="#00ff00"/><path d="M972.62 759.4V801.2" stroke="#ff6347"/><path d="M974.01 775.49V801.2M975.4 780.51V801.2M976.79 778.62V801.2" stroke="#00ff00"/><path d="M978.18 781.49V801.2" stroke="#ff6347"/><path d="M979.57 774.06V801.2" stroke="#00ff00"/><path d="M980.96 775.54V801.2" stroke="#ff6347"/><path d="M982.35 781.1V801.2" stroke="#00ff00"/><path d="M983.74 780.42V801.2" stroke="#ff6347"/><path d="M985.13 779.12V801.2" stroke="#00ff00"/><path d="M986.52 774.57V801.2M987.91 776.54V801.2" stroke="#ff6347"/><path d="M989.3 780.79V801.2" stroke="#00ff00"/><path d="M990.69 770.4V801.2" stroke="#ff6347"/><path d="M992.07 781.3V801.2M993.46 788.29V801.2M994.85 779.81V801.2" stroke="#00ff00"/><path d="M996.24 776.25V801.2" stroke="#ff6347"/><path d="M997.63 779.44V801.2M999.02 779.99V801.2M1000.41 781.6V801.2M1001.8 777.11V801.2M1003.19 784.01V801.2" stroke="#00ff00"/><path d="M1004.58 782.1V801.2" stroke="#ff6347"/><path d="M1005.97 767.83V801.2" stroke="#00ff00"/><path d="M1007.36 780.91V801.2" stroke="#ff6347"/><path d="M1008.75 782.74V801.2" stroke="#00ff00"/><path d="M1010.14 783.79V801.2" stroke="#ff6347"/><path d="M1011.53 781.57V801.2" stroke="#00ff00"/><path d="M1012.92 783.09V801.2M1014.31 784.39V801.2" stroke="#ff6347"/><path d="M1015.7 779.87V801.2M1017.09 774.21V801.2M1018.48 773.8V801.2M1019.86 763.4V801.2" stroke="#00ff00"/><path d="M1021.25 775.42V801.2" stroke="#ff6347"/><path d="M1022.64 777.82V801.2M1024.03 782.68V801.2M1025.42 784.15V801.2" stroke="#00ff00"/><path d="M1026.81 775.68V801.2" stroke="#ff6347"/><path d="M1028.2 779.76V801.2" stroke="#00ff00"/><path d="M1029.59 784.42V801.2" stroke="#ff6347"/></g></g><path d="M89.0 731.6H1030" stroke="#666666" stroke-width="1.2" fill="none"/><line x1="89.0" y1="731.6" x2="89.0" y2="803.8" stroke="#000" stroke-width="1.2"/><line x1="81.9" y1="738.4" x2="91.4" y2="738.4" stroke="#000" stroke-width="1.2"/><text x="76.0" y="743" text-anchor="end" font-family="'Liberation Sans', Arial, sans-serif" font-size="13" fill="#444444">400 m</text><line x1="81.9" y1="753.95" x2="91.4" y2="753.95" stroke="#000" stroke-width="1.2"/><text x="76.0" y="758.55" text-anchor="end" font-family="'Liberation Sans', Arial, sans-serif" font-size="13" fill="#444444">300 m</text><line x1="81.9" y1="769.5" x2="91.4" y2="769.5" stroke="#000" stroke-width="1.2"/><text x="76.0" y="774.1" text-anchor="end" font-family="'Liberation Sans', Arial, sans-serif" font-size="13" fill="#444444">200 m</text><line x1="81.9" y1="785.05" x2="91.4" y2="785.05" stroke="#000" stroke-width="1.2"/><text x="76.0" y="789.65" text-anchor="end" font-family="'Liberation Sans', Arial, sans-serif" font-size="13" fill="#444444">100 m</text><line x1="81.9" y1="800.6" x2="91.4" y2="800.6" stroke="#000" stroke-width="1.2"/><text x="76.0" y="805.2" text-anchor="end" font-family="'Liberation Sans', Arial, sans-serif" font-size="13" fill="#444444">0</text><text x="26.8" y="767.7" transform="rotate(-90 26.8 767.7)" text-anchor="middle" font-family="'Liberation Sans', Arial, sans-serif" font-size="15.4" font-style="italic" fill="#444444">Volume</text><line x1="88.4" y1="804.3" x2="1030" y2="804.3" stroke="#000" stroke-width="1.2"/><line x1="88.9" y1="801.9" x2="88.9" y2="811.6999999999999" stroke="#000" stroke-width="1.2"/><line x1="366.8" y1="801.9" x2="366.8" y2="811.6999999999999" stroke="#000" stroke-width="1.2"/><line x1="644.7" y1="801.9" x2="644.7" y2="811.6999999999999" stroke="#000" stroke-width="1.2"/><line x1="922.6" y1="801.9" x2="922.6" y2="811.6999999999999" stroke="#000" stroke-width="1.2"/><line x1="144.48" y1="804.3" x2="144.48" y2="809.0" stroke="#000" stroke-width="1.2"/><line x1="200.06" y1="804.3" x2="200.06" y2="809.0" stroke="#000" stroke-width="1.2"/><line x1="255.64" y1="804.3" x2="255.64" y2="809.0" stroke="#000" stroke-width="1.2"/><line x1="311.22" y1="804.3" x2="311.22" y2="809.0" stroke="#000" stroke-width="1.2"/><line x1="422.38" y1="804.3" x2="422.38" y2="809.0" stroke="#000" stroke-width="1.2"/><line x1="477.96" y1="804.3" x2="477.96" y2="809.0" stroke="#000" stroke-width="1.2"/><line x1="533.54" y1="804.3" x2="533.54" y2="809.0" stroke="#000" stroke-width="1.2"/><line x1="589.12" y1="804.3" x2="589.12" y2="809.0" stroke="#000" stroke-width="1.2"/><line x1="700.28" y1="804.3" x2="700.28" y2="809.0" stroke="#000" stroke-width="1.2"/><line x1="755.86" y1="804.3" x2="755.86" y2="809.0" stroke="#000" stroke-width="1.2"/><line x1="811.44" y1="804.3" x2="811.44" y2="809.0" stroke="#000" stroke-width="1.2"/><line x1="867.02" y1="804.3" x2="867.02" y2="809.0" stroke="#000" stroke-width="1.2"/><line x1="978.18" y1="804.3" x2="978.18" y2="809.0" stroke="#000" stroke-width="1.2"/><text x="88.9" y="829.2" text-anchor="middle" font-family="'Liberation Sans', Arial, sans-serif" font-size="13" fill="#444444">Apr'18</text><text x="366.8" y="829.2" text-anchor="middle" font-family="'Liberation Sans', Arial, sans-serif" font-size="13" fill="#444444">Jan'19</text><text x="644.7" y="829.2" text-anchor="middle" font-family="'Liberation Sans', Arial, sans-serif" font-size="13" fill="#444444">Nov'19</text><text x="922.6" y="829.2" text-anchor="middle" font-family="'Liberation Sans', Arial, sans-serif" font-size="13" fill="#444444">Aug'20</text><line x1="928.7" y1="19.6" x2="928.7" y2="139.8" stroke="#000" stroke-width="1.2"/><line x1="928.7" y1="150.4" x2="928.7" y2="246.4" stroke="#000" stroke-width="1.2"/><line x1="928.7" y1="256.6" x2="928.7" y2="720.6" stroke="#000" stroke-width="1.2"/><line x1="928.7" y1="731.6" x2="928.7" y2="803.8" stroke="#000" stroke-width="1.2"/><line x1="89.0" y1="547.3" x2="1030" y2="547.3" stroke="#000" stroke-width="1.2"/></svg></body></html>
